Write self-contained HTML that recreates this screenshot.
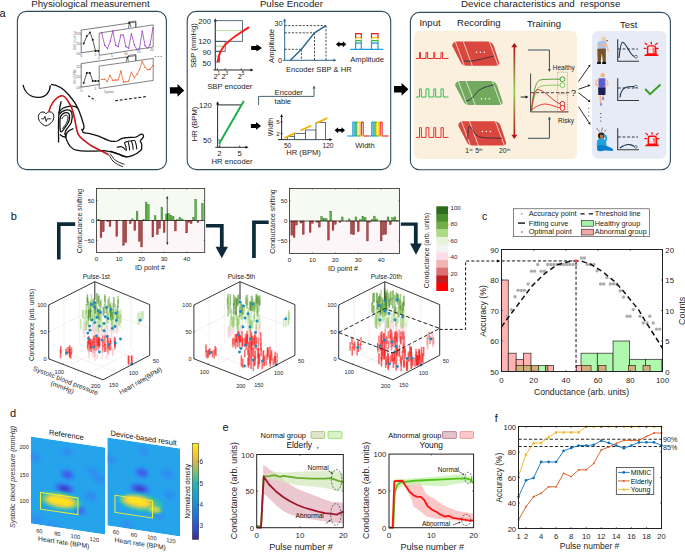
<!DOCTYPE html>
<html><head><meta charset="utf-8"><style>
html,body{margin:0;padding:0;background:#fff;}
body{width:685px;height:556px;overflow:hidden;}
svg{display:block;font-family:"Liberation Sans",sans-serif;}
</style></head><body>
<svg width="685" height="556" viewBox="0 0 685 556">
<defs><linearGradient id="ga" x1="0" y1="0" x2="0" y2="1"><stop offset="0" stop-color="#b0121a"/><stop offset="0.5" stop-color="#8cd04a"/><stop offset="1" stop-color="#c0121a"/></linearGradient>
<filter id="hb" x="-20%" y="-20%" width="140%" height="140%"><feGaussianBlur stdDeviation="2.1"/></filter>
<filter id="hb2" x="-20%" y="-20%" width="140%" height="140%"><feGaussianBlur stdDeviation="1.3"/></filter>
<linearGradient id="parula" x1="0" y1="1" x2="0" y2="0"><stop offset="0" stop-color="#3b2b95"/><stop offset="0.12" stop-color="#2f4fd0"/><stop offset="0.3" stop-color="#1a80e0"/><stop offset="0.45" stop-color="#14a3d8"/><stop offset="0.58" stop-color="#22b7b0"/><stop offset="0.7" stop-color="#7cc07a"/><stop offset="0.82" stop-color="#e0b84a"/><stop offset="0.92" stop-color="#fcd02c"/><stop offset="1" stop-color="#f8f41a"/></linearGradient>
<clipPath id="hc1"><rect x="0" y="0" width="74.3" height="87"/></clipPath>
<clipPath id="hc2"><rect x="0" y="0" width="72.7" height="87.9"/></clipPath></defs>
<rect width="685" height="556" fill="#fff"/>
<text x="-0.5" y="16.8" font-size="11" text-anchor="start" fill="#111">a</text>
<text x="31.2" y="6.8" font-size="9.7" text-anchor="start" fill="#1c1c1c">Physiological measurement</text>
<text x="259.9" y="7.2" font-size="9.7" text-anchor="start" fill="#1c1c1c">Pulse Encoder</text>
<text x="461" y="7" font-size="9.75" fill="#222" xml:space="preserve">Device characteristics and  response</text>
<rect x="17.4" y="11.4" width="149" height="158.2" fill="none" stroke="#2f4b5e" stroke-width="1.1" rx="9"/>
<rect x="187.2" y="11.4" width="203.5" height="158.2" fill="none" stroke="#2f4b5e" stroke-width="1.1" rx="9"/>
<rect x="414" y="30.7" width="163" height="128.3" fill="#fbf0de" stroke="none" stroke-width="1" rx="6"/>
<rect x="592" y="31" width="74.5" height="127.8" fill="#e6ebf6" stroke="none" stroke-width="1" rx="6"/>
<rect x="410.4" y="12.4" width="260" height="157.3" fill="none" stroke="#2f4b5e" stroke-width="1.1" rx="9"/>
<polygon points="169.9,87.2 177.5,87.2 177.5,84 184.2,90.4 177.5,96.8 177.5,93.6 169.9,93.6" stroke="none" stroke-width="1" fill="#000"/>
<polygon points="394,86.1 401.6,86.1 401.6,82.9 408.4,89.3 401.6,95.7 401.6,92.5 394,92.5" stroke="none" stroke-width="1" fill="#000"/>
<polygon points="81.2,30.1 135.8,22.2 135.8,44.9 81.2,52.8" stroke="#222" stroke-width="0.6" fill="#fff"/>
<polyline points="128.5,24 128.5,22 135.8,21 135.8,27.5" stroke="#222" stroke-width="0.6" fill="none"/>
<polyline points="83.68,43.54 86.79,36.09 89.89,32.37 92.74,39.81 95.47,50.98 98.57,50.98" stroke="#111" stroke-width="0.7" fill="none"/>
<circle cx="83.68" cy="43.54" r="0.95" fill="#111" stroke="none" stroke-width="1"/>
<circle cx="86.79" cy="36.09" r="0.95" fill="#111" stroke="none" stroke-width="1"/>
<circle cx="89.89" cy="32.37" r="0.95" fill="#111" stroke="none" stroke-width="1"/>
<circle cx="92.74" cy="39.81" r="0.95" fill="#111" stroke="none" stroke-width="1"/>
<circle cx="95.47" cy="50.98" r="0.95" fill="#111" stroke="none" stroke-width="1"/>
<circle cx="98.57" cy="50.98" r="0.95" fill="#111" stroke="none" stroke-width="1"/>
<polyline points="128.35,28.03 129.59,22.44 131.08,27.41" stroke="#111" stroke-width="0.6" fill="none"/>
<circle cx="129.59" cy="22.44" r="0.8" fill="#111" stroke="none" stroke-width="1"/>
<polygon points="99.2,33 153.2,24.9 153.2,47 99.2,55.3" stroke="#333" stroke-width="0.6" fill="#fff"/>
<polyline points="101.67,32.99 104.78,45.4 107.51,48.5 110.36,41.05 112.84,30.88 115.69,45.4 118.18,46.64 120.91,34.85 123.39,35.1 125.87,46.64 128.6,48.25 131.45,33.61 134.31,44.78 137.03,49.74 139.52,48.25 142.25,31.13 145.1,45.77 147.58,48.25 150.06,44.78 152.92,28.03" stroke="#9b3fc0" stroke-width="0.8" fill="none"/>
<circle cx="101.67" cy="32.99" r="0.7" fill="#9b3fc0" stroke="none" stroke-width="1"/>
<circle cx="104.78" cy="45.4" r="0.7" fill="#9b3fc0" stroke="none" stroke-width="1"/>
<circle cx="107.51" cy="48.5" r="0.7" fill="#9b3fc0" stroke="none" stroke-width="1"/>
<circle cx="110.36" cy="41.05" r="0.7" fill="#9b3fc0" stroke="none" stroke-width="1"/>
<circle cx="112.84" cy="30.88" r="0.7" fill="#9b3fc0" stroke="none" stroke-width="1"/>
<circle cx="115.69" cy="45.4" r="0.7" fill="#9b3fc0" stroke="none" stroke-width="1"/>
<circle cx="118.18" cy="46.64" r="0.7" fill="#9b3fc0" stroke="none" stroke-width="1"/>
<circle cx="120.91" cy="34.85" r="0.7" fill="#9b3fc0" stroke="none" stroke-width="1"/>
<circle cx="123.39" cy="35.1" r="0.7" fill="#9b3fc0" stroke="none" stroke-width="1"/>
<circle cx="125.87" cy="46.64" r="0.7" fill="#9b3fc0" stroke="none" stroke-width="1"/>
<circle cx="128.6" cy="48.25" r="0.7" fill="#9b3fc0" stroke="none" stroke-width="1"/>
<circle cx="131.45" cy="33.61" r="0.7" fill="#9b3fc0" stroke="none" stroke-width="1"/>
<circle cx="134.31" cy="44.78" r="0.7" fill="#9b3fc0" stroke="none" stroke-width="1"/>
<circle cx="137.03" cy="49.74" r="0.7" fill="#9b3fc0" stroke="none" stroke-width="1"/>
<circle cx="139.52" cy="48.25" r="0.7" fill="#9b3fc0" stroke="none" stroke-width="1"/>
<circle cx="142.25" cy="31.13" r="0.7" fill="#9b3fc0" stroke="none" stroke-width="1"/>
<circle cx="145.1" cy="45.77" r="0.7" fill="#9b3fc0" stroke="none" stroke-width="1"/>
<circle cx="147.58" cy="48.25" r="0.7" fill="#9b3fc0" stroke="none" stroke-width="1"/>
<circle cx="150.06" cy="44.78" r="0.7" fill="#9b3fc0" stroke="none" stroke-width="1"/>
<circle cx="152.92" cy="28.03" r="0.7" fill="#9b3fc0" stroke="none" stroke-width="1"/>
<text x="76" y="35" font-size="3.2" text-anchor="start" fill="#666">120</text>
<text x="76" y="44.8" font-size="3.2" text-anchor="start" fill="#666">110</text>
<text x="76" y="55" font-size="3.2" text-anchor="start" fill="#666">100</text>
<text x="80.6" y="57.4" font-size="3.2" text-anchor="start" fill="#555">0</text>
<text x="94.6" y="55.6" font-size="3.2" text-anchor="start" fill="#555">5</text>
<text x="98.3" y="58.8" font-size="3.2" text-anchor="start" fill="#555">0</text>
<text x="111" y="57" font-size="3.2" text-anchor="start" fill="#555">5</text>
<text x="124" y="55" font-size="3.2" text-anchor="start" fill="#555">10</text>
<text x="137" y="53" font-size="3.2" text-anchor="start" fill="#555">15</text>
<text x="150" y="51" font-size="3.2" text-anchor="start" fill="#555">20</text>
<text x="75.5" y="50" font-size="3.2" fill="#777" transform="rotate(-90 75.5 50)">SBP (mmHg)</text>
<polygon points="81.2,63.6 135.8,55.6 135.8,79 81.2,87.2" stroke="#222" stroke-width="0.6" fill="#fff"/>
<polyline points="128.5,57.5 128.5,55.5 135.8,54.5 135.8,61.2" stroke="#222" stroke-width="0.6" fill="none"/>
<polyline points="83.68,82.88 86.79,72.95 89.89,72.95 92.74,81.02 95.47,81.02 98.57,81.02" stroke="#111" stroke-width="0.7" fill="none"/>
<circle cx="83.68" cy="82.88" r="0.95" fill="#111" stroke="none" stroke-width="1"/>
<circle cx="86.79" cy="72.95" r="0.95" fill="#111" stroke="none" stroke-width="1"/>
<circle cx="89.89" cy="72.95" r="0.95" fill="#111" stroke="none" stroke-width="1"/>
<circle cx="92.74" cy="81.02" r="0.95" fill="#111" stroke="none" stroke-width="1"/>
<circle cx="95.47" cy="81.02" r="0.95" fill="#111" stroke="none" stroke-width="1"/>
<circle cx="98.57" cy="81.02" r="0.95" fill="#111" stroke="none" stroke-width="1"/>
<polyline points="126.12,61.79 127.36,57.44 128.6,61.41" stroke="#111" stroke-width="0.6" fill="none"/>
<circle cx="127.36" cy="57.44" r="0.8" fill="#111" stroke="none" stroke-width="1"/>
<polygon points="99.2,66.1 153.2,58.4 153.2,80.4 99.2,88.5" stroke="#333" stroke-width="0.6" fill="#fff"/>
<polyline points="101.67,79.53 104.53,79.16 107.26,81.64 110.11,75.43 112.84,80.4 115.69,80.02 118.18,80.02 120.91,70.84 123.39,82.01 125.87,81.64 128.6,81.27 131.45,72.08 134.31,77.92 137.03,74.19 139.52,69.85 142.25,61.41 145.1,67.37 147.58,69.85 150.06,69.23 152.92,65.51" stroke="#e8622a" stroke-width="0.8" fill="none"/>
<circle cx="101.67" cy="79.53" r="0.7" fill="#e8622a" stroke="none" stroke-width="1"/>
<circle cx="104.53" cy="79.16" r="0.7" fill="#e8622a" stroke="none" stroke-width="1"/>
<circle cx="107.26" cy="81.64" r="0.7" fill="#e8622a" stroke="none" stroke-width="1"/>
<circle cx="110.11" cy="75.43" r="0.7" fill="#e8622a" stroke="none" stroke-width="1"/>
<circle cx="112.84" cy="80.4" r="0.7" fill="#e8622a" stroke="none" stroke-width="1"/>
<circle cx="115.69" cy="80.02" r="0.7" fill="#e8622a" stroke="none" stroke-width="1"/>
<circle cx="118.18" cy="80.02" r="0.7" fill="#e8622a" stroke="none" stroke-width="1"/>
<circle cx="120.91" cy="70.84" r="0.7" fill="#e8622a" stroke="none" stroke-width="1"/>
<circle cx="123.39" cy="82.01" r="0.7" fill="#e8622a" stroke="none" stroke-width="1"/>
<circle cx="125.87" cy="81.64" r="0.7" fill="#e8622a" stroke="none" stroke-width="1"/>
<circle cx="128.6" cy="81.27" r="0.7" fill="#e8622a" stroke="none" stroke-width="1"/>
<circle cx="131.45" cy="72.08" r="0.7" fill="#e8622a" stroke="none" stroke-width="1"/>
<circle cx="134.31" cy="77.92" r="0.7" fill="#e8622a" stroke="none" stroke-width="1"/>
<circle cx="137.03" cy="74.19" r="0.7" fill="#e8622a" stroke="none" stroke-width="1"/>
<circle cx="139.52" cy="69.85" r="0.7" fill="#e8622a" stroke="none" stroke-width="1"/>
<circle cx="142.25" cy="61.41" r="0.7" fill="#e8622a" stroke="none" stroke-width="1"/>
<circle cx="145.1" cy="67.37" r="0.7" fill="#e8622a" stroke="none" stroke-width="1"/>
<circle cx="147.58" cy="69.85" r="0.7" fill="#e8622a" stroke="none" stroke-width="1"/>
<circle cx="150.06" cy="69.23" r="0.7" fill="#e8622a" stroke="none" stroke-width="1"/>
<circle cx="152.92" cy="65.51" r="0.7" fill="#e8622a" stroke="none" stroke-width="1"/>
<text x="76" y="67.5" font-size="3.2" text-anchor="start" fill="#666">112</text>
<text x="76" y="78" font-size="3.2" text-anchor="start" fill="#666">110</text>
<text x="76" y="89" font-size="3.2" text-anchor="start" fill="#666">108</text>
<text x="80.6" y="91.5" font-size="3.2" text-anchor="start" fill="#555">0</text>
<text x="94.6" y="89.5" font-size="3.2" text-anchor="start" fill="#555">5</text>
<text x="104" y="92.5" font-size="3.2" text-anchor="start" fill="#555">Cycles</text>
<text x="75.5" y="84" font-size="3.2" fill="#777" transform="rotate(-90 75.5 84)">HR (BPM)</text>
<circle cx="155.2" cy="56.4" r="0.5" fill="#262626" stroke="none" stroke-width="1"/>
<circle cx="158.2" cy="56.4" r="0.5" fill="#262626" stroke="none" stroke-width="1"/>
<circle cx="161.2" cy="56.4" r="0.5" fill="#262626" stroke="none" stroke-width="1"/>
<line x1="88.1" y1="95.7" x2="95.5" y2="100.4" stroke="#1c1c1c" stroke-width="1.1" stroke-dasharray="2.4,1.8"/>
<line x1="115.1" y1="100.7" x2="146.1" y2="96.6" stroke="#1c1c1c" stroke-width="1.1" stroke-dasharray="2.8,1.9"/>
<path d="M23,84.9 C25,93 31,97.8 39.2,97.4 C46,97 50,92 50.3,85.3" stroke="#111" stroke-width="1.3" fill="none"/>
<path d="M51,84.4 C58,85 64,89 68.9,95 C73,100 76,104 77,106.7 C79.5,111 81.5,117.5 83.7,124.7 C84.3,127.5 83.6,129.5 82.5,130.2" stroke="#111" stroke-width="1.3" fill="none"/>
<path d="M45.8,126.0 C42,124.5 38.6,121.5 38.4,117.5 C38.2,114 40.5,111.8 43,112.0 C44.5,112.1 45.5,113 46.0,114.0 C46.6,112.8 48,111.8 49.8,111.8 C52.5,111.9 54.1,114.2 53.8,117.5 C53.4,121.5 50,124.5 45.8,126.0 Z" stroke="#111" stroke-width="1" fill="#fff"/>
<path d="M41.3,118.8 L43.8,118.8 L44.9,116.3 L46.2,121.4 L47.3,118.8 L50.8,118.8" stroke="#111" stroke-width="0.9" fill="none"/>
<path d="M61.2,101.3 C59.6,107 58.7,114 58.5,122 C58.4,130 58.5,137 58.6,142.6" stroke="#111" stroke-width="1.3" fill="none"/>
<path d="M58.8,113.5 C60,110 62,108.2 65,107.3 C68,106.4 72,106.0 74.3,106.3 C75.8,106.6 76.8,107.3 77.2,108.3" stroke="#111" stroke-width="1.3" fill="none"/>
<path d="M59.2,114.5 C61,111.8 63.5,110.5 66.5,109.9 C69,109.6 71,110.5 71.8,112.5 C72.6,115.5 72.3,119.5 71.3,122.5 C70.3,125.2 68.5,127 66.8,129.0 C65.5,130.5 65.0,132.5 64.8,134.5" stroke="#111" stroke-width="1.3" fill="none"/>
<path d="M60.3,117.5 C61.2,114.5 63.2,113.0 66.0,112.6 C68.0,112.4 69.3,113.5 69.5,115.5 C69.8,118.5 69.0,121.8 67.5,124.0 C66.3,126.0 64.8,127.5 63.4,129.8 C62.6,131.2 61.4,132.2 60.6,131.6 C60.0,130.0 59.9,126.5 59.9,122.5 C59.9,120.5 60.0,119.0 60.3,117.5 Z" stroke="#111" stroke-width="1.3" fill="none"/>
<path d="M61.8,119.0 C62.8,116.5 64.5,115.3 66.2,115.2 C67.5,115.2 68.0,116.3 67.9,118.2 C67.7,120.8 66.6,123.3 65.3,125.0 C64.3,126.3 63.2,127.5 62.4,128.8" stroke="#111" stroke-width="0.9" fill="none"/>
<path d="M59.9,134.6 C61.5,136 63.5,137.2 65.2,137.0 M65.2,133.3 C65.5,137.5 66.8,142 70.3,146.6 C72.5,148.8 74.5,149.8 76.5,150.1 C80,151 83,151.2 85.7,151.2 C90,151.2 95,151 104,150.7 C108,151 112,151.6 118.4,154.2 C121,155.3 124,156.3 127.2,157.1" stroke="#111" stroke-width="1.3" fill="none"/>
<path d="M73.4,128.7 C70.5,129.5 68.3,130.8 67.3,132.3 C66.3,133.8 65.8,135.5 65.7,137.5" stroke="#111" stroke-width="1.3" fill="none"/>
<path d="M81.6,128.7 C82.2,130 82.5,131.5 83.1,132.3 C85,133 86.8,133.2 88.7,133.3 C92,134 95,134.8 97.9,135.8 C101,137 104,138.5 107,139.8 C109,140.7 110.5,141.2 112,141.3 C114.5,141.5 116.3,141.5 117.3,141.0 C119,140.0 120.5,139.0 122.2,138.4 C124.5,137.7 126.5,137.5 128.3,137.5 C131,137.4 133.5,137.3 135.7,137.2 C137.5,136.5 139.2,135.2 140.6,134.4 C141.8,134.0 142.9,134.4 143.4,135.3 C143.8,136.2 143.5,136.9 143.0,137.6 C142.2,138.8 141.0,140.0 140.0,140.8" stroke="#111" stroke-width="1.3" fill="none"/>
<path d="M140.0,140.8 C141.2,142.2 141.9,143.8 141.8,145.1 C141.8,146.8 141.7,148.2 141.5,149.4 C140.8,150.6 139.8,151.4 138.7,151.9 C137.8,152.6 137.0,153.2 136.3,153.7 C135.4,154.2 134.7,154.6 133.9,154.9 C132.8,155.4 131.8,155.8 130.8,156.1 C130.0,156.4 129.2,156.6 128.3,156.7 C127.3,156.8 126.3,156.8 125.3,156.7 C124.2,156.5 123.2,156.2 122.2,155.8 C120.5,155.0 119.0,154.3 117.3,153.7 C115.8,153.1 114.5,152.6 113.1,152.2 C112.0,151.8 111.0,151.5 110.0,151.2" stroke="#111" stroke-width="1.3" fill="none"/>
<path d="M124.4,143.0 C125.8,141.8 126.8,141.3 127.7,141.2 C129.0,140.9 130.0,140.8 131.1,140.8 C132.3,140.5 133.4,140.2 134.5,140.2" stroke="#111" stroke-width="1.1" fill="none"/>
<path d="M124.4,143 C126,145.5 126.3,147.3 126.5,150.3" stroke="#111" stroke-width="1.1" fill="none"/>
<path d="M127.7,141.2 C129.3,143.7 129.4,147.4 129.6,150.4" stroke="#111" stroke-width="1.1" fill="none"/>
<path d="M131.1,140.8 C132.7,143.3 133,146.8 133.2,149.8" stroke="#111" stroke-width="1.1" fill="none"/>
<path d="M134.5,140.2 C136.1,142.7 136.6,146.4 136.8,149.4" stroke="#111" stroke-width="1.1" fill="none"/>
<path d="M116.7,147.6 C118.5,146.7 120.3,146.5 121.6,146.7 C123.2,147.2 124.2,148.0 124.9,149.2 C125.4,150.0 126.0,150.4 126.5,150.3" stroke="#111" stroke-width="1.1" fill="none"/>
<path d="M108.6,154.7 C110.5,157 111.5,159.5 112.8,161.0 C115.5,163.5 119,165.3 123.0,166.8" stroke="#111" stroke-width="0.9" fill="none"/>
<path d="M110.2,153.7 C112,156 113.2,158.5 114.6,159.6 C117.5,161.8 121,163.3 124.5,164.3" stroke="#111" stroke-width="0.9" fill="none"/>
<path d="M48.8,111.6 C50.5,105 55,97.5 60.8,95.9 C64,95.3 66.5,98.5 68.0,101.3 C69.8,104 70.8,105.5 71.6,107.6 C73,111.5 73.8,114.5 74.3,117.5 C75.2,121.5 75.6,124 76.1,126.5 C76.7,129.5 77.2,131.5 77.9,133.7 C79,136 80.5,137.8 82.4,139.1 C86,142 88.5,143.6 90.8,145.5 C94.5,147.6 98,149.2 101.0,150.7 C104,152.2 106.5,153.5 108.6,154.7" stroke="#c8151b" stroke-width="1.6" fill="none"/>
<line x1="215.3" y1="70" x2="215.3" y2="20.5" stroke="#111" stroke-width="0.9"/>
<polygon points="213.8,21.5 215.3,18.2 216.8,21.5" stroke="none" stroke-width="1" fill="#111"/>
<line x1="213.5" y1="70" x2="251" y2="70" stroke="#111" stroke-width="0.9"/>
<polygon points="250.5,68.5 253.5,70 250.5,71.5" stroke="none" stroke-width="1" fill="#111"/>
<line x1="217.4" y1="70" x2="217.4" y2="68.3" stroke="#111" stroke-width="0.7"/>
<line x1="225.2" y1="70" x2="225.2" y2="68.3" stroke="#111" stroke-width="0.7"/>
<line x1="241.3" y1="70" x2="241.3" y2="68.3" stroke="#111" stroke-width="0.7"/>
<rect x="215.3" y="20.7" width="27.1" height="20.6" fill="none" stroke="#34505f" stroke-width="0.8"/>
<rect x="215.3" y="41.3" width="9.9" height="10" fill="none" stroke="#34505f" stroke-width="0.8"/>
<rect x="215.3" y="51.3" width="4.1" height="10.7" fill="none" stroke="#34505f" stroke-width="0.8"/>
<line x1="215.6" y1="30.6" x2="242.2" y2="30.6" stroke="#a9d48e" stroke-width="0.8"/>
<line x1="215.6" y1="46.2" x2="225" y2="46.2" stroke="#7fc060" stroke-width="0.8"/>
<line x1="215.6" y1="56.2" x2="219.2" y2="56.2" stroke="#7fc060" stroke-width="0.8"/>
<path d="M217.6,62.4 C218.5,56 220,51.5 223,47.5 C227,42 233,37.5 240,33 C244,30.5 247,28.5 249,27.1" stroke="#ff1a1a" stroke-width="2" fill="none"/>
<text x="211" y="24.2" font-size="7.7" text-anchor="end" fill="#1c1c1c">200</text>
<text x="211" y="44" font-size="7.7" text-anchor="end" fill="#1c1c1c">120</text>
<text x="211" y="54.8" font-size="7.7" text-anchor="end" fill="#1c1c1c">90</text>
<text x="211" y="66.2" font-size="7.7" text-anchor="end" fill="#1c1c1c">50</text>
<text x="195.8" y="45.5" font-size="7.6" text-anchor="middle" fill="#1c1c1c" transform="rotate(-90 195.8 45.5)">SBP (mmHg)</text>
<text x="213.6" y="78.6" font-size="7.7" text-anchor="start" fill="#1c1c1c">2</text>
<text x="217.6" y="75.4" font-size="4.8" text-anchor="start" fill="#1c1c1c">1</text>
<text x="221.5" y="78.6" font-size="7.7" text-anchor="start" fill="#1c1c1c">2</text>
<text x="225.5" y="75.4" font-size="4.8" text-anchor="start" fill="#1c1c1c">3</text>
<text x="237.7" y="78.6" font-size="7.7" text-anchor="start" fill="#1c1c1c">2</text>
<text x="241.7" y="75.4" font-size="4.8" text-anchor="start" fill="#1c1c1c">5</text>
<text x="229.8" y="89" font-size="7.7" text-anchor="middle" fill="#1c1c1c">SBP encoder</text>
<polygon points="251.2,45.9 256.5,45.9 256.5,44.3 262,47.9 256.5,51.5 256.5,49.9 251.2,49.9" stroke="none" stroke-width="1" fill="#000"/>
<line x1="284.7" y1="60.3" x2="284.7" y2="20.5" stroke="#2b6690" stroke-width="1"/>
<polygon points="283.2,21.5 284.7,18.3 286.2,21.5" stroke="none" stroke-width="1" fill="#2b6690"/>
<line x1="283" y1="60.3" x2="334" y2="60.3" stroke="#2b6690" stroke-width="1"/>
<polygon points="333.5,58.8 336.5,60.3 333.5,61.8" stroke="none" stroke-width="1" fill="#2b6690"/>
<line x1="284.7" y1="49.3" x2="301.4" y2="49.3" stroke="#111" stroke-width="0.75" stroke-dasharray="2.2,1.4"/>
<line x1="301.4" y1="49.3" x2="301.4" y2="60.3" stroke="#111" stroke-width="0.75" stroke-dasharray="2.2,1.4"/>
<line x1="284.7" y1="32.8" x2="314.5" y2="32.8" stroke="#111" stroke-width="0.75" stroke-dasharray="2.2,1.4"/>
<line x1="314.5" y1="32.8" x2="314.5" y2="60.3" stroke="#111" stroke-width="0.75" stroke-dasharray="2.2,1.4"/>
<line x1="284.7" y1="25.6" x2="326" y2="25.6" stroke="#111" stroke-width="0.75" stroke-dasharray="2.2,1.4"/>
<line x1="326" y1="25.6" x2="326" y2="60.3" stroke="#111" stroke-width="0.75" stroke-dasharray="2.2,1.4"/>
<polyline points="290.4,60.3 301.4,49.3 314.5,32.8 326,25.6" stroke="#2b6690" stroke-width="1.4" fill="none"/>
<text x="282.4" y="26.2" font-size="7.2" text-anchor="end" fill="#1c1c1c">30</text>
<text x="282" y="62.8" font-size="7.2" text-anchor="end" fill="#1c1c1c">0</text>
<text x="274" y="46" font-size="7.6" text-anchor="middle" fill="#1c1c1c" transform="rotate(-90 274 46)">Amplitude</text>
<text x="318.8" y="71.6" font-size="7.6" text-anchor="middle" fill="#1c1c1c">Encoder SBP &amp; HR</text>
<polygon points="335.9,44.2 339.4,41.2 339.4,43 342.8,43 342.8,41.2 346.3,44.2 342.8,47.2 342.8,45.4 339.4,45.4 339.4,47.2" stroke="none" stroke-width="1" fill="#000"/>
<line x1="350.3" y1="49.3" x2="383.3" y2="49.3" stroke="#1e9ee0" stroke-width="1.2"/>
<polyline points="355.6,49.3 355.6,43.2 361.3,43.2 361.3,49.3" stroke="#1e9ee0" stroke-width="1.2" fill="none"/>
<polyline points="355.6,43.2 355.6,40.6 361.3,40.6 361.3,43.2" stroke="#2db34a" stroke-width="1.2" fill="none"/>
<polyline points="355.6,40.6 355.6,37.9 361.3,37.9 361.3,40.6" stroke="#f7cc00" stroke-width="1.2" fill="none"/>
<polyline points="355.6,37.9 355.6,33.6 361.3,33.6 361.3,37.9" stroke="#ee1c25" stroke-width="1.2" fill="none"/>
<polyline points="371.5,49.3 371.5,43.2 378,43.2 378,49.3" stroke="#1e9ee0" stroke-width="1.2" fill="none"/>
<polyline points="371.5,43.2 371.5,40.6 378,40.6 378,43.2" stroke="#2db34a" stroke-width="1.2" fill="none"/>
<polyline points="371.5,40.6 371.5,37.9 378,37.9 378,40.6" stroke="#f7cc00" stroke-width="1.2" fill="none"/>
<polyline points="371.5,37.9 371.5,33.6 378,33.6 378,37.9" stroke="#ee1c25" stroke-width="1.2" fill="none"/>
<text x="367.2" y="62" font-size="7.6" text-anchor="middle" fill="#1c1c1c">Amplitude</text>
<line x1="217.6" y1="147.3" x2="217.6" y2="104" stroke="#111" stroke-width="0.9"/>
<polygon points="216.1,104.5 217.6,101.3 219.1,104.5" stroke="none" stroke-width="1" fill="#111"/>
<line x1="215.3" y1="147.3" x2="246" y2="147.3" stroke="#111" stroke-width="0.9"/>
<polygon points="245.5,145.8 248.5,147.3 245.5,148.8" stroke="none" stroke-width="1" fill="#111"/>
<line x1="217.6" y1="104.9" x2="241.2" y2="104.9" stroke="#111" stroke-width="0.9"/>
<rect x="217.6" y="140" width="2.3" height="7.3" fill="none" stroke="#34505f" stroke-width="0.7"/>
<line x1="239.7" y1="147.3" x2="239.7" y2="145.6" stroke="#111" stroke-width="0.7"/>
<line x1="219.4" y1="147.3" x2="219.4" y2="145.6" stroke="#111" stroke-width="0.7"/>
<line x1="219.1" y1="143.8" x2="243.8" y2="101" stroke="#1fb04c" stroke-width="2"/>
<text x="211.8" y="107.6" font-size="7.7" text-anchor="end" fill="#1c1c1c">120</text>
<text x="211.5" y="143.4" font-size="7.7" text-anchor="end" fill="#1c1c1c">50</text>
<text x="196.6" y="124" font-size="7.6" text-anchor="middle" fill="#1c1c1c" transform="rotate(-90 196.6 124)">HR (BPM)</text>
<text x="219.4" y="155.6" font-size="7.7" text-anchor="middle" fill="#1c1c1c">2</text>
<text x="239.7" y="155.6" font-size="7.7" text-anchor="middle" fill="#1c1c1c">5</text>
<text x="232" y="163.8" font-size="7.7" text-anchor="middle" fill="#1c1c1c">HR encoder</text>
<polygon points="250.9,123.9 256,123.9 256,122.1 261.1,125.9 256,129.7 256,127.9 250.9,127.9" stroke="none" stroke-width="1" fill="#000"/>
<polyline points="258.6,105 258.6,96.4 314,96.4 314,88" stroke="#34505f" stroke-width="0.9" fill="none"/>
<polygon points="312.6,88.5 314,85.4 315.4,88.5" stroke="none" stroke-width="1" fill="#34505f"/>
<text x="274.6" y="94.6" font-size="7.6" text-anchor="start" fill="#1c1c1c">Encoder</text>
<text x="274.6" y="104.4" font-size="7.6" text-anchor="start" fill="#1c1c1c">table</text>
<line x1="281.6" y1="139.6" x2="281.6" y2="116.5" stroke="#111" stroke-width="0.9"/>
<polygon points="280.2,117 281.6,114 283,117" stroke="none" stroke-width="1" fill="#111"/>
<line x1="278" y1="139.6" x2="330" y2="139.6" stroke="#111" stroke-width="0.9"/>
<polygon points="329.5,138.2 332.5,139.6 329.5,141" stroke="none" stroke-width="1" fill="#111"/>
<rect x="287.6" y="136.6" width="6.8" height="3" fill="#fff" stroke="#34505f" stroke-width="0.8"/>
<rect x="294.4" y="133.4" width="11.2" height="6.2" fill="#fff" stroke="#34505f" stroke-width="0.8"/>
<rect x="305.6" y="130" width="10.4" height="9.6" fill="#fff" stroke="#34505f" stroke-width="0.8"/>
<rect x="316" y="122.6" width="9.4" height="17" fill="#fff" stroke="#34505f" stroke-width="0.8"/>
<line x1="284.6" y1="138" x2="327.4" y2="118" stroke="#f2b200" stroke-width="1.8" stroke-dasharray="12,5.6"/>
<line x1="280.5" y1="122" x2="282.7" y2="122" stroke="#111" stroke-width="0.6"/>
<line x1="280.5" y1="133.6" x2="282.7" y2="133.6" stroke="#111" stroke-width="0.6"/>
<text x="279.6" y="124.2" font-size="6.2" text-anchor="end" fill="#1c1c1c">5</text>
<text x="279.6" y="135.8" font-size="6.2" text-anchor="end" fill="#1c1c1c">2</text>
<text x="273.4" y="127" font-size="7.2" text-anchor="middle" fill="#1c1c1c" transform="rotate(-90 273.4 127)">Width</text>
<text x="287.6" y="147.8" font-size="6.6" text-anchor="middle" fill="#1c1c1c">50</text>
<text x="328" y="147.8" font-size="6.6" text-anchor="middle" fill="#1c1c1c">120</text>
<text x="303.6" y="155.4" font-size="7.6" text-anchor="middle" fill="#1c1c1c">HR (BPM)</text>
<polygon points="334.6,130.2 338.1,127.2 338.1,129 341.5,129 341.5,127.2 345,130.2 341.5,133.2 341.5,131.4 338.1,131.4 338.1,133.2" stroke="none" stroke-width="1" fill="#000"/>
<line x1="352.8" y1="136" x2="352.8" y2="122.1" stroke="#1e9ee0" stroke-width="1.1"/>
<line x1="354.1" y1="136" x2="354.1" y2="122.1" stroke="#1e9ee0" stroke-width="1.1"/>
<line x1="355.2" y1="136" x2="355.2" y2="122.1" stroke="#2db34a" stroke-width="1.1"/>
<line x1="356.3" y1="136" x2="356.3" y2="122.1" stroke="#2db34a" stroke-width="1.1"/>
<line x1="357.8" y1="136" x2="357.8" y2="122.1" stroke="#f7cc00" stroke-width="1.1"/>
<line x1="359.9" y1="136" x2="359.9" y2="122.1" stroke="#f7cc00" stroke-width="1.1"/>
<line x1="361.3" y1="136" x2="361.3" y2="122.1" stroke="#ee1c25" stroke-width="1.1"/>
<line x1="363.2" y1="136" x2="363.2" y2="122.1" stroke="#ee1c25" stroke-width="1.1"/>
<line x1="352.8" y1="122.1" x2="355.2" y2="122.1" stroke="#1e9ee0" stroke-width="1.1"/>
<line x1="355.2" y1="122.1" x2="357.8" y2="122.1" stroke="#2db34a" stroke-width="1.1"/>
<line x1="357.8" y1="122.1" x2="361.3" y2="122.1" stroke="#f7cc00" stroke-width="1.1"/>
<line x1="361.3" y1="122.1" x2="363.2" y2="122.1" stroke="#ee1c25" stroke-width="1.1"/>
<line x1="371.7" y1="136" x2="371.7" y2="122.1" stroke="#1e9ee0" stroke-width="1.1"/>
<line x1="373" y1="136" x2="373" y2="122.1" stroke="#1e9ee0" stroke-width="1.1"/>
<line x1="374.1" y1="136" x2="374.1" y2="122.1" stroke="#2db34a" stroke-width="1.1"/>
<line x1="375.2" y1="136" x2="375.2" y2="122.1" stroke="#2db34a" stroke-width="1.1"/>
<line x1="376.7" y1="136" x2="376.7" y2="122.1" stroke="#f7cc00" stroke-width="1.1"/>
<line x1="378.8" y1="136" x2="378.8" y2="122.1" stroke="#f7cc00" stroke-width="1.1"/>
<line x1="380.2" y1="136" x2="380.2" y2="122.1" stroke="#ee1c25" stroke-width="1.1"/>
<line x1="382.1" y1="136" x2="382.1" y2="122.1" stroke="#ee1c25" stroke-width="1.1"/>
<line x1="371.7" y1="122.1" x2="374.1" y2="122.1" stroke="#1e9ee0" stroke-width="1.1"/>
<line x1="374.1" y1="122.1" x2="376.7" y2="122.1" stroke="#2db34a" stroke-width="1.1"/>
<line x1="376.7" y1="122.1" x2="380.2" y2="122.1" stroke="#f7cc00" stroke-width="1.1"/>
<line x1="380.2" y1="122.1" x2="382.1" y2="122.1" stroke="#ee1c25" stroke-width="1.1"/>
<line x1="347.2" y1="136" x2="356.7" y2="136" stroke="#1e9ee0" stroke-width="1.1"/>
<line x1="356.7" y1="136" x2="360.1" y2="136" stroke="#2db34a" stroke-width="1.1"/>
<line x1="360.1" y1="136" x2="363.9" y2="136" stroke="#f7cc00" stroke-width="1.1"/>
<line x1="363.9" y1="136" x2="369.2" y2="136" stroke="#ee1c25" stroke-width="1.1"/>
<line x1="369.2" y1="136" x2="375.7" y2="136" stroke="#1e9ee0" stroke-width="1.1"/>
<line x1="375.7" y1="136" x2="378.7" y2="136" stroke="#2db34a" stroke-width="1.1"/>
<line x1="378.7" y1="136" x2="382.5" y2="136" stroke="#f7cc00" stroke-width="1.1"/>
<line x1="382.5" y1="136" x2="388.6" y2="136" stroke="#ee1c25" stroke-width="1.1"/>
<text x="365" y="148.4" font-size="7.6" text-anchor="middle" fill="#1c1c1c">Width</text>
<text x="419.4" y="25.7" font-size="9.55" text-anchor="start" fill="#1c1c1c">Input</text>
<text x="457" y="25.7" font-size="9.55" text-anchor="start" fill="#1c1c1c">Recording</text>
<text x="526.9" y="27.3" font-size="9.55" text-anchor="start" fill="#1c1c1c">Training</text>
<text x="620" y="27.7" font-size="9.55" text-anchor="start" fill="#1c1c1c">Test</text>
<polyline points="416,58.5 419.5,58.5 419.5,52.4 420.4,52.4 420.4,58.5 426,58.5 426,52.4 427.6,52.4 427.6,58.5 433.8,58.5 433.8,52.4 434.7,52.4 434.7,58.5 441,58.5 441,52.4 442.6,52.4 442.6,58.5 448.5,58.5" stroke="#ee2a2a" stroke-width="1" fill="none"/>
<polyline points="416,97 419.5,97 419.5,88.9 421.4,88.9 421.4,97 426,97 426,88.9 428.9,88.9 428.9,97 433.8,97 433.8,88.9 435.7,88.9 435.7,97 441,97 441,88.9 443.3,88.9 443.3,97 448.5,97" stroke="#2fbf55" stroke-width="1" fill="none"/>
<polyline points="416,137.4 419.5,137.4 419.5,127.7 421.4,127.7 421.4,137.4 426,137.4 426,127.7 428.9,127.7 428.9,137.4 433.8,137.4 433.8,127.7 435.7,127.7 435.7,137.4 441,137.4 441,127.7 443.3,127.7 443.3,137.4 448.5,137.4" stroke="#ee2a2a" stroke-width="1" fill="none"/>
<path d="M457.1,41.6 L487.4,41.6 Q491.6,41.6 493.7,45.8 L498.92,61.6 Q500.6,65.8 495.56,65.8 L466.1,65.8 Q461.9,65.8 460.22,61.6 L452.14,45.8 Q452.9,41.6 457.1,41.6 Z" stroke="none" stroke-width="1" fill="#d9473f"/>
<line x1="455.3" y1="41.6" x2="464.3" y2="65.8" stroke="#fff" stroke-width="0.7"/>
<line x1="463.3" y1="41.6" x2="472.3" y2="65.8" stroke="#fff" stroke-width="0.7"/>
<line x1="489.3" y1="41.6" x2="498.3" y2="65.8" stroke="#fff" stroke-width="0.7"/>
<circle cx="476.5" cy="52.3" r="0.75" fill="#fff" stroke="none" stroke-width="1"/>
<circle cx="480.4" cy="52.3" r="0.75" fill="#fff" stroke="none" stroke-width="1"/>
<circle cx="484.3" cy="52.3" r="0.75" fill="#fff" stroke="none" stroke-width="1"/>
<path d="M464,60.8 C468,61.5 471,61.2 475,60.5 C482,59 490,57.2 494,56.0" stroke="#1f2a3a" stroke-width="0.8" fill="none"/>
<path d="M460,81 L490.7,81 Q494.9,81 497,85.2 L502.22,100.8 Q503.9,105 498.86,105 L469,105 Q464.8,105 463.12,100.8 L455.04,85.2 Q455.8,81 460,81 Z" stroke="none" stroke-width="1" fill="#73a95e"/>
<line x1="458.2" y1="81" x2="467.2" y2="105" stroke="#fff" stroke-width="0.7"/>
<line x1="466.2" y1="81" x2="475.2" y2="105" stroke="#fff" stroke-width="0.7"/>
<line x1="492.2" y1="81" x2="501.2" y2="105" stroke="#fff" stroke-width="0.7"/>
<circle cx="481.5" cy="98.8" r="0.75" fill="#fff" stroke="none" stroke-width="1"/>
<circle cx="485.4" cy="98.8" r="0.75" fill="#fff" stroke="none" stroke-width="1"/>
<circle cx="489.3" cy="98.8" r="0.75" fill="#fff" stroke="none" stroke-width="1"/>
<path d="M466,100.8 C469,101 471,99.5 474,96 C477,91.5 480,89 485,87.2 C489,86 491,85.5 494,84.8" stroke="#1f2a3a" stroke-width="0.8" fill="none"/>
<path d="M463.2,121.3 L494.2,121.3 Q498.4,121.3 500.5,125.5 L505.72,141.3 Q507.4,145.5 502.36,145.5 L472.2,145.5 Q468,145.5 466.32,141.3 L458.24,125.5 Q459,121.3 463.2,121.3 Z" stroke="none" stroke-width="1" fill="#d9473f"/>
<line x1="461.4" y1="121.3" x2="470.4" y2="145.5" stroke="#fff" stroke-width="0.7"/>
<line x1="469.4" y1="121.3" x2="478.4" y2="145.5" stroke="#fff" stroke-width="0.7"/>
<line x1="495.4" y1="121.3" x2="504.4" y2="145.5" stroke="#fff" stroke-width="0.7"/>
<circle cx="482.5" cy="131.4" r="0.75" fill="#fff" stroke="none" stroke-width="1"/>
<circle cx="486.4" cy="131.4" r="0.75" fill="#fff" stroke="none" stroke-width="1"/>
<circle cx="490.3" cy="131.4" r="0.75" fill="#fff" stroke="none" stroke-width="1"/>
<path d="M467.8,139.5 C467.8,132 468.5,126.5 469.5,126 C471,126 473,132 476,135 C479,137.5 484,138 490,138 C495,138 499,138.2 502,138.3" stroke="#1f2a3a" stroke-width="0.8" fill="none"/>
<text x="465.3" y="153.4" font-size="6.8" text-anchor="start" fill="#1c1c1c">1</text>
<text x="469.2" y="150.6" font-size="4.3" text-anchor="start" fill="#1c1c1c">st</text>
<text x="475.2" y="153.4" font-size="6.8" text-anchor="start" fill="#1c1c1c">5</text>
<text x="479.1" y="150.6" font-size="4.3" text-anchor="start" fill="#1c1c1c">th</text>
<text x="499" y="153.4" font-size="6.8" text-anchor="start" fill="#1c1c1c">20</text>
<text x="506.7" y="150.6" font-size="4.3" text-anchor="start" fill="#1c1c1c">th</text>
<rect x="513.5" y="45.5" width="1.7" height="90.5" fill="url(#ga)" stroke="none" stroke-width="1"/>
<polygon points="511.3,47.2 514.35,42.9 517.4,47.2" stroke="none" stroke-width="1" fill="#b0121a"/>
<polygon points="511.3,134.8 514.35,139.1 517.4,134.8" stroke="none" stroke-width="1" fill="#c0121a"/>
<polyline points="528,50 549.4,50 549.4,69.5" stroke="#34505f" stroke-width="1" fill="none"/>
<polygon points="547.9,69 549.4,72 550.9,69" stroke="none" stroke-width="1" fill="#34505f"/>
<polyline points="528,138.3 549.4,138.3 549.4,119" stroke="#34505f" stroke-width="1" fill="none"/>
<polygon points="547.9,119.5 549.4,116.5 550.9,119.5" stroke="none" stroke-width="1" fill="#34505f"/>
<text x="552.8" y="70.2" font-size="6.5" text-anchor="start" fill="#1c1c1c">Healthy</text>
<text x="558" y="123.4" font-size="6.5" text-anchor="start" fill="#1c1c1c">Risky</text>
<line x1="520.7" y1="97" x2="526" y2="97" stroke="#111" stroke-width="0.9"/>
<polygon points="525.5,95.5 528.5,97 525.5,98.5" stroke="none" stroke-width="1" fill="#111"/>
<polyline points="530.6,73.5 530.6,111.9 568.6,111.9" stroke="#333" stroke-width="0.9" fill="none"/>
<rect x="557.6" y="72.2" width="9.8" height="20.5" fill="none" stroke="#2f9a2f" stroke-width="0.5" stroke-dasharray="1,0.8"/>
<rect x="557.6" y="93.9" width="9.8" height="18" fill="none" stroke="#e52020" stroke-width="0.5" stroke-dasharray="1,0.8"/>
<path d="M531.5,111 C533,95 535,82 540,80 C545,79 552,79.2 560.5,79.2" stroke="#3f9a2a" stroke-width="0.9" fill="none"/>
<path d="M531.5,111 C533.5,98 536,88 541,86 C546,85 553,85.2 560.5,85.2" stroke="#7ccc50" stroke-width="0.9" fill="none"/>
<path d="M531.5,111 C532.5,100 534,91 537,89.6 C541,89 548,95 553,99.5 C556,102 558,103 560.5,103.8" stroke="#d22020" stroke-width="0.9" fill="none"/>
<path d="M531.5,110 C536,106 541,104 546,104 C551,104.3 555,107 560.5,108" stroke="#ff2020" stroke-width="0.9" fill="none"/>
<line x1="531" y1="92.7" x2="570" y2="92.7" stroke="#666" stroke-width="1.3" stroke-dasharray="3.2,1.8"/>
<circle cx="562.5" cy="79.2" r="2.4" fill="#fff" stroke="#3f9a2a" stroke-width="1"/>
<circle cx="562.5" cy="85.2" r="2.4" fill="#fff" stroke="#7ccc50" stroke-width="1"/>
<circle cx="562.5" cy="103.8" r="2.4" fill="#fff" stroke="#d22020" stroke-width="1"/>
<circle cx="562.5" cy="108" r="2.4" fill="#fff" stroke="#ff2020" stroke-width="1"/>
<text x="570.8" y="96" font-size="9.8" text-anchor="start" fill="#1c1c1c">?</text>
<line x1="578.5" y1="81.6" x2="589.03" y2="66.47" stroke="#111" stroke-width="0.9"/>
<polygon points="590.4,64.5 590.1,67.21 587.96,65.73" stroke="none" stroke-width="1" fill="#111"/>
<line x1="578.5" y1="89.3" x2="588.14" y2="85.82" stroke="#111" stroke-width="0.9"/>
<polygon points="590.4,85 588.58,87.04 587.7,84.59" stroke="none" stroke-width="1" fill="#111"/>
<line x1="578.5" y1="92.7" x2="588.52" y2="100.61" stroke="#111" stroke-width="0.9"/>
<polygon points="590.4,102.1 587.71,101.63 589.32,99.59" stroke="none" stroke-width="1" fill="#111"/>
<line x1="578.5" y1="106.7" x2="589.08" y2="122.7" stroke="#111" stroke-width="0.9"/>
<polygon points="590.4,124.7 587.99,123.41 590.16,121.98" stroke="none" stroke-width="1" fill="#111"/>
<circle cx="588.7" cy="108.3" r="0.5" fill="#1c1c1c" stroke="none" stroke-width="1"/>
<circle cx="588.7" cy="112" r="0.5" fill="#1c1c1c" stroke="none" stroke-width="1"/>
<circle cx="588.7" cy="115.7" r="0.5" fill="#1c1c1c" stroke="none" stroke-width="1"/>
<circle cx="600.8" cy="113.6" r="0.55" fill="#1c1c1c" stroke="none" stroke-width="1"/>
<circle cx="600.8" cy="117.3" r="0.55" fill="#1c1c1c" stroke="none" stroke-width="1"/>
<circle cx="600.8" cy="121" r="0.55" fill="#1c1c1c" stroke="none" stroke-width="1"/>
<path d="M597.5,42.6 C599,41 602,40.2 604.5,40.3 C605.8,40.6 606.2,42 606.0,44 L605.8,48.6 L598.6,49.6 C597.6,47 597.2,44.5 597.5,42.6 Z" stroke="none" stroke-width="1" fill="#a9c5f2"/>
<path d="M605.4,42.6 C606.8,44.5 607.6,47.5 608.2,51.2" stroke="#f0b890" stroke-width="1.3" fill="none" stroke-linecap="round"/>
<path d="M598.0,45.6 C600,45.9 602.5,45.3 604.6,44.5" stroke="#f0b890" stroke-width="1.4" fill="none" stroke-linecap="round"/>
<circle cx="603.8" cy="38.8" r="2.35" fill="#f2caa4" stroke="none" stroke-width="1"/>
<path d="M601.6,37.8 C601.8,36.2 603.2,35.8 604.6,36.2 C605.6,36.6 606.2,37.6 606.1,38.6" stroke="#e8e8e8" stroke-width="1.2" fill="none"/>
<rect x="606.3" y="40.1" width="1.3" height="1.2" fill="#333" stroke="none" stroke-width="1"/>
<path d="M597.3,48.8 L605.9,48.4 L605.7,61.9 L603.0,61.9 L601.8,53.2 L600.6,61.9 L597.7,61.9 Z" stroke="none" stroke-width="1" fill="#7a5226"/>
<path d="M597.4,61.8 L600.9,61.8 L600.9,63.9 L597.0,63.9 Z M602.3,61.8 L605.8,61.8 L606.2,63.9 L602.1,63.9 Z" stroke="none" stroke-width="1" fill="#111"/>
<circle cx="602.7" cy="75.2" r="2.3" fill="#f4b487" stroke="none" stroke-width="1"/>
<path d="M598.6,78.2 L605.2,78.2 L605.6,87.8 L598.3,87.8 Z" stroke="none" stroke-width="1" fill="#5b5bd2"/>
<path d="M598.8,79.2 C596.6,80.5 595.4,82.5 596.2,84.5 C597,85.6 598.3,86.2 599.2,86.0" stroke="#f4b487" stroke-width="1.3" fill="none"/>
<path d="M605.0,79.2 C607.2,80.5 608.4,82.5 607.6,84.5 C606.8,85.6 605.5,86.2 604.6,86.0" stroke="#f4b487" stroke-width="1.3" fill="none"/>
<path d="M598.1,87.5 L605.6,87.5 L605.4,94.9 L598.3,94.9 Z" stroke="none" stroke-width="1" fill="#1c1d58"/>
<path d="M600.3,94.9 L600.7,103.4 M603.0,94.9 L603.1,98.3" stroke="#f4b487" stroke-width="1.6" fill="none"/>
<path d="M600.0,103.2 L602.0,103.2 L602.0,105.6 L600.0,105.6 Z M602.0,97.6 L604.2,97.6 L604.2,99.8 L602.0,99.8 Z" stroke="none" stroke-width="1" fill="#8484d4"/>
<path d="M596.3,127.8 L599.6,131.8 M602.5,127.6 L601.5,131.5 M606.2,129.6 L604.2,132.2" stroke="#444" stroke-width="0.6" fill="none"/>
<circle cx="601.3" cy="135.8" r="3.3" fill="#2a1a10" stroke="none" stroke-width="1"/>
<path d="M600.2,134.6 C601.8,134.2 603.4,135 603.4,136.8 C603.3,138.5 602,139.4 600.8,139.1 C600.1,138 600,136 600.2,134.6 Z" stroke="none" stroke-width="1" fill="#c07a44"/>
<path d="M603.6,134.8 C605.6,135.2 606.6,137 606.2,139.4 L605.2,141.2" stroke="#1aa0e0" stroke-width="1.8" fill="none"/>
<path d="M597.0,141.2 C597.5,139.2 599.5,138.3 602.0,138.6 C604.5,139.0 606.0,140.6 606.4,143.0 L606.6,146.6 L597.2,147.4 C596.8,145.5 596.7,143 597.0,141.2 Z" stroke="none" stroke-width="1" fill="#1ba2e2"/>
<path d="M597.3,146.2 C598.5,144.8 601,144.6 603.5,145.2 C606.5,145.8 610,146.8 612.6,148.8 C613.6,149.8 613.2,150.8 612.0,151.0 C609,150.6 605.8,150.2 603.5,150.8 C601,151.4 598.5,151.3 597.4,150.2 C596.9,149 596.9,147.5 597.3,146.2 Z" stroke="none" stroke-width="1" fill="#0a80d0"/>
<circle cx="605.3" cy="143.9" r="0.9" fill="#c07a44" stroke="none" stroke-width="1"/>
<polyline points="617.7,39.2 617.7,61.2 639,61.2" stroke="#3a3a3a" stroke-width="1.1" fill="none"/>
<line x1="618" y1="49" x2="638" y2="49" stroke="#222" stroke-width="0.9" stroke-dasharray="2.8,1.8"/>
<path d="M619,58 C620,48 621,42.5 622.6,42.3 C625,42.5 628,49.5 631,53.5 C632.5,55.5 634,56.5 634.6,56.7" stroke="#1a3550" stroke-width="1.1" fill="none"/>
<circle cx="635.9" cy="56.7" r="1.4" fill="#fff" stroke="#1f3a50" stroke-width="0.7"/>
<polyline points="617.7,78.3 617.7,100.5 639,100.5" stroke="#3a3a3a" stroke-width="1.1" fill="none"/>
<line x1="618" y1="88" x2="638" y2="88" stroke="#222" stroke-width="0.9" stroke-dasharray="2.8,1.8"/>
<path d="M620,97.5 C620.5,92 622.5,88.5 626,87.2 C629,86.3 632,86.4 634.4,86.5" stroke="#1a3550" stroke-width="1.1" fill="none"/>
<circle cx="635.7" cy="86.5" r="1.3" fill="#fff" stroke="#1f3a50" stroke-width="0.7"/>
<polyline points="617.7,128.2 617.7,149.8 639,149.8" stroke="#3a3a3a" stroke-width="1.1" fill="none"/>
<line x1="618" y1="137" x2="638" y2="137" stroke="#222" stroke-width="0.9" stroke-dasharray="2.8,1.8"/>
<path d="M620,148 C623,145.5 627,144.3 630,144.6 C632,144.9 633.5,145.8 634.5,146.6" stroke="#1a3550" stroke-width="1.1" fill="none"/>
<circle cx="635.8" cy="146.9" r="1.3" fill="#fff" stroke="#1f3a50" stroke-width="0.7"/>
<polygon points="644,56 658.6,56 657,54 645.9,54" stroke="none" stroke-width="1" fill="#ff0a0a"/>
<path d="M647.6,54 L647.6,47.6 Q647.6,45.9 649.3,45.9 L653.7,45.9 Q655.4,45.9 655.5,47.6 L656,54 Z" stroke="#ff0a0a" stroke-width="1.4" fill="#ffe6e6"/>
<line x1="652.9" y1="47.6" x2="653.5" y2="53.2" stroke="#ff0a0a" stroke-width="0.7"/>
<line x1="654" y1="47.8" x2="654.6" y2="53.2" stroke="#ff0a0a" stroke-width="0.6"/>
<line x1="651.3" y1="42.2" x2="651.3" y2="43.9" stroke="#ff0a0a" stroke-width="1.2" stroke-linecap="round"/>
<line x1="645.1" y1="43.1" x2="646.9" y2="44.5" stroke="#ff0a0a" stroke-width="1.2" stroke-linecap="round"/>
<line x1="657.4" y1="43.1" x2="655.6" y2="44.5" stroke="#ff0a0a" stroke-width="1.2" stroke-linecap="round"/>
<line x1="644.2" y1="48.4" x2="645.9" y2="48.4" stroke="#ff0a0a" stroke-width="1.2" stroke-linecap="round"/>
<line x1="656.3" y1="48.4" x2="658.2" y2="48.4" stroke="#ff0a0a" stroke-width="1.2" stroke-linecap="round"/>
<polygon points="644.7,146.3 659.3,146.3 657.7,144.3 646.6,144.3" stroke="none" stroke-width="1" fill="#ff0a0a"/>
<path d="M648.3,144.3 L648.3,137.9 Q648.3,136.2 650,136.2 L654.4,136.2 Q656.1,136.2 656.2,137.9 L656.7,144.3 Z" stroke="#ff0a0a" stroke-width="1.4" fill="#ffe6e6"/>
<line x1="653.6" y1="137.9" x2="654.2" y2="143.5" stroke="#ff0a0a" stroke-width="0.7"/>
<line x1="654.7" y1="138.1" x2="655.3" y2="143.5" stroke="#ff0a0a" stroke-width="0.6"/>
<line x1="652" y1="132.5" x2="652" y2="134.2" stroke="#ff0a0a" stroke-width="1.2" stroke-linecap="round"/>
<line x1="645.8" y1="133.4" x2="647.6" y2="134.8" stroke="#ff0a0a" stroke-width="1.2" stroke-linecap="round"/>
<line x1="658.1" y1="133.4" x2="656.3" y2="134.8" stroke="#ff0a0a" stroke-width="1.2" stroke-linecap="round"/>
<line x1="644.9" y1="138.7" x2="646.6" y2="138.7" stroke="#ff0a0a" stroke-width="1.2" stroke-linecap="round"/>
<line x1="657" y1="138.7" x2="658.9" y2="138.7" stroke="#ff0a0a" stroke-width="1.2" stroke-linecap="round"/>
<polyline points="645.2,89 650,94.2 660.5,84.6" stroke="#3aa12a" stroke-width="2" fill="none"/>
<text x="10.8" y="220.2" font-size="11" text-anchor="start" fill="#111">b</text>
<rect x="96.5" y="188.5" width="108.2" height="32" fill="#f6faf2" stroke="none" stroke-width="1"/>
<rect x="96.5" y="220.5" width="108.2" height="32" fill="#fcf6f8" stroke="none" stroke-width="1"/>
<rect x="97.85" y="219.3" width="1.8" height="1.2" fill="#5db34a" stroke="#2f6e22" stroke-width="0.35"/>
<rect x="100.11" y="220.5" width="1.8" height="17.2" fill="#b94646" stroke="#6d1c1c" stroke-width="0.35"/>
<rect x="102.36" y="220.5" width="1.8" height="11.2" fill="#b94646" stroke="#6d1c1c" stroke-width="0.35"/>
<rect x="106.87" y="220.5" width="1.8" height="1.2" fill="#b94646" stroke="#6d1c1c" stroke-width="0.35"/>
<rect x="109.12" y="220.5" width="1.8" height="6" fill="#b94646" stroke="#6d1c1c" stroke-width="0.35"/>
<rect x="115.89" y="220.5" width="1.8" height="16" fill="#b94646" stroke="#6d1c1c" stroke-width="0.35"/>
<rect x="118.14" y="220.1" width="1.8" height="0.4" fill="#5db34a" stroke="#2f6e22" stroke-width="0.35"/>
<rect x="122.65" y="220.5" width="1.8" height="24.8" fill="#b94646" stroke="#6d1c1c" stroke-width="0.35"/>
<rect x="124.9" y="220.5" width="1.8" height="22" fill="#b94646" stroke="#6d1c1c" stroke-width="0.35"/>
<rect x="129.41" y="220.5" width="1.8" height="3.2" fill="#b94646" stroke="#6d1c1c" stroke-width="0.35"/>
<rect x="131.66" y="218.9" width="1.8" height="1.6" fill="#5db34a" stroke="#2f6e22" stroke-width="0.35"/>
<rect x="133.92" y="220.5" width="1.8" height="10" fill="#b94646" stroke="#6d1c1c" stroke-width="0.35"/>
<rect x="136.17" y="211.3" width="1.8" height="9.2" fill="#5db34a" stroke="#2f6e22" stroke-width="0.35"/>
<rect x="138.43" y="220.5" width="1.8" height="20.8" fill="#b94646" stroke="#6d1c1c" stroke-width="0.35"/>
<rect x="140.68" y="220.5" width="1.8" height="26.4" fill="#b94646" stroke="#6d1c1c" stroke-width="0.35"/>
<rect x="142.94" y="219.7" width="1.8" height="0.8" fill="#5db34a" stroke="#2f6e22" stroke-width="0.35"/>
<rect x="145.19" y="202.1" width="1.8" height="18.4" fill="#5db34a" stroke="#2f6e22" stroke-width="0.35"/>
<rect x="147.44" y="204.5" width="1.8" height="16" fill="#5db34a" stroke="#2f6e22" stroke-width="0.35"/>
<rect x="151.95" y="220.5" width="1.8" height="16.4" fill="#b94646" stroke="#6d1c1c" stroke-width="0.35"/>
<rect x="154.21" y="215.7" width="1.8" height="4.8" fill="#5db34a" stroke="#2f6e22" stroke-width="0.35"/>
<rect x="156.46" y="220.5" width="1.8" height="14" fill="#b94646" stroke="#6d1c1c" stroke-width="0.35"/>
<rect x="158.72" y="220.5" width="1.8" height="8" fill="#b94646" stroke="#6d1c1c" stroke-width="0.35"/>
<rect x="160.97" y="207.7" width="1.8" height="12.8" fill="#5db34a" stroke="#2f6e22" stroke-width="0.35"/>
<rect x="163.22" y="220.5" width="1.8" height="12" fill="#b94646" stroke="#6d1c1c" stroke-width="0.35"/>
<rect x="165.48" y="214.1" width="1.8" height="6.4" fill="#5db34a" stroke="#2f6e22" stroke-width="0.35"/>
<rect x="167.73" y="213.3" width="1.8" height="7.2" fill="#5db34a" stroke="#2f6e22" stroke-width="0.35"/>
<rect x="169.99" y="215.3" width="1.8" height="5.2" fill="#5db34a" stroke="#2f6e22" stroke-width="0.35"/>
<rect x="172.24" y="216.5" width="1.8" height="4" fill="#5db34a" stroke="#2f6e22" stroke-width="0.35"/>
<rect x="174.49" y="220.5" width="1.8" height="10.4" fill="#b94646" stroke="#6d1c1c" stroke-width="0.35"/>
<rect x="176.75" y="219.7" width="1.8" height="0.8" fill="#5db34a" stroke="#2f6e22" stroke-width="0.35"/>
<rect x="179" y="217.7" width="1.8" height="2.8" fill="#5db34a" stroke="#2f6e22" stroke-width="0.35"/>
<rect x="181.26" y="218.9" width="1.8" height="1.6" fill="#5db34a" stroke="#2f6e22" stroke-width="0.35"/>
<rect x="185.76" y="220.5" width="1.8" height="12.4" fill="#b94646" stroke="#6d1c1c" stroke-width="0.35"/>
<rect x="188.02" y="220.5" width="1.8" height="2" fill="#b94646" stroke="#6d1c1c" stroke-width="0.35"/>
<rect x="190.27" y="220.5" width="1.8" height="3.2" fill="#b94646" stroke="#6d1c1c" stroke-width="0.35"/>
<rect x="192.53" y="217.3" width="1.8" height="3.2" fill="#5db34a" stroke="#2f6e22" stroke-width="0.35"/>
<rect x="194.78" y="199.3" width="1.8" height="21.2" fill="#5db34a" stroke="#2f6e22" stroke-width="0.35"/>
<rect x="197.04" y="220.5" width="1.8" height="2" fill="#b94646" stroke="#6d1c1c" stroke-width="0.35"/>
<rect x="201.54" y="203.3" width="1.8" height="17.2" fill="#5db34a" stroke="#2f6e22" stroke-width="0.35"/>
<line x1="96.5" y1="220.5" x2="204.7" y2="220.5" stroke="#111" stroke-width="0.7"/>
<rect x="96.5" y="188.5" width="108.2" height="64" fill="none" stroke="#333" stroke-width="0.85"/>
<line x1="96.5" y1="200.5" x2="97.7" y2="200.5" stroke="#333" stroke-width="0.5"/>
<line x1="204.7" y1="200.5" x2="203.5" y2="200.5" stroke="#333" stroke-width="0.5"/>
<line x1="96.5" y1="240.5" x2="97.7" y2="240.5" stroke="#333" stroke-width="0.5"/>
<line x1="204.7" y1="240.5" x2="203.5" y2="240.5" stroke="#333" stroke-width="0.5"/>
<line x1="119.04" y1="252.5" x2="119.04" y2="251.3" stroke="#333" stroke-width="0.5"/>
<line x1="119.04" y1="188.5" x2="119.04" y2="189.7" stroke="#333" stroke-width="0.5"/>
<line x1="141.58" y1="252.5" x2="141.58" y2="251.3" stroke="#333" stroke-width="0.5"/>
<line x1="141.58" y1="188.5" x2="141.58" y2="189.7" stroke="#333" stroke-width="0.5"/>
<line x1="164.12" y1="252.5" x2="164.12" y2="251.3" stroke="#333" stroke-width="0.5"/>
<line x1="164.12" y1="188.5" x2="164.12" y2="189.7" stroke="#333" stroke-width="0.5"/>
<line x1="186.67" y1="252.5" x2="186.67" y2="251.3" stroke="#333" stroke-width="0.5"/>
<line x1="186.67" y1="188.5" x2="186.67" y2="189.7" stroke="#333" stroke-width="0.5"/>
<text x="94.5" y="202.6" font-size="6.1" text-anchor="end" fill="#262626">50</text>
<text x="94.5" y="222.6" font-size="6.1" text-anchor="end" fill="#262626">0</text>
<text x="94.5" y="242.6" font-size="6.1" text-anchor="end" fill="#262626">−50</text>
<text x="96.5" y="261.1" font-size="6.1" text-anchor="middle" fill="#262626">0</text>
<text x="119.04" y="261.1" font-size="6.1" text-anchor="middle" fill="#262626">10</text>
<text x="141.58" y="261.1" font-size="6.1" text-anchor="middle" fill="#262626">20</text>
<text x="164.12" y="261.1" font-size="6.1" text-anchor="middle" fill="#262626">30</text>
<text x="186.67" y="261.1" font-size="6.1" text-anchor="middle" fill="#262626">40</text>
<text x="81.7" y="221.1" font-size="6.9" text-anchor="middle" fill="#262626" transform="rotate(-90 81.7 221.1)">Conductance shifting</text>
<text x="150" y="270.1" font-size="7" text-anchor="middle" fill="#262626">ID point #</text>
<line x1="167.28" y1="198.1" x2="167.28" y2="242.9" stroke="#111" stroke-width="0.7"/>
<polygon points="166.18,198.5 167.28,196.1 168.38,198.5" stroke="none" stroke-width="1" fill="#111"/>
<polygon points="166.18,242.5 167.28,244.9 168.38,242.5" stroke="none" stroke-width="1" fill="#111"/>
<rect x="289.5" y="188.5" width="110" height="32.5" fill="#f6faf2" stroke="none" stroke-width="1"/>
<rect x="289.5" y="221" width="110" height="32.5" fill="#fcf6f8" stroke="none" stroke-width="1"/>
<rect x="290.88" y="221" width="1.83" height="14.22" fill="#b94646" stroke="#6d1c1c" stroke-width="0.35"/>
<rect x="293.17" y="221" width="1.83" height="16.25" fill="#b94646" stroke="#6d1c1c" stroke-width="0.35"/>
<rect x="295.46" y="221" width="1.83" height="4.06" fill="#b94646" stroke="#6d1c1c" stroke-width="0.35"/>
<rect x="300.04" y="221" width="1.83" height="2.03" fill="#b94646" stroke="#6d1c1c" stroke-width="0.35"/>
<rect x="302.33" y="221" width="1.83" height="13.41" fill="#b94646" stroke="#6d1c1c" stroke-width="0.35"/>
<rect x="309.21" y="221" width="1.83" height="11.38" fill="#b94646" stroke="#6d1c1c" stroke-width="0.35"/>
<rect x="311.5" y="221" width="1.83" height="2.44" fill="#b94646" stroke="#6d1c1c" stroke-width="0.35"/>
<rect x="316.08" y="221" width="1.83" height="1.22" fill="#b94646" stroke="#6d1c1c" stroke-width="0.35"/>
<rect x="318.38" y="221" width="1.83" height="6.09" fill="#b94646" stroke="#6d1c1c" stroke-width="0.35"/>
<rect x="320.67" y="216.53" width="1.83" height="4.47" fill="#5db34a" stroke="#2f6e22" stroke-width="0.35"/>
<rect x="322.96" y="218.56" width="1.83" height="2.44" fill="#5db34a" stroke="#2f6e22" stroke-width="0.35"/>
<rect x="325.25" y="218.56" width="1.83" height="2.44" fill="#5db34a" stroke="#2f6e22" stroke-width="0.35"/>
<rect x="327.54" y="221" width="1.83" height="19.09" fill="#b94646" stroke="#6d1c1c" stroke-width="0.35"/>
<rect x="329.83" y="211.25" width="1.83" height="9.75" fill="#5db34a" stroke="#2f6e22" stroke-width="0.35"/>
<rect x="332.12" y="221" width="1.83" height="9.34" fill="#b94646" stroke="#6d1c1c" stroke-width="0.35"/>
<rect x="334.42" y="221" width="1.83" height="3.25" fill="#b94646" stroke="#6d1c1c" stroke-width="0.35"/>
<rect x="339" y="221" width="1.83" height="1.22" fill="#b94646" stroke="#6d1c1c" stroke-width="0.35"/>
<rect x="341.29" y="216.94" width="1.83" height="4.06" fill="#5db34a" stroke="#2f6e22" stroke-width="0.35"/>
<rect x="345.88" y="221" width="1.83" height="0.41" fill="#b94646" stroke="#6d1c1c" stroke-width="0.35"/>
<rect x="348.17" y="218.97" width="1.83" height="2.03" fill="#5db34a" stroke="#2f6e22" stroke-width="0.35"/>
<rect x="350.46" y="221" width="1.83" height="13" fill="#b94646" stroke="#6d1c1c" stroke-width="0.35"/>
<rect x="352.75" y="221" width="1.83" height="13.81" fill="#b94646" stroke="#6d1c1c" stroke-width="0.35"/>
<rect x="355.04" y="216.94" width="1.83" height="4.06" fill="#5db34a" stroke="#2f6e22" stroke-width="0.35"/>
<rect x="357.33" y="221" width="1.83" height="10.56" fill="#b94646" stroke="#6d1c1c" stroke-width="0.35"/>
<rect x="359.62" y="219.78" width="1.83" height="1.22" fill="#5db34a" stroke="#2f6e22" stroke-width="0.35"/>
<rect x="361.92" y="216.53" width="1.83" height="4.47" fill="#5db34a" stroke="#2f6e22" stroke-width="0.35"/>
<rect x="364.21" y="217.34" width="1.83" height="3.66" fill="#5db34a" stroke="#2f6e22" stroke-width="0.35"/>
<rect x="366.5" y="221" width="1.83" height="19.91" fill="#b94646" stroke="#6d1c1c" stroke-width="0.35"/>
<rect x="368.79" y="221" width="1.83" height="1.22" fill="#b94646" stroke="#6d1c1c" stroke-width="0.35"/>
<rect x="371.08" y="219.78" width="1.83" height="1.22" fill="#5db34a" stroke="#2f6e22" stroke-width="0.35"/>
<rect x="373.37" y="216.12" width="1.83" height="4.88" fill="#5db34a" stroke="#2f6e22" stroke-width="0.35"/>
<rect x="375.67" y="218.97" width="1.83" height="2.03" fill="#5db34a" stroke="#2f6e22" stroke-width="0.35"/>
<rect x="380.25" y="221" width="1.83" height="19.91" fill="#b94646" stroke="#6d1c1c" stroke-width="0.35"/>
<rect x="382.54" y="221" width="1.83" height="13.81" fill="#b94646" stroke="#6d1c1c" stroke-width="0.35"/>
<rect x="384.83" y="221" width="1.83" height="13.41" fill="#b94646" stroke="#6d1c1c" stroke-width="0.35"/>
<rect x="387.12" y="216.94" width="1.83" height="4.06" fill="#5db34a" stroke="#2f6e22" stroke-width="0.35"/>
<rect x="389.42" y="221" width="1.83" height="3.66" fill="#b94646" stroke="#6d1c1c" stroke-width="0.35"/>
<rect x="391.71" y="217.75" width="1.83" height="3.25" fill="#5db34a" stroke="#2f6e22" stroke-width="0.35"/>
<rect x="394" y="216.94" width="1.83" height="4.06" fill="#5db34a" stroke="#2f6e22" stroke-width="0.35"/>
<rect x="396.29" y="220.19" width="1.83" height="0.81" fill="#5db34a" stroke="#2f6e22" stroke-width="0.35"/>
<line x1="289.5" y1="221" x2="399.5" y2="221" stroke="#111" stroke-width="0.7"/>
<rect x="289.5" y="188.5" width="110" height="65" fill="none" stroke="#333" stroke-width="0.85"/>
<line x1="289.5" y1="200.69" x2="290.7" y2="200.69" stroke="#333" stroke-width="0.5"/>
<line x1="399.5" y1="200.69" x2="398.3" y2="200.69" stroke="#333" stroke-width="0.5"/>
<line x1="289.5" y1="241.31" x2="290.7" y2="241.31" stroke="#333" stroke-width="0.5"/>
<line x1="399.5" y1="241.31" x2="398.3" y2="241.31" stroke="#333" stroke-width="0.5"/>
<line x1="312.42" y1="253.5" x2="312.42" y2="252.3" stroke="#333" stroke-width="0.5"/>
<line x1="312.42" y1="188.5" x2="312.42" y2="189.7" stroke="#333" stroke-width="0.5"/>
<line x1="335.33" y1="253.5" x2="335.33" y2="252.3" stroke="#333" stroke-width="0.5"/>
<line x1="335.33" y1="188.5" x2="335.33" y2="189.7" stroke="#333" stroke-width="0.5"/>
<line x1="358.25" y1="253.5" x2="358.25" y2="252.3" stroke="#333" stroke-width="0.5"/>
<line x1="358.25" y1="188.5" x2="358.25" y2="189.7" stroke="#333" stroke-width="0.5"/>
<line x1="381.17" y1="253.5" x2="381.17" y2="252.3" stroke="#333" stroke-width="0.5"/>
<line x1="381.17" y1="188.5" x2="381.17" y2="189.7" stroke="#333" stroke-width="0.5"/>
<text x="287.5" y="202.79" font-size="6.1" text-anchor="end" fill="#262626">50</text>
<text x="287.5" y="223.1" font-size="6.1" text-anchor="end" fill="#262626">0</text>
<text x="287.5" y="243.41" font-size="6.1" text-anchor="end" fill="#262626">−50</text>
<text x="289.5" y="262.1" font-size="6.1" text-anchor="middle" fill="#262626">0</text>
<text x="312.42" y="262.1" font-size="6.1" text-anchor="middle" fill="#262626">10</text>
<text x="335.33" y="262.1" font-size="6.1" text-anchor="middle" fill="#262626">20</text>
<text x="358.25" y="262.1" font-size="6.1" text-anchor="middle" fill="#262626">30</text>
<text x="381.17" y="262.1" font-size="6.1" text-anchor="middle" fill="#262626">40</text>
<text x="274.7" y="221.6" font-size="6.9" text-anchor="middle" fill="#262626" transform="rotate(-90 274.7 221.6)">Conductance shifting</text>
<text x="343" y="271.1" font-size="7" text-anchor="middle" fill="#262626">ID point #</text>
<polygon points="57,259.4 57,222.3 75.2,222.3 75.2,226.1 60.6,226.1 60.6,259.4" stroke="none" stroke-width="1" fill="#0d2a3a"/>
<polygon points="206,224.1 223.7,224.1 223.7,246.8 228,246.8 221.8,258.2 215.6,246.8 219.9,246.8 219.9,227.5 206,227.5" stroke="none" stroke-width="1" fill="#0d2a3a"/>
<polygon points="252.1,257.9 252.1,220.4 268.7,220.4 268.7,224.1 255.8,224.1 255.8,257.9" stroke="none" stroke-width="1" fill="#0d2a3a"/>
<polygon points="400.8,222.4 417.7,222.4 417.7,243.4 421.9,243.4 416,254.7 410,243.4 413.9,243.4 413.9,225.8 400.8,225.8" stroke="none" stroke-width="1" fill="#0d2a3a"/>
<rect x="436.3" y="206.3" width="11.7" height="7.97" fill="#2c6a1f" stroke="none" stroke-width="1"/>
<rect x="436.3" y="213.97" width="11.7" height="7.97" fill="#4b8e2c" stroke="none" stroke-width="1"/>
<rect x="436.3" y="221.65" width="11.7" height="7.97" fill="#75ae46" stroke="none" stroke-width="1"/>
<rect x="436.3" y="229.32" width="11.7" height="7.97" fill="#afdb88" stroke="none" stroke-width="1"/>
<rect x="436.3" y="236.99" width="11.7" height="7.97" fill="#e5f3d6" stroke="none" stroke-width="1"/>
<rect x="436.3" y="244.66" width="11.7" height="7.97" fill="#f3f3f3" stroke="none" stroke-width="1"/>
<rect x="436.3" y="252.34" width="11.7" height="7.97" fill="#fbdcea" stroke="none" stroke-width="1"/>
<rect x="436.3" y="260.01" width="11.7" height="7.97" fill="#f2b3b3" stroke="none" stroke-width="1"/>
<rect x="436.3" y="267.68" width="11.7" height="7.97" fill="#db7272" stroke="none" stroke-width="1"/>
<rect x="436.3" y="275.35" width="11.7" height="7.97" fill="#c21d1d" stroke="none" stroke-width="1"/>
<rect x="436.3" y="283.03" width="11.7" height="7.97" fill="#ff0000" stroke="none" stroke-width="1"/>
<line x1="448" y1="207.8" x2="449.2" y2="207.8" stroke="#555" stroke-width="0.4"/>
<text x="450.5" y="210" font-size="6.1" text-anchor="start" fill="#262626">100</text>
<line x1="448" y1="224.28" x2="449.2" y2="224.28" stroke="#555" stroke-width="0.4"/>
<text x="450.5" y="226.48" font-size="6.1" text-anchor="start" fill="#262626">80</text>
<line x1="448" y1="240.76" x2="449.2" y2="240.76" stroke="#555" stroke-width="0.4"/>
<text x="450.5" y="242.96" font-size="6.1" text-anchor="start" fill="#262626">60</text>
<line x1="448" y1="257.24" x2="449.2" y2="257.24" stroke="#555" stroke-width="0.4"/>
<text x="450.5" y="259.44" font-size="6.1" text-anchor="start" fill="#262626">40</text>
<line x1="448" y1="273.72" x2="449.2" y2="273.72" stroke="#555" stroke-width="0.4"/>
<text x="450.5" y="275.92" font-size="6.1" text-anchor="start" fill="#262626">20</text>
<line x1="448" y1="290.2" x2="449.2" y2="290.2" stroke="#555" stroke-width="0.4"/>
<text x="450.5" y="292.4" font-size="6.1" text-anchor="start" fill="#262626">0</text>
<text x="429.4" y="250.5" font-size="6.9" text-anchor="middle" fill="#262626" transform="rotate(-90 429.4 250.5)">Conductance (arb. units)</text>
<polyline points="48.7,331.9 94.8,308.6 149.7,328.4" stroke="#e2e2e2" stroke-width="0.5" fill="none"/>
<line x1="63.91" y1="351.11" x2="63.91" y2="297.31" stroke="#e2e2e2" stroke-width="0.5"/>
<line x1="112.92" y1="342.03" x2="112.92" y2="288.23" stroke="#e2e2e2" stroke-width="0.5"/>
<line x1="79.13" y1="343.42" x2="79.13" y2="289.62" stroke="#e2e2e2" stroke-width="0.5"/>
<line x1="131.03" y1="348.57" x2="131.03" y2="294.77" stroke="#e2e2e2" stroke-width="0.5"/>
<line x1="94.8" y1="335.5" x2="94.8" y2="281.7" stroke="#cfcfcf" stroke-width="0.5"/>
<line x1="67.7" y1="366.15" x2="113.8" y2="342.85" stroke="#e2e2e2" stroke-width="0.5"/>
<line x1="87.8" y1="373.92" x2="133.9" y2="350.62" stroke="#e2e2e2" stroke-width="0.5"/>
<line x1="117.01" y1="372.45" x2="62.71" y2="351.45" stroke="#e2e2e2" stroke-width="0.5"/>
<line x1="140.36" y1="360.2" x2="86.06" y2="339.2" stroke="#e2e2e2" stroke-width="0.5"/>
<line x1="93.98" y1="323.21" x2="93.98" y2="331.81" stroke="#f8d0e0" stroke-width="1.6" stroke-opacity="0.63" stroke-linecap="round"/>
<line x1="112.39" y1="322.78" x2="112.39" y2="331.11" stroke="#fbdcea" stroke-width="1.6" stroke-opacity="0.63" stroke-linecap="round"/>
<line x1="83.39" y1="327.2" x2="83.39" y2="333.48" stroke="#f8d0e0" stroke-width="1.6" stroke-opacity="0.63" stroke-linecap="round"/>
<line x1="102.39" y1="322.46" x2="102.39" y2="330.72" stroke="#fbdcea" stroke-width="1.6" stroke-opacity="0.63" stroke-linecap="round"/>
<line x1="105.33" y1="328.71" x2="105.33" y2="334.95" stroke="#f8c8d0" stroke-width="1.6" stroke-opacity="0.63" stroke-linecap="round"/>
<line x1="83.83" y1="324.1" x2="83.83" y2="332.32" stroke="#fbdcea" stroke-width="1.6" stroke-opacity="0.63" stroke-linecap="round"/>
<line x1="92.72" y1="324.21" x2="92.72" y2="330.68" stroke="#f2c0c8" stroke-width="1.6" stroke-opacity="0.63" stroke-linecap="round"/>
<line x1="102.73" y1="329.61" x2="102.73" y2="336.03" stroke="#fbdcea" stroke-width="1.6" stroke-opacity="0.63" stroke-linecap="round"/>
<line x1="95.78" y1="328.35" x2="95.78" y2="334.6" stroke="#f8d0e0" stroke-width="1.6" stroke-opacity="0.63" stroke-linecap="round"/>
<line x1="104.9" y1="326.9" x2="104.9" y2="335.03" stroke="#f2c0c8" stroke-width="1.6" stroke-opacity="0.63" stroke-linecap="round"/>
<line x1="99.23" y1="331.51" x2="99.23" y2="338.96" stroke="#fbdcea" stroke-width="1.6" stroke-opacity="0.63" stroke-linecap="round"/>
<line x1="111.39" y1="329.5" x2="111.39" y2="336.48" stroke="#f2c0c8" stroke-width="1.6" stroke-opacity="0.63" stroke-linecap="round"/>
<line x1="101.43" y1="330.29" x2="101.43" y2="339.21" stroke="#f2c0c8" stroke-width="1.6" stroke-opacity="0.63" stroke-linecap="round"/>
<line x1="104.53" y1="322.71" x2="104.53" y2="330.76" stroke="#fbdcea" stroke-width="1.6" stroke-opacity="0.63" stroke-linecap="round"/>
<line x1="110.01" y1="323.54" x2="110.01" y2="331.5" stroke="#f8d0e0" stroke-width="1.6" stroke-opacity="0.63" stroke-linecap="round"/>
<line x1="117.59" y1="322.66" x2="117.59" y2="330.89" stroke="#f2c0c8" stroke-width="1.6" stroke-opacity="0.63" stroke-linecap="round"/>
<line x1="94.58" y1="325.51" x2="94.58" y2="333.5" stroke="#f8c8d0" stroke-width="1.6" stroke-opacity="0.63" stroke-linecap="round"/>
<line x1="84.54" y1="323.4" x2="84.54" y2="330.48" stroke="#f8d0e0" stroke-width="1.6" stroke-opacity="0.63" stroke-linecap="round"/>
<line x1="84.24" y1="328.72" x2="84.24" y2="337.31" stroke="#f8c8d0" stroke-width="1.6" stroke-opacity="0.63" stroke-linecap="round"/>
<line x1="92.53" y1="325.52" x2="92.53" y2="334.2" stroke="#f8d0e0" stroke-width="1.6" stroke-opacity="0.63" stroke-linecap="round"/>
<line x1="116.8" y1="325.33" x2="116.8" y2="333.78" stroke="#f8c8d0" stroke-width="1.6" stroke-opacity="0.63" stroke-linecap="round"/>
<line x1="84.18" y1="330.42" x2="84.18" y2="336.94" stroke="#fbdcea" stroke-width="1.6" stroke-opacity="0.63" stroke-linecap="round"/>
<line x1="96.72" y1="331.18" x2="96.72" y2="339.16" stroke="#fbdcea" stroke-width="1.6" stroke-opacity="0.63" stroke-linecap="round"/>
<line x1="98.62" y1="326.73" x2="98.62" y2="336.26" stroke="#f8c8d0" stroke-width="1.6" stroke-opacity="0.63" stroke-linecap="round"/>
<line x1="113.97" y1="324.95" x2="113.97" y2="332.61" stroke="#f2c0c8" stroke-width="1.6" stroke-opacity="0.63" stroke-linecap="round"/>
<line x1="107.26" y1="326.34" x2="107.26" y2="333.27" stroke="#f8d0e0" stroke-width="1.6" stroke-opacity="0.63" stroke-linecap="round"/>
<line x1="88.52" y1="324.85" x2="88.52" y2="331.79" stroke="#f8c8d0" stroke-width="1.6" stroke-opacity="0.63" stroke-linecap="round"/>
<line x1="112.75" y1="324.26" x2="112.75" y2="331.39" stroke="#fbdcea" stroke-width="1.6" stroke-opacity="0.63" stroke-linecap="round"/>
<line x1="97.5" y1="325.56" x2="97.5" y2="333.83" stroke="#fbdcea" stroke-width="1.6" stroke-opacity="0.63" stroke-linecap="round"/>
<line x1="107.55" y1="326.92" x2="107.55" y2="335.39" stroke="#f8d0e0" stroke-width="1.6" stroke-opacity="0.63" stroke-linecap="round"/>
<line x1="98.9" y1="329.81" x2="98.9" y2="339.61" stroke="#f8c8d0" stroke-width="1.6" stroke-opacity="0.63" stroke-linecap="round"/>
<line x1="96.32" y1="314.55" x2="96.32" y2="322.48" stroke="#cfe9b8" stroke-width="1.6" stroke-opacity="0.595" stroke-linecap="round"/>
<line x1="82.55" y1="310.53" x2="82.55" y2="317.36" stroke="#bfe3a0" stroke-width="1.6" stroke-opacity="0.595" stroke-linecap="round"/>
<line x1="84.51" y1="318.21" x2="84.51" y2="324.61" stroke="#bfe3a0" stroke-width="1.6" stroke-opacity="0.595" stroke-linecap="round"/>
<line x1="102" y1="322.06" x2="102" y2="330.51" stroke="#a5d47f" stroke-width="1.6" stroke-opacity="0.595" stroke-linecap="round"/>
<line x1="115.85" y1="318.3" x2="115.85" y2="324.89" stroke="#8cc665" stroke-width="1.6" stroke-opacity="0.595" stroke-linecap="round"/>
<line x1="119.17" y1="317.48" x2="119.17" y2="325.38" stroke="#a5d47f" stroke-width="1.6" stroke-opacity="0.595" stroke-linecap="round"/>
<line x1="114.81" y1="322.97" x2="114.81" y2="330.84" stroke="#cfe9b8" stroke-width="1.6" stroke-opacity="0.595" stroke-linecap="round"/>
<line x1="92.79" y1="310.52" x2="92.79" y2="319.52" stroke="#8cc665" stroke-width="1.6" stroke-opacity="0.595" stroke-linecap="round"/>
<line x1="99.62" y1="318.66" x2="99.62" y2="326.72" stroke="#bfe3a0" stroke-width="1.6" stroke-opacity="0.595" stroke-linecap="round"/>
<line x1="118.99" y1="317.1" x2="118.99" y2="323.69" stroke="#a5d47f" stroke-width="1.6" stroke-opacity="0.595" stroke-linecap="round"/>
<line x1="111.08" y1="312.89" x2="111.08" y2="321.46" stroke="#a5d47f" stroke-width="1.6" stroke-opacity="0.595" stroke-linecap="round"/>
<line x1="108.54" y1="312.92" x2="108.54" y2="320.39" stroke="#bfe3a0" stroke-width="1.6" stroke-opacity="0.595" stroke-linecap="round"/>
<line x1="94.58" y1="312.04" x2="94.58" y2="320.2" stroke="#8cc665" stroke-width="1.6" stroke-opacity="0.595" stroke-linecap="round"/>
<line x1="106.09" y1="317.01" x2="106.09" y2="326.16" stroke="#bfe3a0" stroke-width="1.6" stroke-opacity="0.595" stroke-linecap="round"/>
<line x1="113.05" y1="319.98" x2="113.05" y2="328.94" stroke="#bfe3a0" stroke-width="1.6" stroke-opacity="0.595" stroke-linecap="round"/>
<line x1="88.2" y1="315.44" x2="88.2" y2="324.36" stroke="#a5d47f" stroke-width="1.6" stroke-opacity="0.595" stroke-linecap="round"/>
<line x1="112.39" y1="316.22" x2="112.39" y2="323" stroke="#8cc665" stroke-width="1.6" stroke-opacity="0.595" stroke-linecap="round"/>
<line x1="98.34" y1="321.14" x2="98.34" y2="331.09" stroke="#8cc665" stroke-width="1.6" stroke-opacity="0.595" stroke-linecap="round"/>
<line x1="83.3" y1="310.49" x2="83.3" y2="318.37" stroke="#8cc665" stroke-width="1.6" stroke-opacity="0.595" stroke-linecap="round"/>
<line x1="88.38" y1="316.94" x2="88.38" y2="326.54" stroke="#a5d47f" stroke-width="1.6" stroke-opacity="0.595" stroke-linecap="round"/>
<line x1="99.66" y1="317.54" x2="99.66" y2="326.74" stroke="#a5d47f" stroke-width="1.6" stroke-opacity="0.595" stroke-linecap="round"/>
<line x1="114.22" y1="310.9" x2="114.22" y2="318.46" stroke="#bfe3a0" stroke-width="1.6" stroke-opacity="0.595" stroke-linecap="round"/>
<line x1="99.6" y1="310.92" x2="99.6" y2="320.08" stroke="#8cc665" stroke-width="1.6" stroke-opacity="0.595" stroke-linecap="round"/>
<line x1="83.56" y1="321.8" x2="83.56" y2="330.69" stroke="#cfe9b8" stroke-width="1.6" stroke-opacity="0.595" stroke-linecap="round"/>
<line x1="96.46" y1="321.81" x2="96.46" y2="330.7" stroke="#bfe3a0" stroke-width="1.6" stroke-opacity="0.595" stroke-linecap="round"/>
<line x1="120.72" y1="309.2" x2="120.72" y2="317.57" stroke="#cfe9b8" stroke-width="1.6" stroke-opacity="0.595" stroke-linecap="round"/>
<line x1="113.07" y1="310.39" x2="113.07" y2="319.7" stroke="#cfe9b8" stroke-width="1.6" stroke-opacity="0.595" stroke-linecap="round"/>
<line x1="106.95" y1="313.81" x2="106.95" y2="322" stroke="#bfe3a0" stroke-width="1.6" stroke-opacity="0.595" stroke-linecap="round"/>
<line x1="80.88" y1="319.74" x2="80.88" y2="328.64" stroke="#a5d47f" stroke-width="1.6" stroke-opacity="0.595" stroke-linecap="round"/>
<line x1="101.59" y1="322.2" x2="101.59" y2="329.94" stroke="#bfe3a0" stroke-width="1.6" stroke-opacity="0.595" stroke-linecap="round"/>
<line x1="113.87" y1="312.45" x2="113.87" y2="319.46" stroke="#8cc665" stroke-width="1.6" stroke-opacity="0.595" stroke-linecap="round"/>
<line x1="100.55" y1="320.04" x2="100.55" y2="327.34" stroke="#cfe9b8" stroke-width="1.6" stroke-opacity="0.595" stroke-linecap="round"/>
<line x1="114.2" y1="309.37" x2="114.2" y2="318.33" stroke="#cfe9b8" stroke-width="1.6" stroke-opacity="0.595" stroke-linecap="round"/>
<line x1="107.16" y1="320.38" x2="107.16" y2="328.44" stroke="#bfe3a0" stroke-width="1.6" stroke-opacity="0.595" stroke-linecap="round"/>
<line x1="101.8" y1="317.29" x2="101.8" y2="323.37" stroke="#cfe9b8" stroke-width="1.6" stroke-opacity="0.595" stroke-linecap="round"/>
<line x1="111.84" y1="316.97" x2="111.84" y2="326.07" stroke="#bfe3a0" stroke-width="1.6" stroke-opacity="0.595" stroke-linecap="round"/>
<line x1="87.07" y1="315.18" x2="87.07" y2="324.08" stroke="#a5d47f" stroke-width="1.6" stroke-opacity="0.595" stroke-linecap="round"/>
<line x1="93.37" y1="316.15" x2="93.37" y2="324.37" stroke="#a5d47f" stroke-width="1.6" stroke-opacity="0.595" stroke-linecap="round"/>
<line x1="116.21" y1="310.41" x2="116.21" y2="317.18" stroke="#a5d47f" stroke-width="1.6" stroke-opacity="0.595" stroke-linecap="round"/>
<line x1="111.66" y1="315.98" x2="111.66" y2="324.23" stroke="#a5d47f" stroke-width="1.6" stroke-opacity="0.595" stroke-linecap="round"/>
<line x1="98.17" y1="317.56" x2="98.17" y2="325.59" stroke="#bfe3a0" stroke-width="1.6" stroke-opacity="0.595" stroke-linecap="round"/>
<line x1="108.4" y1="315.27" x2="108.4" y2="323.4" stroke="#cfe9b8" stroke-width="1.6" stroke-opacity="0.595" stroke-linecap="round"/>
<line x1="100.82" y1="312.42" x2="100.82" y2="320.51" stroke="#8cc665" stroke-width="1.6" stroke-opacity="0.595" stroke-linecap="round"/>
<line x1="117.83" y1="322.09" x2="117.83" y2="328.9" stroke="#cfe9b8" stroke-width="1.6" stroke-opacity="0.595" stroke-linecap="round"/>
<line x1="85.62" y1="310.82" x2="85.62" y2="318.59" stroke="#a5d47f" stroke-width="1.6" stroke-opacity="0.595" stroke-linecap="round"/>
<line x1="107.52" y1="315.57" x2="107.52" y2="322.42" stroke="#8cc665" stroke-width="1.6" stroke-opacity="0.595" stroke-linecap="round"/>
<line x1="112.14" y1="322.25" x2="112.14" y2="328.87" stroke="#8cc665" stroke-width="1.6" stroke-opacity="0.595" stroke-linecap="round"/>
<line x1="85.86" y1="320.42" x2="85.86" y2="330.29" stroke="#bfe3a0" stroke-width="1.6" stroke-opacity="0.595" stroke-linecap="round"/>
<line x1="110.61" y1="309.55" x2="110.61" y2="319.09" stroke="#bfe3a0" stroke-width="1.6" stroke-opacity="0.595" stroke-linecap="round"/>
<line x1="120.58" y1="321.33" x2="120.58" y2="327.98" stroke="#cfe9b8" stroke-width="1.6" stroke-opacity="0.595" stroke-linecap="round"/>
<line x1="120.76" y1="314.81" x2="120.76" y2="322.5" stroke="#8cc665" stroke-width="1.6" stroke-opacity="0.595" stroke-linecap="round"/>
<line x1="93.06" y1="320.07" x2="93.06" y2="326.15" stroke="#cfe9b8" stroke-width="1.6" stroke-opacity="0.595" stroke-linecap="round"/>
<line x1="98.06" y1="309.59" x2="98.06" y2="316.92" stroke="#8cc665" stroke-width="1.6" stroke-opacity="0.595" stroke-linecap="round"/>
<line x1="101" y1="308.93" x2="101" y2="318.87" stroke="#bfe3a0" stroke-width="1.6" stroke-opacity="0.595" stroke-linecap="round"/>
<line x1="119.84" y1="310.94" x2="119.84" y2="318" stroke="#a5d47f" stroke-width="1.6" stroke-opacity="0.595" stroke-linecap="round"/>
<line x1="117.14" y1="311.03" x2="117.14" y2="320.05" stroke="#cfe9b8" stroke-width="1.6" stroke-opacity="0.595" stroke-linecap="round"/>
<line x1="114.83" y1="317.57" x2="114.83" y2="327.36" stroke="#cfe9b8" stroke-width="1.6" stroke-opacity="0.595" stroke-linecap="round"/>
<line x1="86.12" y1="321.73" x2="86.12" y2="330.01" stroke="#8cc665" stroke-width="1.6" stroke-opacity="0.595" stroke-linecap="round"/>
<line x1="83.67" y1="309.43" x2="83.67" y2="318.18" stroke="#cfe9b8" stroke-width="1.6" stroke-opacity="0.595" stroke-linecap="round"/>
<line x1="116.71" y1="313.73" x2="116.71" y2="319.8" stroke="#a5d47f" stroke-width="1.6" stroke-opacity="0.595" stroke-linecap="round"/>
<line x1="112.87" y1="309.46" x2="112.87" y2="318.88" stroke="#a5d47f" stroke-width="1.6" stroke-opacity="0.595" stroke-linecap="round"/>
<line x1="90.84" y1="311.68" x2="90.84" y2="317.73" stroke="#cfe9b8" stroke-width="1.6" stroke-opacity="0.595" stroke-linecap="round"/>
<line x1="117.99" y1="313.49" x2="117.99" y2="320.01" stroke="#bfe3a0" stroke-width="1.6" stroke-opacity="0.595" stroke-linecap="round"/>
<line x1="116.96" y1="311.92" x2="116.96" y2="318.97" stroke="#4b8e2c" stroke-width="1.6" stroke-opacity="0.5599999999999999" stroke-linecap="round"/>
<line x1="92.66" y1="300.01" x2="92.66" y2="307.23" stroke="#4b8e2c" stroke-width="1.6" stroke-opacity="0.5599999999999999" stroke-linecap="round"/>
<line x1="95.57" y1="303.65" x2="95.57" y2="310.36" stroke="#5d9e3a" stroke-width="1.6" stroke-opacity="0.5599999999999999" stroke-linecap="round"/>
<line x1="112.52" y1="312.83" x2="112.52" y2="318.97" stroke="#3d7d25" stroke-width="1.6" stroke-opacity="0.5599999999999999" stroke-linecap="round"/>
<line x1="110.19" y1="304.54" x2="110.19" y2="311.3" stroke="#75ae46" stroke-width="1.6" stroke-opacity="0.5599999999999999" stroke-linecap="round"/>
<line x1="94.11" y1="301.73" x2="94.11" y2="310.36" stroke="#6aa840" stroke-width="1.6" stroke-opacity="0.5599999999999999" stroke-linecap="round"/>
<line x1="100.26" y1="302.24" x2="100.26" y2="311.58" stroke="#75ae46" stroke-width="1.6" stroke-opacity="0.5599999999999999" stroke-linecap="round"/>
<line x1="118.02" y1="300.11" x2="118.02" y2="306.97" stroke="#4b8e2c" stroke-width="1.6" stroke-opacity="0.5599999999999999" stroke-linecap="round"/>
<line x1="97.31" y1="308.57" x2="97.31" y2="317.39" stroke="#6aa840" stroke-width="1.6" stroke-opacity="0.5599999999999999" stroke-linecap="round"/>
<line x1="90.61" y1="310.85" x2="90.61" y2="320.77" stroke="#4b8e2c" stroke-width="1.6" stroke-opacity="0.5599999999999999" stroke-linecap="round"/>
<line x1="86.47" y1="304.5" x2="86.47" y2="314.02" stroke="#75ae46" stroke-width="1.6" stroke-opacity="0.5599999999999999" stroke-linecap="round"/>
<line x1="91.39" y1="294.84" x2="91.39" y2="304.2" stroke="#8cc665" stroke-width="1.6" stroke-opacity="0.5599999999999999" stroke-linecap="round"/>
<line x1="108.13" y1="299.59" x2="108.13" y2="306.56" stroke="#5d9e3a" stroke-width="1.6" stroke-opacity="0.5599999999999999" stroke-linecap="round"/>
<line x1="87.49" y1="297.8" x2="87.49" y2="304.87" stroke="#3d7d25" stroke-width="1.6" stroke-opacity="0.5599999999999999" stroke-linecap="round"/>
<line x1="94.69" y1="310.37" x2="94.69" y2="320.26" stroke="#8cc665" stroke-width="1.6" stroke-opacity="0.5599999999999999" stroke-linecap="round"/>
<line x1="96.68" y1="293.86" x2="96.68" y2="303.38" stroke="#4b8e2c" stroke-width="1.6" stroke-opacity="0.5599999999999999" stroke-linecap="round"/>
<line x1="97.77" y1="294.26" x2="97.77" y2="301.78" stroke="#75ae46" stroke-width="1.6" stroke-opacity="0.5599999999999999" stroke-linecap="round"/>
<line x1="95.2" y1="306.31" x2="95.2" y2="313.3" stroke="#3d7d25" stroke-width="1.6" stroke-opacity="0.5599999999999999" stroke-linecap="round"/>
<line x1="89" y1="309.42" x2="89" y2="315.99" stroke="#8cc665" stroke-width="1.6" stroke-opacity="0.5599999999999999" stroke-linecap="round"/>
<line x1="87.38" y1="294.8" x2="87.38" y2="302.01" stroke="#4b8e2c" stroke-width="1.6" stroke-opacity="0.5599999999999999" stroke-linecap="round"/>
<line x1="88.79" y1="310.53" x2="88.79" y2="319.94" stroke="#4b8e2c" stroke-width="1.6" stroke-opacity="0.5599999999999999" stroke-linecap="round"/>
<line x1="107.7" y1="306.13" x2="107.7" y2="315.65" stroke="#75ae46" stroke-width="1.6" stroke-opacity="0.5599999999999999" stroke-linecap="round"/>
<line x1="111.22" y1="306.98" x2="111.22" y2="314.96" stroke="#5d9e3a" stroke-width="1.6" stroke-opacity="0.5599999999999999" stroke-linecap="round"/>
<line x1="109.9" y1="306.49" x2="109.9" y2="312.67" stroke="#6aa840" stroke-width="1.6" stroke-opacity="0.5599999999999999" stroke-linecap="round"/>
<line x1="115.43" y1="304.82" x2="115.43" y2="313.76" stroke="#8cc665" stroke-width="1.6" stroke-opacity="0.5599999999999999" stroke-linecap="round"/>
<line x1="90.6" y1="303.42" x2="90.6" y2="311.44" stroke="#3d7d25" stroke-width="1.6" stroke-opacity="0.5599999999999999" stroke-linecap="round"/>
<line x1="113.27" y1="303.73" x2="113.27" y2="313.3" stroke="#6aa840" stroke-width="1.6" stroke-opacity="0.5599999999999999" stroke-linecap="round"/>
<line x1="117.55" y1="306.4" x2="117.55" y2="312.74" stroke="#3d7d25" stroke-width="1.6" stroke-opacity="0.5599999999999999" stroke-linecap="round"/>
<line x1="90.39" y1="301.28" x2="90.39" y2="307.7" stroke="#75ae46" stroke-width="1.6" stroke-opacity="0.5599999999999999" stroke-linecap="round"/>
<line x1="104.43" y1="305.05" x2="104.43" y2="313.55" stroke="#6aa840" stroke-width="1.6" stroke-opacity="0.5599999999999999" stroke-linecap="round"/>
<line x1="94.07" y1="298.83" x2="94.07" y2="306.66" stroke="#3d7d25" stroke-width="1.6" stroke-opacity="0.5599999999999999" stroke-linecap="round"/>
<line x1="110.69" y1="302.98" x2="110.69" y2="311.12" stroke="#6aa840" stroke-width="1.6" stroke-opacity="0.5599999999999999" stroke-linecap="round"/>
<line x1="103.36" y1="307.48" x2="103.36" y2="315.37" stroke="#3d7d25" stroke-width="1.6" stroke-opacity="0.5599999999999999" stroke-linecap="round"/>
<line x1="113.92" y1="297.71" x2="113.92" y2="306.74" stroke="#4b8e2c" stroke-width="1.6" stroke-opacity="0.5599999999999999" stroke-linecap="round"/>
<line x1="110.41" y1="311.58" x2="110.41" y2="319.55" stroke="#75ae46" stroke-width="1.6" stroke-opacity="0.5599999999999999" stroke-linecap="round"/>
<line x1="88.53" y1="310.81" x2="88.53" y2="317.96" stroke="#3d7d25" stroke-width="1.6" stroke-opacity="0.5599999999999999" stroke-linecap="round"/>
<line x1="106.36" y1="306.41" x2="106.36" y2="312.72" stroke="#4b8e2c" stroke-width="1.6" stroke-opacity="0.5599999999999999" stroke-linecap="round"/>
<line x1="96.95" y1="305.34" x2="96.95" y2="314.11" stroke="#8cc665" stroke-width="1.6" stroke-opacity="0.5599999999999999" stroke-linecap="round"/>
<line x1="104.74" y1="295.1" x2="104.74" y2="301.35" stroke="#5d9e3a" stroke-width="1.6" stroke-opacity="0.5599999999999999" stroke-linecap="round"/>
<line x1="118.09" y1="296.36" x2="118.09" y2="303.23" stroke="#75ae46" stroke-width="1.6" stroke-opacity="0.5599999999999999" stroke-linecap="round"/>
<line x1="95.6" y1="303.37" x2="95.6" y2="311.23" stroke="#75ae46" stroke-width="1.6" stroke-opacity="0.5599999999999999" stroke-linecap="round"/>
<line x1="111.32" y1="311.78" x2="111.32" y2="319.98" stroke="#5d9e3a" stroke-width="1.6" stroke-opacity="0.5599999999999999" stroke-linecap="round"/>
<line x1="118.28" y1="311.82" x2="118.28" y2="317.89" stroke="#75ae46" stroke-width="1.6" stroke-opacity="0.5599999999999999" stroke-linecap="round"/>
<line x1="88.52" y1="302.13" x2="88.52" y2="312.11" stroke="#5d9e3a" stroke-width="1.6" stroke-opacity="0.5599999999999999" stroke-linecap="round"/>
<line x1="98.77" y1="309.64" x2="98.77" y2="319.36" stroke="#3d7d25" stroke-width="1.6" stroke-opacity="0.5599999999999999" stroke-linecap="round"/>
<line x1="105.19" y1="296.5" x2="105.19" y2="304.6" stroke="#5d9e3a" stroke-width="1.6" stroke-opacity="0.5599999999999999" stroke-linecap="round"/>
<line x1="90.38" y1="308.75" x2="90.38" y2="316.78" stroke="#3d7d25" stroke-width="1.6" stroke-opacity="0.5599999999999999" stroke-linecap="round"/>
<line x1="109.21" y1="297.37" x2="109.21" y2="306.96" stroke="#75ae46" stroke-width="1.6" stroke-opacity="0.5599999999999999" stroke-linecap="round"/>
<line x1="99" y1="295.96" x2="99" y2="305.76" stroke="#6aa840" stroke-width="1.6" stroke-opacity="0.5599999999999999" stroke-linecap="round"/>
<line x1="100.88" y1="300.15" x2="100.88" y2="306.72" stroke="#5d9e3a" stroke-width="1.6" stroke-opacity="0.5599999999999999" stroke-linecap="round"/>
<line x1="98.41" y1="296.51" x2="98.41" y2="303.84" stroke="#5d9e3a" stroke-width="1.6" stroke-opacity="0.5599999999999999" stroke-linecap="round"/>
<line x1="110.77" y1="309.86" x2="110.77" y2="316.34" stroke="#4b8e2c" stroke-width="1.6" stroke-opacity="0.5599999999999999" stroke-linecap="round"/>
<line x1="107.68" y1="344.94" x2="107.68" y2="351.1" stroke="#f04040" stroke-width="1.6" stroke-opacity="0.63" stroke-linecap="round"/>
<line x1="88.88" y1="338.66" x2="88.88" y2="347.14" stroke="#ff1a1a" stroke-width="1.6" stroke-opacity="0.63" stroke-linecap="round"/>
<line x1="97.46" y1="340.23" x2="97.46" y2="346.33" stroke="#ff1a1a" stroke-width="1.6" stroke-opacity="0.63" stroke-linecap="round"/>
<line x1="95.14" y1="335.69" x2="95.14" y2="343.34" stroke="#ff3030" stroke-width="1.6" stroke-opacity="0.63" stroke-linecap="round"/>
<line x1="94.23" y1="338.14" x2="94.23" y2="345.18" stroke="#ff3030" stroke-width="1.6" stroke-opacity="0.63" stroke-linecap="round"/>
<line x1="109.42" y1="343.5" x2="109.42" y2="350.21" stroke="#ff1a1a" stroke-width="1.6" stroke-opacity="0.63" stroke-linecap="round"/>
<line x1="110.55" y1="340.98" x2="110.55" y2="349.64" stroke="#ff3030" stroke-width="1.6" stroke-opacity="0.63" stroke-linecap="round"/>
<line x1="107.87" y1="335.53" x2="107.87" y2="343.46" stroke="#e82020" stroke-width="1.6" stroke-opacity="0.63" stroke-linecap="round"/>
<line x1="104.83" y1="336.15" x2="104.83" y2="344.62" stroke="#e82020" stroke-width="1.6" stroke-opacity="0.63" stroke-linecap="round"/>
<line x1="88.42" y1="345.51" x2="88.42" y2="351.02" stroke="#e82020" stroke-width="1.6" stroke-opacity="0.63" stroke-linecap="round"/>
<line x1="99.03" y1="338.81" x2="99.03" y2="344.83" stroke="#f04040" stroke-width="1.6" stroke-opacity="0.63" stroke-linecap="round"/>
<line x1="98.78" y1="337.92" x2="98.78" y2="344.85" stroke="#e82020" stroke-width="1.6" stroke-opacity="0.63" stroke-linecap="round"/>
<line x1="90.47" y1="342.78" x2="90.47" y2="348.08" stroke="#e82020" stroke-width="1.6" stroke-opacity="0.63" stroke-linecap="round"/>
<line x1="102.96" y1="340.36" x2="102.96" y2="346.7" stroke="#e82020" stroke-width="1.6" stroke-opacity="0.63" stroke-linecap="round"/>
<line x1="99.4" y1="341.49" x2="99.4" y2="347.47" stroke="#ff3030" stroke-width="1.6" stroke-opacity="0.63" stroke-linecap="round"/>
<line x1="96.92" y1="336.93" x2="96.92" y2="342.89" stroke="#f04040" stroke-width="1.6" stroke-opacity="0.63" stroke-linecap="round"/>
<line x1="110.47" y1="338.48" x2="110.47" y2="343.56" stroke="#e82020" stroke-width="1.6" stroke-opacity="0.63" stroke-linecap="round"/>
<line x1="98.1" y1="343.54" x2="98.1" y2="349.38" stroke="#f04040" stroke-width="1.6" stroke-opacity="0.63" stroke-linecap="round"/>
<line x1="96.81" y1="336.57" x2="96.81" y2="342.68" stroke="#f04040" stroke-width="1.6" stroke-opacity="0.63" stroke-linecap="round"/>
<line x1="90.65" y1="340.27" x2="90.65" y2="347.79" stroke="#ff3030" stroke-width="1.6" stroke-opacity="0.63" stroke-linecap="round"/>
<line x1="89.69" y1="344.7" x2="89.69" y2="351.24" stroke="#e82020" stroke-width="1.6" stroke-opacity="0.63" stroke-linecap="round"/>
<line x1="99.52" y1="337.99" x2="99.52" y2="346.25" stroke="#ff1a1a" stroke-width="1.6" stroke-opacity="0.63" stroke-linecap="round"/>
<line x1="90.69" y1="339.22" x2="90.69" y2="347.28" stroke="#e82020" stroke-width="1.6" stroke-opacity="0.63" stroke-linecap="round"/>
<line x1="115.08" y1="341.25" x2="115.08" y2="346.54" stroke="#e82020" stroke-width="1.6" stroke-opacity="0.63" stroke-linecap="round"/>
<line x1="115.19" y1="338.77" x2="115.19" y2="344.2" stroke="#ff3030" stroke-width="1.6" stroke-opacity="0.63" stroke-linecap="round"/>
<line x1="91.41" y1="346" x2="91.41" y2="351.44" stroke="#e82020" stroke-width="1.6" stroke-opacity="0.63" stroke-linecap="round"/>
<line x1="89.47" y1="344.27" x2="89.47" y2="349.27" stroke="#ff3030" stroke-width="1.6" stroke-opacity="0.63" stroke-linecap="round"/>
<line x1="93.74" y1="344.41" x2="93.74" y2="351.99" stroke="#f04040" stroke-width="1.6" stroke-opacity="0.63" stroke-linecap="round"/>
<line x1="114.91" y1="341.71" x2="114.91" y2="348.82" stroke="#e82020" stroke-width="1.6" stroke-opacity="0.63" stroke-linecap="round"/>
<line x1="107.26" y1="337.48" x2="107.26" y2="342.76" stroke="#ff3030" stroke-width="1.6" stroke-opacity="0.63" stroke-linecap="round"/>
<line x1="98.25" y1="337.53" x2="98.25" y2="344.94" stroke="#ff1a1a" stroke-width="1.6" stroke-opacity="0.63" stroke-linecap="round"/>
<line x1="102.59" y1="345.91" x2="102.59" y2="352.02" stroke="#f04040" stroke-width="1.6" stroke-opacity="0.63" stroke-linecap="round"/>
<line x1="105.69" y1="344.39" x2="105.69" y2="351.29" stroke="#ff3030" stroke-width="1.6" stroke-opacity="0.63" stroke-linecap="round"/>
<line x1="102.86" y1="335.97" x2="102.86" y2="342.62" stroke="#f04040" stroke-width="1.6" stroke-opacity="0.63" stroke-linecap="round"/>
<line x1="88.6" y1="336.67" x2="88.6" y2="345.21" stroke="#e82020" stroke-width="1.6" stroke-opacity="0.63" stroke-linecap="round"/>
<line x1="89.35" y1="337.93" x2="89.35" y2="344.63" stroke="#f04040" stroke-width="1.6" stroke-opacity="0.63" stroke-linecap="round"/>
<line x1="93.58" y1="336.16" x2="93.58" y2="342.52" stroke="#e82020" stroke-width="1.6" stroke-opacity="0.63" stroke-linecap="round"/>
<line x1="97.51" y1="340.45" x2="97.51" y2="345.48" stroke="#f04040" stroke-width="1.6" stroke-opacity="0.63" stroke-linecap="round"/>
<line x1="108.43" y1="341.14" x2="108.43" y2="346.96" stroke="#ff3030" stroke-width="1.6" stroke-opacity="0.63" stroke-linecap="round"/>
<line x1="96.04" y1="344.24" x2="96.04" y2="350.16" stroke="#ff3030" stroke-width="1.6" stroke-opacity="0.63" stroke-linecap="round"/>
<line x1="94.69" y1="345.18" x2="94.69" y2="350.61" stroke="#e82020" stroke-width="1.6" stroke-opacity="0.63" stroke-linecap="round"/>
<line x1="104.69" y1="344.49" x2="104.69" y2="351.43" stroke="#ff1a1a" stroke-width="1.6" stroke-opacity="0.63" stroke-linecap="round"/>
<line x1="114.51" y1="337.18" x2="114.51" y2="343.75" stroke="#ff3030" stroke-width="1.6" stroke-opacity="0.63" stroke-linecap="round"/>
<line x1="87.69" y1="341.63" x2="87.69" y2="348.29" stroke="#ff1a1a" stroke-width="1.6" stroke-opacity="0.63" stroke-linecap="round"/>
<line x1="92.34" y1="339.57" x2="92.34" y2="347.42" stroke="#f04040" stroke-width="1.6" stroke-opacity="0.63" stroke-linecap="round"/>
<line x1="108.25" y1="344.61" x2="108.25" y2="353.34" stroke="#f04040" stroke-width="1.6" stroke-opacity="0.63" stroke-linecap="round"/>
<line x1="92.53" y1="341.98" x2="92.53" y2="349.07" stroke="#e82020" stroke-width="1.6" stroke-opacity="0.63" stroke-linecap="round"/>
<line x1="88.8" y1="351.06" x2="88.8" y2="357.57" stroke="#f8c0c8" stroke-width="1.6" stroke-opacity="0.5599999999999999" stroke-linecap="round"/>
<line x1="112.62" y1="349.82" x2="112.62" y2="355.26" stroke="#f5a0a0" stroke-width="1.6" stroke-opacity="0.5599999999999999" stroke-linecap="round"/>
<line x1="95" y1="347.4" x2="95" y2="356.22" stroke="#f5a0a0" stroke-width="1.6" stroke-opacity="0.5599999999999999" stroke-linecap="round"/>
<line x1="102.03" y1="351.81" x2="102.03" y2="358.33" stroke="#f8c0c8" stroke-width="1.6" stroke-opacity="0.5599999999999999" stroke-linecap="round"/>
<line x1="108.55" y1="349.86" x2="108.55" y2="355.06" stroke="#f8c0c8" stroke-width="1.6" stroke-opacity="0.5599999999999999" stroke-linecap="round"/>
<line x1="92.89" y1="349.94" x2="92.89" y2="356.72" stroke="#f8c0c8" stroke-width="1.6" stroke-opacity="0.5599999999999999" stroke-linecap="round"/>
<line x1="97.11" y1="353.62" x2="97.11" y2="358.74" stroke="#f8c0c8" stroke-width="1.6" stroke-opacity="0.5599999999999999" stroke-linecap="round"/>
<line x1="94.2" y1="350.69" x2="94.2" y2="357.31" stroke="#f8c0c8" stroke-width="1.6" stroke-opacity="0.5599999999999999" stroke-linecap="round"/>
<line x1="88.87" y1="345.16" x2="88.87" y2="353.84" stroke="#f8c0c8" stroke-width="1.6" stroke-opacity="0.5599999999999999" stroke-linecap="round"/>
<line x1="92.87" y1="345.79" x2="92.87" y2="353.21" stroke="#f8c0c8" stroke-width="1.6" stroke-opacity="0.5599999999999999" stroke-linecap="round"/>
<line x1="94.81" y1="352.93" x2="94.81" y2="360.4" stroke="#f8c0c8" stroke-width="1.6" stroke-opacity="0.5599999999999999" stroke-linecap="round"/>
<line x1="106.66" y1="350.17" x2="106.66" y2="358.87" stroke="#f8c0c8" stroke-width="1.6" stroke-opacity="0.5599999999999999" stroke-linecap="round"/>
<line x1="60.54" y1="349.79" x2="60.54" y2="357.54" stroke="#ff1a1a" stroke-width="1.6" stroke-opacity="0.63" stroke-linecap="round"/>
<line x1="60.78" y1="346.54" x2="60.78" y2="352.97" stroke="#e82020" stroke-width="1.6" stroke-opacity="0.63" stroke-linecap="round"/>
<line x1="71.47" y1="348.02" x2="71.47" y2="353.78" stroke="#e82020" stroke-width="1.6" stroke-opacity="0.63" stroke-linecap="round"/>
<line x1="69.87" y1="345.75" x2="69.87" y2="352.24" stroke="#ff1a1a" stroke-width="1.6" stroke-opacity="0.63" stroke-linecap="round"/>
<line x1="69.73" y1="349.8" x2="69.73" y2="357.27" stroke="#ff3030" stroke-width="1.6" stroke-opacity="0.63" stroke-linecap="round"/>
<line x1="67.48" y1="347.48" x2="67.48" y2="353.44" stroke="#f04040" stroke-width="1.6" stroke-opacity="0.63" stroke-linecap="round"/>
<line x1="69.51" y1="349.2" x2="69.51" y2="355.74" stroke="#e82020" stroke-width="1.6" stroke-opacity="0.63" stroke-linecap="round"/>
<line x1="69.16" y1="347.26" x2="69.16" y2="352.45" stroke="#ff1a1a" stroke-width="1.6" stroke-opacity="0.63" stroke-linecap="round"/>
<line x1="66.04" y1="349.34" x2="66.04" y2="354.83" stroke="#e82020" stroke-width="1.6" stroke-opacity="0.63" stroke-linecap="round"/>
<line x1="70.66" y1="352.51" x2="70.66" y2="358.31" stroke="#ff1a1a" stroke-width="1.6" stroke-opacity="0.63" stroke-linecap="round"/>
<line x1="128.65" y1="356.38" x2="128.65" y2="364.35" stroke="#e82020" stroke-width="1.6" stroke-opacity="0.7" stroke-linecap="round"/>
<line x1="128.45" y1="356.54" x2="128.45" y2="362.92" stroke="#ff3030" stroke-width="1.6" stroke-opacity="0.7" stroke-linecap="round"/>
<line x1="131.61" y1="355.8" x2="131.61" y2="362.79" stroke="#ff1a1a" stroke-width="1.6" stroke-opacity="0.7" stroke-linecap="round"/>
<line x1="131.79" y1="356.86" x2="131.79" y2="362.7" stroke="#f04040" stroke-width="1.6" stroke-opacity="0.7" stroke-linecap="round"/>
<line x1="139.42" y1="317.51" x2="139.42" y2="324.3" stroke="#bfe3a0" stroke-width="1.6" stroke-opacity="0.63" stroke-linecap="round"/>
<line x1="138.21" y1="313.32" x2="138.21" y2="320.45" stroke="#bfe3a0" stroke-width="1.6" stroke-opacity="0.63" stroke-linecap="round"/>
<line x1="139.12" y1="313.18" x2="139.12" y2="323.15" stroke="#bfe3a0" stroke-width="1.6" stroke-opacity="0.63" stroke-linecap="round"/>
<line x1="141.22" y1="311.88" x2="141.22" y2="319.73" stroke="#a5d47f" stroke-width="1.6" stroke-opacity="0.63" stroke-linecap="round"/>
<line x1="137.67" y1="314.16" x2="137.67" y2="323.44" stroke="#cfe9b8" stroke-width="1.6" stroke-opacity="0.63" stroke-linecap="round"/>
<line x1="142.94" y1="311.74" x2="142.94" y2="318.91" stroke="#a5d47f" stroke-width="1.6" stroke-opacity="0.63" stroke-linecap="round"/>
<circle cx="94.8" cy="302.7" r="1.45" fill="#1a8cc4" stroke="none" stroke-width="1"/>
<circle cx="94.8" cy="307.4" r="1.45" fill="#1a8cc4" stroke="none" stroke-width="1"/>
<circle cx="98.3" cy="310.9" r="1.45" fill="#1a8cc4" stroke="none" stroke-width="1"/>
<circle cx="106.4" cy="307.4" r="1.45" fill="#1a8cc4" stroke="none" stroke-width="1"/>
<circle cx="115.8" cy="313.2" r="1.45" fill="#1a8cc4" stroke="none" stroke-width="1"/>
<circle cx="105.3" cy="316.7" r="1.45" fill="#1a8cc4" stroke="none" stroke-width="1"/>
<circle cx="94.8" cy="322.6" r="1.45" fill="#1a8cc4" stroke="none" stroke-width="1"/>
<circle cx="89.6" cy="326.1" r="1.45" fill="#1a8cc4" stroke="none" stroke-width="1"/>
<circle cx="87.8" cy="333.1" r="1.45" fill="#1a8cc4" stroke="none" stroke-width="1"/>
<circle cx="90.1" cy="330.3" r="1.45" fill="#1a8cc4" stroke="none" stroke-width="1"/>
<circle cx="99.4" cy="326.1" r="1.45" fill="#1a8cc4" stroke="none" stroke-width="1"/>
<circle cx="104.1" cy="330.8" r="1.45" fill="#1a8cc4" stroke="none" stroke-width="1"/>
<circle cx="112.3" cy="328.4" r="1.45" fill="#1a8cc4" stroke="none" stroke-width="1"/>
<circle cx="120.5" cy="339" r="1.45" fill="#1a8cc4" stroke="none" stroke-width="1"/>
<circle cx="101.8" cy="340.1" r="1.45" fill="#1a8cc4" stroke="none" stroke-width="1"/>
<circle cx="108.8" cy="344.8" r="1.45" fill="#1a8cc4" stroke="none" stroke-width="1"/>
<circle cx="93.6" cy="347.1" r="1.45" fill="#1a8cc4" stroke="none" stroke-width="1"/>
<circle cx="99.4" cy="352" r="1.45" fill="#1a8cc4" stroke="none" stroke-width="1"/>
<circle cx="66.7" cy="352.9" r="1.45" fill="#1a8cc4" stroke="none" stroke-width="1"/>
<circle cx="115.3" cy="342.9" r="1.45" fill="#1a8cc4" stroke="none" stroke-width="1"/>
<circle cx="131.7" cy="364" r="1.45" fill="#1a8cc4" stroke="none" stroke-width="1"/>
<circle cx="140.3" cy="320.2" r="1.45" fill="#1a8cc4" stroke="none" stroke-width="1"/>
<circle cx="91.5" cy="304.5" r="1.45" fill="#1a8cc4" stroke="none" stroke-width="1"/>
<circle cx="100.5" cy="312.5" r="1.45" fill="#1a8cc4" stroke="none" stroke-width="1"/>
<circle cx="108" cy="318.5" r="1.45" fill="#1a8cc4" stroke="none" stroke-width="1"/>
<circle cx="116.5" cy="320.5" r="1.45" fill="#1a8cc4" stroke="none" stroke-width="1"/>
<circle cx="111" cy="309.5" r="1.45" fill="#1a8cc4" stroke="none" stroke-width="1"/>
<circle cx="97" cy="317.5" r="1.45" fill="#1a8cc4" stroke="none" stroke-width="1"/>
<circle cx="92" cy="320" r="1.45" fill="#1a8cc4" stroke="none" stroke-width="1"/>
<circle cx="104" cy="323.5" r="1.45" fill="#1a8cc4" stroke="none" stroke-width="1"/>
<circle cx="115" cy="326.5" r="1.45" fill="#1a8cc4" stroke="none" stroke-width="1"/>
<circle cx="88.5" cy="338.5" r="1.45" fill="#1a8cc4" stroke="none" stroke-width="1"/>
<circle cx="96.5" cy="336" r="1.45" fill="#1a8cc4" stroke="none" stroke-width="1"/>
<circle cx="107" cy="336.5" r="1.45" fill="#1a8cc4" stroke="none" stroke-width="1"/>
<polyline points="48.7,305 94.8,281.7 149.7,304.6" stroke="#222" stroke-width="0.9" fill="none"/>
<line x1="48.7" y1="305" x2="48.7" y2="358.8" stroke="#222" stroke-width="0.9"/>
<line x1="149.7" y1="304.6" x2="149.7" y2="355.3" stroke="#222" stroke-width="0.9"/>
<polyline points="48.7,358.8 103,379.8 149.7,355.3" stroke="#222" stroke-width="0.9" fill="none"/>
<line x1="94.8" y1="281.7" x2="94.8" y2="299.7" stroke="#222" stroke-width="0.9"/>
<line x1="48.7" y1="358.8" x2="50" y2="358.2" stroke="#222" stroke-width="0.5"/>
<text x="46.5" y="360.8" font-size="5.6" text-anchor="end" fill="#262626">0</text>
<line x1="48.7" y1="331.9" x2="50" y2="331.3" stroke="#222" stroke-width="0.5"/>
<text x="46.5" y="333.9" font-size="5.6" text-anchor="end" fill="#262626">50</text>
<line x1="48.7" y1="305" x2="50" y2="304.4" stroke="#222" stroke-width="0.5"/>
<text x="46.5" y="307" font-size="5.6" text-anchor="end" fill="#262626">100</text>
<line x1="62.28" y1="364.05" x2="63.48" y2="363.45" stroke="#222" stroke-width="0.5"/>
<line x1="94.85" y1="376.65" x2="96.05" y2="376.05" stroke="#222" stroke-width="0.5"/>
<text x="59.2" y="374" font-size="5.6" text-anchor="middle" fill="#262626">100</text>
<text x="95.6" y="388.2" font-size="5.6" text-anchor="middle" fill="#262626">200</text>
<text x="113.6" y="387.2" font-size="5.6" text-anchor="middle" fill="#262626">150</text>
<text x="133.4" y="375" font-size="5.6" text-anchor="middle" fill="#262626">100</text>
<text x="155.8" y="363.4" font-size="5.6" text-anchor="middle" fill="#262626">50</text>
<text x="96.3" y="279.2" font-size="6.5" text-anchor="middle" fill="#1c1c1c">Pulse-1st</text>
<text x="33.5" y="325" font-size="6.6" text-anchor="middle" fill="#262626" transform="rotate(-90 33.5 325)">Conductance (arb. units)</text>
<text x="32.6" y="370.2" font-size="6.7" text-anchor="start" fill="#262626" transform="rotate(21.3 32.6 370.2)">Systolic blood pressure</text>
<text x="50.3" y="385" font-size="6.7" text-anchor="start" fill="#262626" transform="rotate(21.3 50.3 385)">(mmHg)</text>
<text x="120.8" y="394.8" font-size="6.6" text-anchor="start" fill="#262626" transform="rotate(-30 120.8 394.8)">Heart rate(BPM)</text>
<polyline points="193.9,331.9 240,308.6 294.9,328.4" stroke="#e2e2e2" stroke-width="0.5" fill="none"/>
<line x1="209.11" y1="351.11" x2="209.11" y2="297.31" stroke="#e2e2e2" stroke-width="0.5"/>
<line x1="258.12" y1="342.03" x2="258.12" y2="288.23" stroke="#e2e2e2" stroke-width="0.5"/>
<line x1="224.33" y1="343.42" x2="224.33" y2="289.62" stroke="#e2e2e2" stroke-width="0.5"/>
<line x1="276.23" y1="348.57" x2="276.23" y2="294.77" stroke="#e2e2e2" stroke-width="0.5"/>
<line x1="240" y1="335.5" x2="240" y2="281.7" stroke="#cfcfcf" stroke-width="0.5"/>
<line x1="212.9" y1="366.15" x2="259" y2="342.85" stroke="#e2e2e2" stroke-width="0.5"/>
<line x1="233" y1="373.92" x2="279.1" y2="350.62" stroke="#e2e2e2" stroke-width="0.5"/>
<line x1="262.21" y1="372.45" x2="207.91" y2="351.45" stroke="#e2e2e2" stroke-width="0.5"/>
<line x1="285.56" y1="360.2" x2="231.26" y2="339.2" stroke="#e2e2e2" stroke-width="0.5"/>
<line x1="229.71" y1="327.15" x2="229.71" y2="336.46" stroke="#fbdcea" stroke-width="1.6" stroke-opacity="0.63" stroke-linecap="round"/>
<line x1="259.63" y1="325.25" x2="259.63" y2="334.71" stroke="#f8c8d0" stroke-width="1.6" stroke-opacity="0.63" stroke-linecap="round"/>
<line x1="248.5" y1="328.87" x2="248.5" y2="337.53" stroke="#f8d0e0" stroke-width="1.6" stroke-opacity="0.63" stroke-linecap="round"/>
<line x1="231.6" y1="327.53" x2="231.6" y2="336.01" stroke="#fbdcea" stroke-width="1.6" stroke-opacity="0.63" stroke-linecap="round"/>
<line x1="229.27" y1="326.63" x2="229.27" y2="332.81" stroke="#f2c0c8" stroke-width="1.6" stroke-opacity="0.63" stroke-linecap="round"/>
<line x1="229.3" y1="328.03" x2="229.3" y2="337.69" stroke="#f8d0e0" stroke-width="1.6" stroke-opacity="0.63" stroke-linecap="round"/>
<line x1="255.84" y1="326.53" x2="255.84" y2="334.02" stroke="#f2c0c8" stroke-width="1.6" stroke-opacity="0.63" stroke-linecap="round"/>
<line x1="230.65" y1="323.26" x2="230.65" y2="331.24" stroke="#f8c8d0" stroke-width="1.6" stroke-opacity="0.63" stroke-linecap="round"/>
<line x1="230.15" y1="324.02" x2="230.15" y2="331.6" stroke="#fbdcea" stroke-width="1.6" stroke-opacity="0.63" stroke-linecap="round"/>
<line x1="249.73" y1="324.4" x2="249.73" y2="331.06" stroke="#f2c0c8" stroke-width="1.6" stroke-opacity="0.63" stroke-linecap="round"/>
<line x1="241.93" y1="325.65" x2="241.93" y2="332.88" stroke="#f8d0e0" stroke-width="1.6" stroke-opacity="0.63" stroke-linecap="round"/>
<line x1="238.62" y1="327.82" x2="238.62" y2="335.25" stroke="#f8c8d0" stroke-width="1.6" stroke-opacity="0.63" stroke-linecap="round"/>
<line x1="228.62" y1="328.53" x2="228.62" y2="337.74" stroke="#fbdcea" stroke-width="1.6" stroke-opacity="0.63" stroke-linecap="round"/>
<line x1="241.28" y1="325.36" x2="241.28" y2="335.12" stroke="#f8c8d0" stroke-width="1.6" stroke-opacity="0.63" stroke-linecap="round"/>
<line x1="258.66" y1="325.75" x2="258.66" y2="335.03" stroke="#f8c8d0" stroke-width="1.6" stroke-opacity="0.63" stroke-linecap="round"/>
<line x1="247.65" y1="325.37" x2="247.65" y2="334.46" stroke="#fbdcea" stroke-width="1.6" stroke-opacity="0.63" stroke-linecap="round"/>
<line x1="228.5" y1="327.13" x2="228.5" y2="335.69" stroke="#f8c8d0" stroke-width="1.6" stroke-opacity="0.63" stroke-linecap="round"/>
<line x1="231.03" y1="328.24" x2="231.03" y2="335.72" stroke="#fbdcea" stroke-width="1.6" stroke-opacity="0.63" stroke-linecap="round"/>
<line x1="232.96" y1="325.22" x2="232.96" y2="333.31" stroke="#f8d0e0" stroke-width="1.6" stroke-opacity="0.63" stroke-linecap="round"/>
<line x1="231.7" y1="326.31" x2="231.7" y2="335.53" stroke="#fbdcea" stroke-width="1.6" stroke-opacity="0.63" stroke-linecap="round"/>
<line x1="238.25" y1="330.61" x2="238.25" y2="336.79" stroke="#f8c8d0" stroke-width="1.6" stroke-opacity="0.63" stroke-linecap="round"/>
<line x1="238.69" y1="327.59" x2="238.69" y2="336.13" stroke="#f8d0e0" stroke-width="1.6" stroke-opacity="0.63" stroke-linecap="round"/>
<line x1="258.74" y1="327.31" x2="258.74" y2="336.61" stroke="#fbdcea" stroke-width="1.6" stroke-opacity="0.63" stroke-linecap="round"/>
<line x1="249.77" y1="329.61" x2="249.77" y2="338.09" stroke="#fbdcea" stroke-width="1.6" stroke-opacity="0.63" stroke-linecap="round"/>
<line x1="256.19" y1="325.03" x2="256.19" y2="331.9" stroke="#f8c8d0" stroke-width="1.6" stroke-opacity="0.63" stroke-linecap="round"/>
<line x1="259.91" y1="324.53" x2="259.91" y2="331.97" stroke="#fbdcea" stroke-width="1.6" stroke-opacity="0.63" stroke-linecap="round"/>
<line x1="237.41" y1="318.8" x2="237.41" y2="328.39" stroke="#a5d47f" stroke-width="1.6" stroke-opacity="0.595" stroke-linecap="round"/>
<line x1="256.52" y1="321.14" x2="256.52" y2="329.82" stroke="#8cc665" stroke-width="1.6" stroke-opacity="0.595" stroke-linecap="round"/>
<line x1="233.53" y1="317.49" x2="233.53" y2="325.69" stroke="#8cc665" stroke-width="1.6" stroke-opacity="0.595" stroke-linecap="round"/>
<line x1="249.47" y1="313.43" x2="249.47" y2="320.43" stroke="#cfe9b8" stroke-width="1.6" stroke-opacity="0.595" stroke-linecap="round"/>
<line x1="249.77" y1="315.27" x2="249.77" y2="323.03" stroke="#a5d47f" stroke-width="1.6" stroke-opacity="0.595" stroke-linecap="round"/>
<line x1="230.11" y1="323.85" x2="230.11" y2="331.71" stroke="#cfe9b8" stroke-width="1.6" stroke-opacity="0.595" stroke-linecap="round"/>
<line x1="252.91" y1="320.56" x2="252.91" y2="328.4" stroke="#bfe3a0" stroke-width="1.6" stroke-opacity="0.595" stroke-linecap="round"/>
<line x1="254.32" y1="315.27" x2="254.32" y2="321.54" stroke="#8cc665" stroke-width="1.6" stroke-opacity="0.595" stroke-linecap="round"/>
<line x1="242.92" y1="309.58" x2="242.92" y2="317.35" stroke="#a5d47f" stroke-width="1.6" stroke-opacity="0.595" stroke-linecap="round"/>
<line x1="231.22" y1="309.24" x2="231.22" y2="318.93" stroke="#8cc665" stroke-width="1.6" stroke-opacity="0.595" stroke-linecap="round"/>
<line x1="253.33" y1="317.08" x2="253.33" y2="323.29" stroke="#cfe9b8" stroke-width="1.6" stroke-opacity="0.595" stroke-linecap="round"/>
<line x1="249.58" y1="321.5" x2="249.58" y2="327.6" stroke="#a5d47f" stroke-width="1.6" stroke-opacity="0.595" stroke-linecap="round"/>
<line x1="259.88" y1="319.08" x2="259.88" y2="328.34" stroke="#bfe3a0" stroke-width="1.6" stroke-opacity="0.595" stroke-linecap="round"/>
<line x1="233.95" y1="322.6" x2="233.95" y2="329.75" stroke="#bfe3a0" stroke-width="1.6" stroke-opacity="0.595" stroke-linecap="round"/>
<line x1="250.58" y1="320.1" x2="250.58" y2="326.98" stroke="#8cc665" stroke-width="1.6" stroke-opacity="0.595" stroke-linecap="round"/>
<line x1="248.31" y1="312.39" x2="248.31" y2="319.68" stroke="#8cc665" stroke-width="1.6" stroke-opacity="0.595" stroke-linecap="round"/>
<line x1="257.15" y1="315.79" x2="257.15" y2="322.81" stroke="#cfe9b8" stroke-width="1.6" stroke-opacity="0.595" stroke-linecap="round"/>
<line x1="236.25" y1="312.19" x2="236.25" y2="320.22" stroke="#8cc665" stroke-width="1.6" stroke-opacity="0.595" stroke-linecap="round"/>
<line x1="241.17" y1="311.38" x2="241.17" y2="318.99" stroke="#8cc665" stroke-width="1.6" stroke-opacity="0.595" stroke-linecap="round"/>
<line x1="250.39" y1="322.99" x2="250.39" y2="329.66" stroke="#8cc665" stroke-width="1.6" stroke-opacity="0.595" stroke-linecap="round"/>
<line x1="233.45" y1="316.22" x2="233.45" y2="324.76" stroke="#8cc665" stroke-width="1.6" stroke-opacity="0.595" stroke-linecap="round"/>
<line x1="258.98" y1="315.21" x2="258.98" y2="323.29" stroke="#a5d47f" stroke-width="1.6" stroke-opacity="0.595" stroke-linecap="round"/>
<line x1="237.56" y1="315.86" x2="237.56" y2="325.28" stroke="#8cc665" stroke-width="1.6" stroke-opacity="0.595" stroke-linecap="round"/>
<line x1="237.94" y1="323.69" x2="237.94" y2="332" stroke="#8cc665" stroke-width="1.6" stroke-opacity="0.595" stroke-linecap="round"/>
<line x1="239.92" y1="309.84" x2="239.92" y2="316.76" stroke="#a5d47f" stroke-width="1.6" stroke-opacity="0.595" stroke-linecap="round"/>
<line x1="238.89" y1="316.64" x2="238.89" y2="323.88" stroke="#8cc665" stroke-width="1.6" stroke-opacity="0.595" stroke-linecap="round"/>
<line x1="251.99" y1="320.51" x2="251.99" y2="327.4" stroke="#8cc665" stroke-width="1.6" stroke-opacity="0.595" stroke-linecap="round"/>
<line x1="248.48" y1="314.89" x2="248.48" y2="322.94" stroke="#a5d47f" stroke-width="1.6" stroke-opacity="0.595" stroke-linecap="round"/>
<line x1="233.96" y1="311.33" x2="233.96" y2="319.94" stroke="#a5d47f" stroke-width="1.6" stroke-opacity="0.595" stroke-linecap="round"/>
<line x1="231.63" y1="317.47" x2="231.63" y2="324.68" stroke="#8cc665" stroke-width="1.6" stroke-opacity="0.595" stroke-linecap="round"/>
<line x1="246.02" y1="315.01" x2="246.02" y2="322.21" stroke="#bfe3a0" stroke-width="1.6" stroke-opacity="0.595" stroke-linecap="round"/>
<line x1="236.13" y1="318.03" x2="236.13" y2="325.93" stroke="#bfe3a0" stroke-width="1.6" stroke-opacity="0.595" stroke-linecap="round"/>
<line x1="230.42" y1="320.41" x2="230.42" y2="329.24" stroke="#cfe9b8" stroke-width="1.6" stroke-opacity="0.595" stroke-linecap="round"/>
<line x1="232.87" y1="317.47" x2="232.87" y2="326.95" stroke="#8cc665" stroke-width="1.6" stroke-opacity="0.595" stroke-linecap="round"/>
<line x1="242.06" y1="313.2" x2="242.06" y2="319.25" stroke="#8cc665" stroke-width="1.6" stroke-opacity="0.595" stroke-linecap="round"/>
<line x1="247.84" y1="317.05" x2="247.84" y2="325.46" stroke="#cfe9b8" stroke-width="1.6" stroke-opacity="0.595" stroke-linecap="round"/>
<line x1="237.45" y1="323.37" x2="237.45" y2="329.54" stroke="#a5d47f" stroke-width="1.6" stroke-opacity="0.595" stroke-linecap="round"/>
<line x1="242.18" y1="312.69" x2="242.18" y2="318.92" stroke="#a5d47f" stroke-width="1.6" stroke-opacity="0.595" stroke-linecap="round"/>
<line x1="230.37" y1="315.93" x2="230.37" y2="325.7" stroke="#bfe3a0" stroke-width="1.6" stroke-opacity="0.595" stroke-linecap="round"/>
<line x1="242.4" y1="316.01" x2="242.4" y2="324.58" stroke="#cfe9b8" stroke-width="1.6" stroke-opacity="0.595" stroke-linecap="round"/>
<line x1="254.4" y1="311.18" x2="254.4" y2="318.41" stroke="#8cc665" stroke-width="1.6" stroke-opacity="0.595" stroke-linecap="round"/>
<line x1="248.78" y1="323.46" x2="248.78" y2="332.35" stroke="#cfe9b8" stroke-width="1.6" stroke-opacity="0.595" stroke-linecap="round"/>
<line x1="251.46" y1="307.41" x2="251.46" y2="316.79" stroke="#cfe9b8" stroke-width="1.6" stroke-opacity="0.595" stroke-linecap="round"/>
<line x1="232.41" y1="319.14" x2="232.41" y2="325.84" stroke="#a5d47f" stroke-width="1.6" stroke-opacity="0.595" stroke-linecap="round"/>
<line x1="237.84" y1="319.06" x2="237.84" y2="325.55" stroke="#8cc665" stroke-width="1.6" stroke-opacity="0.595" stroke-linecap="round"/>
<line x1="251.35" y1="312.15" x2="251.35" y2="320.36" stroke="#cfe9b8" stroke-width="1.6" stroke-opacity="0.595" stroke-linecap="round"/>
<line x1="250.57" y1="321.73" x2="250.57" y2="331.62" stroke="#8cc665" stroke-width="1.6" stroke-opacity="0.595" stroke-linecap="round"/>
<line x1="248.19" y1="308.08" x2="248.19" y2="314.95" stroke="#8cc665" stroke-width="1.6" stroke-opacity="0.5599999999999999" stroke-linecap="round"/>
<line x1="227.5" y1="298.17" x2="227.5" y2="305.12" stroke="#6aa840" stroke-width="1.6" stroke-opacity="0.5599999999999999" stroke-linecap="round"/>
<line x1="233.69" y1="295.4" x2="233.69" y2="305.06" stroke="#4b8e2c" stroke-width="1.6" stroke-opacity="0.5599999999999999" stroke-linecap="round"/>
<line x1="256.05" y1="299.12" x2="256.05" y2="306.08" stroke="#6aa840" stroke-width="1.6" stroke-opacity="0.5599999999999999" stroke-linecap="round"/>
<line x1="257.42" y1="307.06" x2="257.42" y2="316.43" stroke="#8cc665" stroke-width="1.6" stroke-opacity="0.5599999999999999" stroke-linecap="round"/>
<line x1="242.49" y1="305.36" x2="242.49" y2="314.15" stroke="#3d7d25" stroke-width="1.6" stroke-opacity="0.5599999999999999" stroke-linecap="round"/>
<line x1="241.43" y1="304" x2="241.43" y2="312.29" stroke="#5d9e3a" stroke-width="1.6" stroke-opacity="0.5599999999999999" stroke-linecap="round"/>
<line x1="253.04" y1="299.31" x2="253.04" y2="307.65" stroke="#8cc665" stroke-width="1.6" stroke-opacity="0.5599999999999999" stroke-linecap="round"/>
<line x1="257.06" y1="296.97" x2="257.06" y2="303.08" stroke="#3d7d25" stroke-width="1.6" stroke-opacity="0.5599999999999999" stroke-linecap="round"/>
<line x1="247.52" y1="295.31" x2="247.52" y2="305.22" stroke="#6aa840" stroke-width="1.6" stroke-opacity="0.5599999999999999" stroke-linecap="round"/>
<line x1="227.95" y1="294.2" x2="227.95" y2="302.97" stroke="#6aa840" stroke-width="1.6" stroke-opacity="0.5599999999999999" stroke-linecap="round"/>
<line x1="228.41" y1="295.86" x2="228.41" y2="302.04" stroke="#8cc665" stroke-width="1.6" stroke-opacity="0.5599999999999999" stroke-linecap="round"/>
<line x1="252.14" y1="295.88" x2="252.14" y2="305.7" stroke="#8cc665" stroke-width="1.6" stroke-opacity="0.5599999999999999" stroke-linecap="round"/>
<line x1="256.41" y1="294.19" x2="256.41" y2="303.66" stroke="#6aa840" stroke-width="1.6" stroke-opacity="0.5599999999999999" stroke-linecap="round"/>
<line x1="258.16" y1="296.09" x2="258.16" y2="302.91" stroke="#3d7d25" stroke-width="1.6" stroke-opacity="0.5599999999999999" stroke-linecap="round"/>
<line x1="228.12" y1="306.47" x2="228.12" y2="316.11" stroke="#6aa840" stroke-width="1.6" stroke-opacity="0.5599999999999999" stroke-linecap="round"/>
<line x1="229.89" y1="304.26" x2="229.89" y2="312.78" stroke="#75ae46" stroke-width="1.6" stroke-opacity="0.5599999999999999" stroke-linecap="round"/>
<line x1="230.3" y1="294.86" x2="230.3" y2="303.88" stroke="#4b8e2c" stroke-width="1.6" stroke-opacity="0.5599999999999999" stroke-linecap="round"/>
<line x1="236.72" y1="299.19" x2="236.72" y2="306.23" stroke="#5d9e3a" stroke-width="1.6" stroke-opacity="0.5599999999999999" stroke-linecap="round"/>
<line x1="235.47" y1="297.52" x2="235.47" y2="306.39" stroke="#5d9e3a" stroke-width="1.6" stroke-opacity="0.5599999999999999" stroke-linecap="round"/>
<line x1="257.04" y1="304.57" x2="257.04" y2="312.97" stroke="#75ae46" stroke-width="1.6" stroke-opacity="0.5599999999999999" stroke-linecap="round"/>
<line x1="255.1" y1="303.59" x2="255.1" y2="309.72" stroke="#75ae46" stroke-width="1.6" stroke-opacity="0.5599999999999999" stroke-linecap="round"/>
<line x1="228.03" y1="302.06" x2="228.03" y2="308.46" stroke="#75ae46" stroke-width="1.6" stroke-opacity="0.5599999999999999" stroke-linecap="round"/>
<line x1="250.25" y1="302.1" x2="250.25" y2="308.96" stroke="#3d7d25" stroke-width="1.6" stroke-opacity="0.5599999999999999" stroke-linecap="round"/>
<line x1="245.96" y1="298.15" x2="245.96" y2="305.89" stroke="#8cc665" stroke-width="1.6" stroke-opacity="0.5599999999999999" stroke-linecap="round"/>
<line x1="233.67" y1="303.71" x2="233.67" y2="313.63" stroke="#3d7d25" stroke-width="1.6" stroke-opacity="0.5599999999999999" stroke-linecap="round"/>
<line x1="238.48" y1="294.95" x2="238.48" y2="303.73" stroke="#4b8e2c" stroke-width="1.6" stroke-opacity="0.5599999999999999" stroke-linecap="round"/>
<line x1="258.92" y1="301.38" x2="258.92" y2="311.21" stroke="#8cc665" stroke-width="1.6" stroke-opacity="0.5599999999999999" stroke-linecap="round"/>
<line x1="235.6" y1="307.65" x2="235.6" y2="314.78" stroke="#4b8e2c" stroke-width="1.6" stroke-opacity="0.5599999999999999" stroke-linecap="round"/>
<line x1="257.96" y1="297.91" x2="257.96" y2="304.57" stroke="#6aa840" stroke-width="1.6" stroke-opacity="0.5599999999999999" stroke-linecap="round"/>
<line x1="252.3" y1="299.88" x2="252.3" y2="309.85" stroke="#8cc665" stroke-width="1.6" stroke-opacity="0.5599999999999999" stroke-linecap="round"/>
<line x1="252.97" y1="303.08" x2="252.97" y2="310.5" stroke="#75ae46" stroke-width="1.6" stroke-opacity="0.5599999999999999" stroke-linecap="round"/>
<line x1="257.64" y1="306" x2="257.64" y2="314.98" stroke="#75ae46" stroke-width="1.6" stroke-opacity="0.5599999999999999" stroke-linecap="round"/>
<line x1="256.32" y1="294.94" x2="256.32" y2="301.76" stroke="#5d9e3a" stroke-width="1.6" stroke-opacity="0.5599999999999999" stroke-linecap="round"/>
<line x1="241.13" y1="302.29" x2="241.13" y2="308.97" stroke="#6aa840" stroke-width="1.6" stroke-opacity="0.5599999999999999" stroke-linecap="round"/>
<line x1="234.71" y1="300.39" x2="234.71" y2="308.52" stroke="#6aa840" stroke-width="1.6" stroke-opacity="0.5599999999999999" stroke-linecap="round"/>
<line x1="251.85" y1="303.35" x2="251.85" y2="310.75" stroke="#5d9e3a" stroke-width="1.6" stroke-opacity="0.5599999999999999" stroke-linecap="round"/>
<line x1="244.22" y1="306.25" x2="244.22" y2="314.05" stroke="#8cc665" stroke-width="1.6" stroke-opacity="0.5599999999999999" stroke-linecap="round"/>
<line x1="251.49" y1="296.5" x2="251.49" y2="304.25" stroke="#5d9e3a" stroke-width="1.6" stroke-opacity="0.5599999999999999" stroke-linecap="round"/>
<line x1="246.11" y1="295.84" x2="246.11" y2="303.69" stroke="#6aa840" stroke-width="1.6" stroke-opacity="0.5599999999999999" stroke-linecap="round"/>
<line x1="234.85" y1="297.08" x2="234.85" y2="304.29" stroke="#6aa840" stroke-width="1.6" stroke-opacity="0.5599999999999999" stroke-linecap="round"/>
<line x1="254.28" y1="302.2" x2="254.28" y2="311.09" stroke="#4b8e2c" stroke-width="1.6" stroke-opacity="0.5599999999999999" stroke-linecap="round"/>
<line x1="250.86" y1="302.74" x2="250.86" y2="310.14" stroke="#4b8e2c" stroke-width="1.6" stroke-opacity="0.5599999999999999" stroke-linecap="round"/>
<line x1="237.83" y1="295.7" x2="237.83" y2="305.6" stroke="#6aa840" stroke-width="1.6" stroke-opacity="0.5599999999999999" stroke-linecap="round"/>
<line x1="259.83" y1="295.99" x2="259.83" y2="304.62" stroke="#4b8e2c" stroke-width="1.6" stroke-opacity="0.5599999999999999" stroke-linecap="round"/>
<line x1="239.68" y1="307.18" x2="239.68" y2="316.36" stroke="#6aa840" stroke-width="1.6" stroke-opacity="0.5599999999999999" stroke-linecap="round"/>
<line x1="236.81" y1="298.61" x2="236.81" y2="305.05" stroke="#3d7d25" stroke-width="1.6" stroke-opacity="0.5599999999999999" stroke-linecap="round"/>
<line x1="236.27" y1="306.47" x2="236.27" y2="314.32" stroke="#3d7d25" stroke-width="1.6" stroke-opacity="0.5599999999999999" stroke-linecap="round"/>
<line x1="240.17" y1="304.69" x2="240.17" y2="313.46" stroke="#8cc665" stroke-width="1.6" stroke-opacity="0.5599999999999999" stroke-linecap="round"/>
<line x1="259.37" y1="299.1" x2="259.37" y2="305.19" stroke="#5d9e3a" stroke-width="1.6" stroke-opacity="0.5599999999999999" stroke-linecap="round"/>
<line x1="246.92" y1="299.18" x2="246.92" y2="308.15" stroke="#75ae46" stroke-width="1.6" stroke-opacity="0.5599999999999999" stroke-linecap="round"/>
<line x1="250.14" y1="301.93" x2="250.14" y2="310.52" stroke="#4b8e2c" stroke-width="1.6" stroke-opacity="0.5599999999999999" stroke-linecap="round"/>
<line x1="251.37" y1="338.23" x2="251.37" y2="346.74" stroke="#ff3030" stroke-width="1.6" stroke-opacity="0.63" stroke-linecap="round"/>
<line x1="251.71" y1="338.93" x2="251.71" y2="345.75" stroke="#f04040" stroke-width="1.6" stroke-opacity="0.63" stroke-linecap="round"/>
<line x1="239.53" y1="338.82" x2="239.53" y2="347.4" stroke="#ff3030" stroke-width="1.6" stroke-opacity="0.63" stroke-linecap="round"/>
<line x1="254.69" y1="339.51" x2="254.69" y2="347.03" stroke="#f04040" stroke-width="1.6" stroke-opacity="0.63" stroke-linecap="round"/>
<line x1="256.63" y1="337.74" x2="256.63" y2="342.81" stroke="#e82020" stroke-width="1.6" stroke-opacity="0.63" stroke-linecap="round"/>
<line x1="247.03" y1="338.35" x2="247.03" y2="346.84" stroke="#f04040" stroke-width="1.6" stroke-opacity="0.63" stroke-linecap="round"/>
<line x1="254.57" y1="335.57" x2="254.57" y2="342.53" stroke="#ff1a1a" stroke-width="1.6" stroke-opacity="0.63" stroke-linecap="round"/>
<line x1="233.11" y1="338.24" x2="233.11" y2="343.89" stroke="#ff3030" stroke-width="1.6" stroke-opacity="0.63" stroke-linecap="round"/>
<line x1="247.06" y1="331.67" x2="247.06" y2="338.96" stroke="#ff3030" stroke-width="1.6" stroke-opacity="0.63" stroke-linecap="round"/>
<line x1="252.8" y1="336.88" x2="252.8" y2="344.44" stroke="#f04040" stroke-width="1.6" stroke-opacity="0.63" stroke-linecap="round"/>
<line x1="247.13" y1="334.94" x2="247.13" y2="343.73" stroke="#ff3030" stroke-width="1.6" stroke-opacity="0.63" stroke-linecap="round"/>
<line x1="260.72" y1="332.86" x2="260.72" y2="339.92" stroke="#ff1a1a" stroke-width="1.6" stroke-opacity="0.63" stroke-linecap="round"/>
<line x1="253.14" y1="338.21" x2="253.14" y2="345.76" stroke="#f04040" stroke-width="1.6" stroke-opacity="0.63" stroke-linecap="round"/>
<line x1="239.96" y1="336.67" x2="239.96" y2="341.72" stroke="#e82020" stroke-width="1.6" stroke-opacity="0.63" stroke-linecap="round"/>
<line x1="258.55" y1="338.32" x2="258.55" y2="346.02" stroke="#f04040" stroke-width="1.6" stroke-opacity="0.63" stroke-linecap="round"/>
<line x1="235.17" y1="334.64" x2="235.17" y2="341.25" stroke="#ff3030" stroke-width="1.6" stroke-opacity="0.63" stroke-linecap="round"/>
<line x1="260.83" y1="343.07" x2="260.83" y2="349.92" stroke="#ff3030" stroke-width="1.6" stroke-opacity="0.63" stroke-linecap="round"/>
<line x1="235.75" y1="339.98" x2="235.75" y2="348.22" stroke="#ff3030" stroke-width="1.6" stroke-opacity="0.63" stroke-linecap="round"/>
<line x1="245.61" y1="338.35" x2="245.61" y2="344.26" stroke="#ff3030" stroke-width="1.6" stroke-opacity="0.63" stroke-linecap="round"/>
<line x1="242.24" y1="338.17" x2="242.24" y2="346.44" stroke="#e82020" stroke-width="1.6" stroke-opacity="0.63" stroke-linecap="round"/>
<line x1="245.57" y1="334.23" x2="245.57" y2="341.42" stroke="#ff3030" stroke-width="1.6" stroke-opacity="0.63" stroke-linecap="round"/>
<line x1="254.62" y1="336.04" x2="254.62" y2="344.17" stroke="#ff3030" stroke-width="1.6" stroke-opacity="0.63" stroke-linecap="round"/>
<line x1="239.76" y1="335.88" x2="239.76" y2="341.9" stroke="#e82020" stroke-width="1.6" stroke-opacity="0.63" stroke-linecap="round"/>
<line x1="251.69" y1="336.15" x2="251.69" y2="344.37" stroke="#f04040" stroke-width="1.6" stroke-opacity="0.63" stroke-linecap="round"/>
<line x1="242.38" y1="339.37" x2="242.38" y2="345.65" stroke="#e82020" stroke-width="1.6" stroke-opacity="0.63" stroke-linecap="round"/>
<line x1="244.43" y1="338.47" x2="244.43" y2="346.1" stroke="#f04040" stroke-width="1.6" stroke-opacity="0.63" stroke-linecap="round"/>
<line x1="236.43" y1="334.67" x2="236.43" y2="341.21" stroke="#ff1a1a" stroke-width="1.6" stroke-opacity="0.63" stroke-linecap="round"/>
<line x1="256.01" y1="341.71" x2="256.01" y2="349.84" stroke="#ff3030" stroke-width="1.6" stroke-opacity="0.63" stroke-linecap="round"/>
<line x1="247.39" y1="334.82" x2="247.39" y2="342.15" stroke="#ff1a1a" stroke-width="1.6" stroke-opacity="0.63" stroke-linecap="round"/>
<line x1="238.08" y1="331.85" x2="238.08" y2="338.02" stroke="#ff1a1a" stroke-width="1.6" stroke-opacity="0.63" stroke-linecap="round"/>
<line x1="248.78" y1="342.23" x2="248.78" y2="347.98" stroke="#e82020" stroke-width="1.6" stroke-opacity="0.63" stroke-linecap="round"/>
<line x1="242.05" y1="331.68" x2="242.05" y2="340.29" stroke="#ff3030" stroke-width="1.6" stroke-opacity="0.63" stroke-linecap="round"/>
<line x1="249.68" y1="338.49" x2="249.68" y2="347.4" stroke="#ff1a1a" stroke-width="1.6" stroke-opacity="0.63" stroke-linecap="round"/>
<line x1="251.39" y1="341.54" x2="251.39" y2="349.7" stroke="#f04040" stroke-width="1.6" stroke-opacity="0.63" stroke-linecap="round"/>
<line x1="237.72" y1="339.44" x2="237.72" y2="346.57" stroke="#e82020" stroke-width="1.6" stroke-opacity="0.63" stroke-linecap="round"/>
<line x1="251.47" y1="332.78" x2="251.47" y2="338.26" stroke="#e82020" stroke-width="1.6" stroke-opacity="0.63" stroke-linecap="round"/>
<line x1="238.79" y1="332.33" x2="238.79" y2="339.3" stroke="#ff1a1a" stroke-width="1.6" stroke-opacity="0.63" stroke-linecap="round"/>
<line x1="246.05" y1="341.87" x2="246.05" y2="349.67" stroke="#ff3030" stroke-width="1.6" stroke-opacity="0.63" stroke-linecap="round"/>
<line x1="246.45" y1="336.79" x2="246.45" y2="345.24" stroke="#ff1a1a" stroke-width="1.6" stroke-opacity="0.63" stroke-linecap="round"/>
<line x1="236.65" y1="334.28" x2="236.65" y2="342.06" stroke="#e82020" stroke-width="1.6" stroke-opacity="0.63" stroke-linecap="round"/>
<line x1="251.29" y1="341.68" x2="251.29" y2="348.18" stroke="#e82020" stroke-width="1.6" stroke-opacity="0.63" stroke-linecap="round"/>
<line x1="261" y1="339.93" x2="261" y2="345.65" stroke="#f04040" stroke-width="1.6" stroke-opacity="0.63" stroke-linecap="round"/>
<line x1="250.45" y1="330.65" x2="250.45" y2="338.09" stroke="#f04040" stroke-width="1.6" stroke-opacity="0.63" stroke-linecap="round"/>
<line x1="255.45" y1="331.75" x2="255.45" y2="338.69" stroke="#ff3030" stroke-width="1.6" stroke-opacity="0.63" stroke-linecap="round"/>
<line x1="232.98" y1="339.59" x2="232.98" y2="347.09" stroke="#f04040" stroke-width="1.6" stroke-opacity="0.63" stroke-linecap="round"/>
<line x1="234.74" y1="339.38" x2="234.74" y2="345.75" stroke="#ff3030" stroke-width="1.6" stroke-opacity="0.63" stroke-linecap="round"/>
<line x1="240.24" y1="335.44" x2="240.24" y2="341.45" stroke="#ff1a1a" stroke-width="1.6" stroke-opacity="0.63" stroke-linecap="round"/>
<line x1="271.59" y1="350.74" x2="271.59" y2="360.05" stroke="#e82020" stroke-width="1.6" stroke-opacity="0.63" stroke-linecap="round"/>
<line x1="253.35" y1="361.02" x2="253.35" y2="370.51" stroke="#f04040" stroke-width="1.6" stroke-opacity="0.63" stroke-linecap="round"/>
<line x1="277.07" y1="353.48" x2="277.07" y2="362.65" stroke="#f04040" stroke-width="1.6" stroke-opacity="0.63" stroke-linecap="round"/>
<line x1="248.12" y1="358.44" x2="248.12" y2="364.95" stroke="#ff1a1a" stroke-width="1.6" stroke-opacity="0.63" stroke-linecap="round"/>
<line x1="270.02" y1="347.16" x2="270.02" y2="356.05" stroke="#e82020" stroke-width="1.6" stroke-opacity="0.63" stroke-linecap="round"/>
<line x1="261.18" y1="348.14" x2="261.18" y2="355.35" stroke="#ff1a1a" stroke-width="1.6" stroke-opacity="0.63" stroke-linecap="round"/>
<line x1="242.72" y1="359.38" x2="242.72" y2="367.28" stroke="#ff1a1a" stroke-width="1.6" stroke-opacity="0.63" stroke-linecap="round"/>
<line x1="270.19" y1="357.81" x2="270.19" y2="366.26" stroke="#ff3030" stroke-width="1.6" stroke-opacity="0.63" stroke-linecap="round"/>
<line x1="264.19" y1="357.25" x2="264.19" y2="365.64" stroke="#ff1a1a" stroke-width="1.6" stroke-opacity="0.63" stroke-linecap="round"/>
<line x1="248.86" y1="357.09" x2="248.86" y2="364.92" stroke="#ff3030" stroke-width="1.6" stroke-opacity="0.63" stroke-linecap="round"/>
<line x1="244.75" y1="350.65" x2="244.75" y2="356.79" stroke="#ff1a1a" stroke-width="1.6" stroke-opacity="0.63" stroke-linecap="round"/>
<line x1="274.82" y1="356.36" x2="274.82" y2="363.83" stroke="#ff3030" stroke-width="1.6" stroke-opacity="0.63" stroke-linecap="round"/>
<line x1="270.1" y1="355.92" x2="270.1" y2="362.95" stroke="#f04040" stroke-width="1.6" stroke-opacity="0.63" stroke-linecap="round"/>
<line x1="247.84" y1="348.47" x2="247.84" y2="354.55" stroke="#ff1a1a" stroke-width="1.6" stroke-opacity="0.63" stroke-linecap="round"/>
<line x1="259.42" y1="354.18" x2="259.42" y2="363.48" stroke="#e82020" stroke-width="1.6" stroke-opacity="0.63" stroke-linecap="round"/>
<line x1="262.29" y1="360.89" x2="262.29" y2="368.67" stroke="#ff1a1a" stroke-width="1.6" stroke-opacity="0.63" stroke-linecap="round"/>
<line x1="266.16" y1="354.92" x2="266.16" y2="364.89" stroke="#ff3030" stroke-width="1.6" stroke-opacity="0.63" stroke-linecap="round"/>
<line x1="258.59" y1="353.98" x2="258.59" y2="360.39" stroke="#e82020" stroke-width="1.6" stroke-opacity="0.63" stroke-linecap="round"/>
<line x1="248.85" y1="350.25" x2="248.85" y2="356.31" stroke="#ff1a1a" stroke-width="1.6" stroke-opacity="0.63" stroke-linecap="round"/>
<line x1="241.35" y1="356.07" x2="241.35" y2="366.01" stroke="#ff1a1a" stroke-width="1.6" stroke-opacity="0.63" stroke-linecap="round"/>
<line x1="249.08" y1="348.88" x2="249.08" y2="356.76" stroke="#f04040" stroke-width="1.6" stroke-opacity="0.63" stroke-linecap="round"/>
<line x1="267.62" y1="350.17" x2="267.62" y2="359.1" stroke="#ff3030" stroke-width="1.6" stroke-opacity="0.63" stroke-linecap="round"/>
<line x1="275.14" y1="351.99" x2="275.14" y2="360.98" stroke="#ff3030" stroke-width="1.6" stroke-opacity="0.63" stroke-linecap="round"/>
<line x1="268" y1="348.01" x2="268" y2="356.52" stroke="#e82020" stroke-width="1.6" stroke-opacity="0.63" stroke-linecap="round"/>
<line x1="258.04" y1="361.48" x2="258.04" y2="368.49" stroke="#ff1a1a" stroke-width="1.6" stroke-opacity="0.63" stroke-linecap="round"/>
<line x1="267.54" y1="348.14" x2="267.54" y2="354.2" stroke="#ff1a1a" stroke-width="1.6" stroke-opacity="0.63" stroke-linecap="round"/>
<line x1="255.39" y1="351.49" x2="255.39" y2="359.89" stroke="#e82020" stroke-width="1.6" stroke-opacity="0.63" stroke-linecap="round"/>
<line x1="263.53" y1="350.85" x2="263.53" y2="360.64" stroke="#e82020" stroke-width="1.6" stroke-opacity="0.63" stroke-linecap="round"/>
<line x1="258.38" y1="348.56" x2="258.38" y2="358.43" stroke="#ff1a1a" stroke-width="1.6" stroke-opacity="0.63" stroke-linecap="round"/>
<line x1="254.44" y1="356.41" x2="254.44" y2="364.93" stroke="#e82020" stroke-width="1.6" stroke-opacity="0.63" stroke-linecap="round"/>
<line x1="258.65" y1="358.77" x2="258.65" y2="366.58" stroke="#f04040" stroke-width="1.6" stroke-opacity="0.63" stroke-linecap="round"/>
<line x1="270.03" y1="355.92" x2="270.03" y2="363.09" stroke="#ff1a1a" stroke-width="1.6" stroke-opacity="0.63" stroke-linecap="round"/>
<line x1="264.01" y1="356.16" x2="264.01" y2="365.37" stroke="#f04040" stroke-width="1.6" stroke-opacity="0.63" stroke-linecap="round"/>
<line x1="273.17" y1="358.64" x2="273.17" y2="364.7" stroke="#ff3030" stroke-width="1.6" stroke-opacity="0.63" stroke-linecap="round"/>
<line x1="263.24" y1="351.77" x2="263.24" y2="359.49" stroke="#ff3030" stroke-width="1.6" stroke-opacity="0.63" stroke-linecap="round"/>
<line x1="254.94" y1="357.07" x2="254.94" y2="365.48" stroke="#ff3030" stroke-width="1.6" stroke-opacity="0.63" stroke-linecap="round"/>
<line x1="270.88" y1="352.25" x2="270.88" y2="358.25" stroke="#f04040" stroke-width="1.6" stroke-opacity="0.63" stroke-linecap="round"/>
<line x1="250.92" y1="348.52" x2="250.92" y2="358.2" stroke="#ff1a1a" stroke-width="1.6" stroke-opacity="0.63" stroke-linecap="round"/>
<line x1="251.68" y1="348.33" x2="251.68" y2="357.89" stroke="#ff3030" stroke-width="1.6" stroke-opacity="0.63" stroke-linecap="round"/>
<line x1="251.13" y1="359.15" x2="251.13" y2="368.38" stroke="#e82020" stroke-width="1.6" stroke-opacity="0.63" stroke-linecap="round"/>
<line x1="253.83" y1="348.17" x2="253.83" y2="356.38" stroke="#e82020" stroke-width="1.6" stroke-opacity="0.63" stroke-linecap="round"/>
<line x1="248.42" y1="357.39" x2="248.42" y2="367.12" stroke="#ff3030" stroke-width="1.6" stroke-opacity="0.63" stroke-linecap="round"/>
<line x1="252.45" y1="348.07" x2="252.45" y2="355.65" stroke="#ff3030" stroke-width="1.6" stroke-opacity="0.63" stroke-linecap="round"/>
<line x1="275.26" y1="356.78" x2="275.26" y2="362.81" stroke="#e82020" stroke-width="1.6" stroke-opacity="0.63" stroke-linecap="round"/>
<line x1="258.01" y1="347.7" x2="258.01" y2="356.93" stroke="#ff1a1a" stroke-width="1.6" stroke-opacity="0.63" stroke-linecap="round"/>
<line x1="249.62" y1="354.9" x2="249.62" y2="364.49" stroke="#f04040" stroke-width="1.6" stroke-opacity="0.63" stroke-linecap="round"/>
<line x1="258.63" y1="356.46" x2="258.63" y2="363.22" stroke="#ff3030" stroke-width="1.6" stroke-opacity="0.63" stroke-linecap="round"/>
<line x1="206.11" y1="351.11" x2="206.11" y2="356.98" stroke="#f04040" stroke-width="1.6" stroke-opacity="0.63" stroke-linecap="round"/>
<line x1="209.83" y1="349.16" x2="209.83" y2="354.6" stroke="#ff1a1a" stroke-width="1.6" stroke-opacity="0.63" stroke-linecap="round"/>
<line x1="216.07" y1="347.9" x2="216.07" y2="355.5" stroke="#f04040" stroke-width="1.6" stroke-opacity="0.63" stroke-linecap="round"/>
<line x1="212.59" y1="351.17" x2="212.59" y2="356.64" stroke="#ff1a1a" stroke-width="1.6" stroke-opacity="0.63" stroke-linecap="round"/>
<line x1="209.14" y1="349.37" x2="209.14" y2="354.43" stroke="#ff1a1a" stroke-width="1.6" stroke-opacity="0.63" stroke-linecap="round"/>
<line x1="207.46" y1="351.18" x2="207.46" y2="357.88" stroke="#ff3030" stroke-width="1.6" stroke-opacity="0.63" stroke-linecap="round"/>
<line x1="208.14" y1="350.71" x2="208.14" y2="356.98" stroke="#e82020" stroke-width="1.6" stroke-opacity="0.63" stroke-linecap="round"/>
<line x1="214.21" y1="350.2" x2="214.21" y2="358.09" stroke="#f04040" stroke-width="1.6" stroke-opacity="0.63" stroke-linecap="round"/>
<line x1="215.12" y1="346.55" x2="215.12" y2="354.53" stroke="#e82020" stroke-width="1.6" stroke-opacity="0.63" stroke-linecap="round"/>
<line x1="206" y1="345.05" x2="206" y2="351.72" stroke="#e82020" stroke-width="1.6" stroke-opacity="0.63" stroke-linecap="round"/>
<line x1="285.61" y1="317.67" x2="285.61" y2="327.25" stroke="#cfe9b8" stroke-width="1.6" stroke-opacity="0.63" stroke-linecap="round"/>
<line x1="288.49" y1="317.88" x2="288.49" y2="324.24" stroke="#8cc665" stroke-width="1.6" stroke-opacity="0.63" stroke-linecap="round"/>
<line x1="286.13" y1="315.49" x2="286.13" y2="325.32" stroke="#cfe9b8" stroke-width="1.6" stroke-opacity="0.63" stroke-linecap="round"/>
<line x1="283.61" y1="318.76" x2="283.61" y2="326.24" stroke="#bfe3a0" stroke-width="1.6" stroke-opacity="0.63" stroke-linecap="round"/>
<line x1="288.95" y1="313.14" x2="288.95" y2="319.29" stroke="#8cc665" stroke-width="1.6" stroke-opacity="0.63" stroke-linecap="round"/>
<line x1="288.61" y1="310.49" x2="288.61" y2="318.7" stroke="#a5d47f" stroke-width="1.6" stroke-opacity="0.63" stroke-linecap="round"/>
<circle cx="240" cy="302" r="1.45" fill="#1a8cc4" stroke="none" stroke-width="1"/>
<circle cx="243.4" cy="306" r="1.45" fill="#1a8cc4" stroke="none" stroke-width="1"/>
<circle cx="252.4" cy="304" r="1.45" fill="#1a8cc4" stroke="none" stroke-width="1"/>
<circle cx="240.5" cy="311.5" r="1.45" fill="#1a8cc4" stroke="none" stroke-width="1"/>
<circle cx="248" cy="313.8" r="1.45" fill="#1a8cc4" stroke="none" stroke-width="1"/>
<circle cx="245" cy="318" r="1.45" fill="#1a8cc4" stroke="none" stroke-width="1"/>
<circle cx="257" cy="321" r="1.45" fill="#1a8cc4" stroke="none" stroke-width="1"/>
<circle cx="243" cy="327" r="1.45" fill="#1a8cc4" stroke="none" stroke-width="1"/>
<circle cx="250" cy="327" r="1.45" fill="#1a8cc4" stroke="none" stroke-width="1"/>
<circle cx="255.5" cy="332.5" r="1.45" fill="#1a8cc4" stroke="none" stroke-width="1"/>
<circle cx="238.5" cy="335" r="1.45" fill="#1a8cc4" stroke="none" stroke-width="1"/>
<circle cx="250.5" cy="339" r="1.45" fill="#1a8cc4" stroke="none" stroke-width="1"/>
<circle cx="245.5" cy="345" r="1.45" fill="#1a8cc4" stroke="none" stroke-width="1"/>
<circle cx="256" cy="346" r="1.45" fill="#1a8cc4" stroke="none" stroke-width="1"/>
<circle cx="241" cy="348.5" r="1.45" fill="#1a8cc4" stroke="none" stroke-width="1"/>
<circle cx="239.5" cy="352" r="1.45" fill="#1a8cc4" stroke="none" stroke-width="1"/>
<circle cx="253" cy="360" r="1.45" fill="#1a8cc4" stroke="none" stroke-width="1"/>
<circle cx="262.5" cy="361" r="1.45" fill="#1a8cc4" stroke="none" stroke-width="1"/>
<circle cx="244.5" cy="366" r="1.45" fill="#1a8cc4" stroke="none" stroke-width="1"/>
<circle cx="276.4" cy="364.6" r="1.45" fill="#1a8cc4" stroke="none" stroke-width="1"/>
<circle cx="285.7" cy="318.9" r="1.45" fill="#1a8cc4" stroke="none" stroke-width="1"/>
<circle cx="211" cy="352.5" r="1.45" fill="#1a8cc4" stroke="none" stroke-width="1"/>
<polyline points="193.9,305 240,281.7 294.9,304.6" stroke="#222" stroke-width="0.9" fill="none"/>
<line x1="193.9" y1="305" x2="193.9" y2="358.8" stroke="#222" stroke-width="0.9"/>
<line x1="294.9" y1="304.6" x2="294.9" y2="355.3" stroke="#222" stroke-width="0.9"/>
<polyline points="193.9,358.8 248.2,379.8 294.9,355.3" stroke="#222" stroke-width="0.9" fill="none"/>
<line x1="240" y1="281.7" x2="240" y2="299.7" stroke="#222" stroke-width="0.9"/>
<line x1="193.9" y1="358.8" x2="195.2" y2="358.2" stroke="#222" stroke-width="0.5"/>
<text x="191.7" y="360.8" font-size="5.6" text-anchor="end" fill="#262626">0</text>
<line x1="193.9" y1="331.9" x2="195.2" y2="331.3" stroke="#222" stroke-width="0.5"/>
<text x="191.7" y="333.9" font-size="5.6" text-anchor="end" fill="#262626">50</text>
<line x1="193.9" y1="305" x2="195.2" y2="304.4" stroke="#222" stroke-width="0.5"/>
<text x="191.7" y="307" font-size="5.6" text-anchor="end" fill="#262626">100</text>
<line x1="207.47" y1="364.05" x2="208.67" y2="363.45" stroke="#222" stroke-width="0.5"/>
<line x1="240.05" y1="376.65" x2="241.25" y2="376.05" stroke="#222" stroke-width="0.5"/>
<text x="204.4" y="374" font-size="5.6" text-anchor="middle" fill="#262626">100</text>
<text x="240.8" y="388.2" font-size="5.6" text-anchor="middle" fill="#262626">200</text>
<text x="258.8" y="387.2" font-size="5.6" text-anchor="middle" fill="#262626">150</text>
<text x="278.6" y="375" font-size="5.6" text-anchor="middle" fill="#262626">100</text>
<text x="301" y="363.4" font-size="5.6" text-anchor="middle" fill="#262626">50</text>
<text x="241.5" y="279.2" font-size="6.5" text-anchor="middle" fill="#1c1c1c">Pulse-5th</text>
<polyline points="338.7,331.9 384.8,308.6 439.7,328.4" stroke="#e2e2e2" stroke-width="0.5" fill="none"/>
<line x1="353.91" y1="351.11" x2="353.91" y2="297.31" stroke="#e2e2e2" stroke-width="0.5"/>
<line x1="402.92" y1="342.03" x2="402.92" y2="288.23" stroke="#e2e2e2" stroke-width="0.5"/>
<line x1="369.13" y1="343.42" x2="369.13" y2="289.62" stroke="#e2e2e2" stroke-width="0.5"/>
<line x1="421.03" y1="348.57" x2="421.03" y2="294.77" stroke="#e2e2e2" stroke-width="0.5"/>
<line x1="384.8" y1="335.5" x2="384.8" y2="281.7" stroke="#cfcfcf" stroke-width="0.5"/>
<line x1="357.7" y1="366.15" x2="403.81" y2="342.85" stroke="#e2e2e2" stroke-width="0.5"/>
<line x1="377.8" y1="373.92" x2="423.9" y2="350.62" stroke="#e2e2e2" stroke-width="0.5"/>
<line x1="407.01" y1="372.45" x2="352.71" y2="351.45" stroke="#e2e2e2" stroke-width="0.5"/>
<line x1="430.36" y1="360.2" x2="376.06" y2="339.2" stroke="#e2e2e2" stroke-width="0.5"/>
<line x1="402.63" y1="318.71" x2="402.63" y2="327.86" stroke="#f8c8d0" stroke-width="1.6" stroke-opacity="0.63" stroke-linecap="round"/>
<line x1="376.84" y1="319.36" x2="376.84" y2="328.38" stroke="#fbdcea" stroke-width="1.6" stroke-opacity="0.63" stroke-linecap="round"/>
<line x1="397.34" y1="320.61" x2="397.34" y2="328.98" stroke="#f8d0e0" stroke-width="1.6" stroke-opacity="0.63" stroke-linecap="round"/>
<line x1="390.53" y1="321.45" x2="390.53" y2="329.01" stroke="#f2c0c8" stroke-width="1.6" stroke-opacity="0.63" stroke-linecap="round"/>
<line x1="390.88" y1="320.53" x2="390.88" y2="327.49" stroke="#fbdcea" stroke-width="1.6" stroke-opacity="0.63" stroke-linecap="round"/>
<line x1="405.17" y1="324.42" x2="405.17" y2="332.29" stroke="#fbdcea" stroke-width="1.6" stroke-opacity="0.63" stroke-linecap="round"/>
<line x1="401.36" y1="319.28" x2="401.36" y2="328.61" stroke="#f8d0e0" stroke-width="1.6" stroke-opacity="0.63" stroke-linecap="round"/>
<line x1="405.82" y1="323.42" x2="405.82" y2="332.98" stroke="#fbdcea" stroke-width="1.6" stroke-opacity="0.63" stroke-linecap="round"/>
<line x1="400.68" y1="323.9" x2="400.68" y2="333.6" stroke="#f8c8d0" stroke-width="1.6" stroke-opacity="0.63" stroke-linecap="round"/>
<line x1="402.79" y1="322.87" x2="402.79" y2="330.67" stroke="#f2c0c8" stroke-width="1.6" stroke-opacity="0.63" stroke-linecap="round"/>
<line x1="385.64" y1="321.17" x2="385.64" y2="327.63" stroke="#f2c0c8" stroke-width="1.6" stroke-opacity="0.63" stroke-linecap="round"/>
<line x1="379.71" y1="321.22" x2="379.71" y2="327.44" stroke="#f8c8d0" stroke-width="1.6" stroke-opacity="0.63" stroke-linecap="round"/>
<line x1="393.26" y1="319.13" x2="393.26" y2="328.61" stroke="#f2c0c8" stroke-width="1.6" stroke-opacity="0.63" stroke-linecap="round"/>
<line x1="388.8" y1="321.43" x2="388.8" y2="327.53" stroke="#f2c0c8" stroke-width="1.6" stroke-opacity="0.63" stroke-linecap="round"/>
<line x1="386.04" y1="320.02" x2="386.04" y2="327.99" stroke="#f2c0c8" stroke-width="1.6" stroke-opacity="0.63" stroke-linecap="round"/>
<line x1="390.05" y1="322.59" x2="390.05" y2="329.2" stroke="#f8d0e0" stroke-width="1.6" stroke-opacity="0.63" stroke-linecap="round"/>
<line x1="395.82" y1="322.88" x2="395.82" y2="332.58" stroke="#f8c8d0" stroke-width="1.6" stroke-opacity="0.63" stroke-linecap="round"/>
<line x1="402.56" y1="319.21" x2="402.56" y2="328.22" stroke="#f2c0c8" stroke-width="1.6" stroke-opacity="0.63" stroke-linecap="round"/>
<line x1="389.26" y1="310.92" x2="389.26" y2="317.88" stroke="#bfe3a0" stroke-width="1.6" stroke-opacity="0.595" stroke-linecap="round"/>
<line x1="378.22" y1="309.97" x2="378.22" y2="319.55" stroke="#a5d47f" stroke-width="1.6" stroke-opacity="0.595" stroke-linecap="round"/>
<line x1="402.47" y1="320.43" x2="402.47" y2="327.01" stroke="#a5d47f" stroke-width="1.6" stroke-opacity="0.595" stroke-linecap="round"/>
<line x1="389.59" y1="313.58" x2="389.59" y2="321.62" stroke="#cfe9b8" stroke-width="1.6" stroke-opacity="0.595" stroke-linecap="round"/>
<line x1="375.06" y1="317.77" x2="375.06" y2="325.87" stroke="#bfe3a0" stroke-width="1.6" stroke-opacity="0.595" stroke-linecap="round"/>
<line x1="386.88" y1="307.71" x2="386.88" y2="315.35" stroke="#8cc665" stroke-width="1.6" stroke-opacity="0.595" stroke-linecap="round"/>
<line x1="393.85" y1="309.43" x2="393.85" y2="316.16" stroke="#bfe3a0" stroke-width="1.6" stroke-opacity="0.595" stroke-linecap="round"/>
<line x1="398.48" y1="310.4" x2="398.48" y2="316.72" stroke="#a5d47f" stroke-width="1.6" stroke-opacity="0.595" stroke-linecap="round"/>
<line x1="404.35" y1="315.98" x2="404.35" y2="325.02" stroke="#bfe3a0" stroke-width="1.6" stroke-opacity="0.595" stroke-linecap="round"/>
<line x1="381.8" y1="314.55" x2="381.8" y2="323.38" stroke="#bfe3a0" stroke-width="1.6" stroke-opacity="0.595" stroke-linecap="round"/>
<line x1="394.24" y1="310.5" x2="394.24" y2="316.76" stroke="#cfe9b8" stroke-width="1.6" stroke-opacity="0.595" stroke-linecap="round"/>
<line x1="402.76" y1="318.87" x2="402.76" y2="326.95" stroke="#8cc665" stroke-width="1.6" stroke-opacity="0.595" stroke-linecap="round"/>
<line x1="386.06" y1="317.22" x2="386.06" y2="326.67" stroke="#cfe9b8" stroke-width="1.6" stroke-opacity="0.595" stroke-linecap="round"/>
<line x1="377.98" y1="311.8" x2="377.98" y2="320.85" stroke="#bfe3a0" stroke-width="1.6" stroke-opacity="0.595" stroke-linecap="round"/>
<line x1="403.78" y1="311.09" x2="403.78" y2="317.83" stroke="#8cc665" stroke-width="1.6" stroke-opacity="0.595" stroke-linecap="round"/>
<line x1="376.21" y1="315.98" x2="376.21" y2="324.28" stroke="#a5d47f" stroke-width="1.6" stroke-opacity="0.595" stroke-linecap="round"/>
<line x1="386.75" y1="318.18" x2="386.75" y2="328.06" stroke="#a5d47f" stroke-width="1.6" stroke-opacity="0.595" stroke-linecap="round"/>
<line x1="378.99" y1="315.66" x2="378.99" y2="324.92" stroke="#8cc665" stroke-width="1.6" stroke-opacity="0.595" stroke-linecap="round"/>
<line x1="400.71" y1="318.13" x2="400.71" y2="326.44" stroke="#a5d47f" stroke-width="1.6" stroke-opacity="0.595" stroke-linecap="round"/>
<line x1="384.62" y1="307.94" x2="384.62" y2="316.86" stroke="#cfe9b8" stroke-width="1.6" stroke-opacity="0.595" stroke-linecap="round"/>
<line x1="391.94" y1="313.82" x2="391.94" y2="321.97" stroke="#a5d47f" stroke-width="1.6" stroke-opacity="0.595" stroke-linecap="round"/>
<line x1="383.04" y1="307.91" x2="383.04" y2="316.39" stroke="#bfe3a0" stroke-width="1.6" stroke-opacity="0.595" stroke-linecap="round"/>
<line x1="378.39" y1="309.62" x2="378.39" y2="318.89" stroke="#a5d47f" stroke-width="1.6" stroke-opacity="0.595" stroke-linecap="round"/>
<line x1="375.64" y1="318.56" x2="375.64" y2="327.52" stroke="#8cc665" stroke-width="1.6" stroke-opacity="0.595" stroke-linecap="round"/>
<line x1="375.58" y1="314.64" x2="375.58" y2="322.95" stroke="#bfe3a0" stroke-width="1.6" stroke-opacity="0.595" stroke-linecap="round"/>
<line x1="398.19" y1="307.6" x2="398.19" y2="317.08" stroke="#bfe3a0" stroke-width="1.6" stroke-opacity="0.595" stroke-linecap="round"/>
<line x1="376.49" y1="308.61" x2="376.49" y2="316.59" stroke="#8cc665" stroke-width="1.6" stroke-opacity="0.595" stroke-linecap="round"/>
<line x1="378.63" y1="307.81" x2="378.63" y2="317.35" stroke="#bfe3a0" stroke-width="1.6" stroke-opacity="0.595" stroke-linecap="round"/>
<line x1="403.42" y1="308.77" x2="403.42" y2="317.06" stroke="#cfe9b8" stroke-width="1.6" stroke-opacity="0.595" stroke-linecap="round"/>
<line x1="380.42" y1="316.86" x2="380.42" y2="326.61" stroke="#cfe9b8" stroke-width="1.6" stroke-opacity="0.595" stroke-linecap="round"/>
<line x1="397.9" y1="314.56" x2="397.9" y2="322.97" stroke="#a5d47f" stroke-width="1.6" stroke-opacity="0.595" stroke-linecap="round"/>
<line x1="388.06" y1="318.68" x2="388.06" y2="327.79" stroke="#8cc665" stroke-width="1.6" stroke-opacity="0.595" stroke-linecap="round"/>
<line x1="388.22" y1="317.47" x2="388.22" y2="326.33" stroke="#8cc665" stroke-width="1.6" stroke-opacity="0.595" stroke-linecap="round"/>
<line x1="401.9" y1="318.91" x2="401.9" y2="325.13" stroke="#bfe3a0" stroke-width="1.6" stroke-opacity="0.595" stroke-linecap="round"/>
<line x1="406.61" y1="319.65" x2="406.61" y2="326.64" stroke="#cfe9b8" stroke-width="1.6" stroke-opacity="0.595" stroke-linecap="round"/>
<line x1="396.88" y1="307.93" x2="396.88" y2="314.37" stroke="#bfe3a0" stroke-width="1.6" stroke-opacity="0.595" stroke-linecap="round"/>
<line x1="377.29" y1="312.62" x2="377.29" y2="320.64" stroke="#a5d47f" stroke-width="1.6" stroke-opacity="0.595" stroke-linecap="round"/>
<line x1="382.44" y1="312.68" x2="382.44" y2="320.26" stroke="#cfe9b8" stroke-width="1.6" stroke-opacity="0.595" stroke-linecap="round"/>
<line x1="395.9" y1="316.75" x2="395.9" y2="326.29" stroke="#a5d47f" stroke-width="1.6" stroke-opacity="0.595" stroke-linecap="round"/>
<line x1="376.13" y1="315.81" x2="376.13" y2="322.87" stroke="#8cc665" stroke-width="1.6" stroke-opacity="0.595" stroke-linecap="round"/>
<line x1="395.73" y1="318.41" x2="395.73" y2="324.55" stroke="#a5d47f" stroke-width="1.6" stroke-opacity="0.595" stroke-linecap="round"/>
<line x1="383.27" y1="313.9" x2="383.27" y2="321.63" stroke="#a5d47f" stroke-width="1.6" stroke-opacity="0.595" stroke-linecap="round"/>
<line x1="384.49" y1="310.68" x2="384.49" y2="319.27" stroke="#a5d47f" stroke-width="1.6" stroke-opacity="0.595" stroke-linecap="round"/>
<line x1="376.99" y1="318.63" x2="376.99" y2="328.31" stroke="#8cc665" stroke-width="1.6" stroke-opacity="0.595" stroke-linecap="round"/>
<line x1="377.79" y1="313.81" x2="377.79" y2="323.54" stroke="#cfe9b8" stroke-width="1.6" stroke-opacity="0.595" stroke-linecap="round"/>
<line x1="379.09" y1="309.12" x2="379.09" y2="316.29" stroke="#cfe9b8" stroke-width="1.6" stroke-opacity="0.595" stroke-linecap="round"/>
<line x1="394.05" y1="310.09" x2="394.05" y2="319.04" stroke="#8cc665" stroke-width="1.6" stroke-opacity="0.595" stroke-linecap="round"/>
<line x1="399.71" y1="300.84" x2="399.71" y2="309.12" stroke="#6aa840" stroke-width="1.6" stroke-opacity="0.63" stroke-linecap="round"/>
<line x1="384.76" y1="300.14" x2="384.76" y2="307.61" stroke="#8cc665" stroke-width="1.6" stroke-opacity="0.63" stroke-linecap="round"/>
<line x1="382.02" y1="297.96" x2="382.02" y2="307.24" stroke="#3d7d25" stroke-width="1.6" stroke-opacity="0.63" stroke-linecap="round"/>
<line x1="379.99" y1="293.96" x2="379.99" y2="302.01" stroke="#75ae46" stroke-width="1.6" stroke-opacity="0.63" stroke-linecap="round"/>
<line x1="404" y1="296.29" x2="404" y2="305.98" stroke="#4b8e2c" stroke-width="1.6" stroke-opacity="0.63" stroke-linecap="round"/>
<line x1="400.44" y1="294.18" x2="400.44" y2="302.41" stroke="#75ae46" stroke-width="1.6" stroke-opacity="0.63" stroke-linecap="round"/>
<line x1="380.91" y1="306.38" x2="380.91" y2="313.24" stroke="#3d7d25" stroke-width="1.6" stroke-opacity="0.63" stroke-linecap="round"/>
<line x1="397.48" y1="293.72" x2="397.48" y2="299.99" stroke="#5d9e3a" stroke-width="1.6" stroke-opacity="0.63" stroke-linecap="round"/>
<line x1="386.52" y1="291.34" x2="386.52" y2="298.89" stroke="#75ae46" stroke-width="1.6" stroke-opacity="0.63" stroke-linecap="round"/>
<line x1="383.69" y1="303.69" x2="383.69" y2="311.77" stroke="#6aa840" stroke-width="1.6" stroke-opacity="0.63" stroke-linecap="round"/>
<line x1="396.38" y1="293.11" x2="396.38" y2="300.46" stroke="#5d9e3a" stroke-width="1.6" stroke-opacity="0.63" stroke-linecap="round"/>
<line x1="376.63" y1="293.42" x2="376.63" y2="301.87" stroke="#5d9e3a" stroke-width="1.6" stroke-opacity="0.63" stroke-linecap="round"/>
<line x1="399.1" y1="298.84" x2="399.1" y2="307.8" stroke="#6aa840" stroke-width="1.6" stroke-opacity="0.63" stroke-linecap="round"/>
<line x1="402.43" y1="308.38" x2="402.43" y2="315.46" stroke="#6aa840" stroke-width="1.6" stroke-opacity="0.63" stroke-linecap="round"/>
<line x1="395.38" y1="307.21" x2="395.38" y2="313.72" stroke="#3d7d25" stroke-width="1.6" stroke-opacity="0.63" stroke-linecap="round"/>
<line x1="372.14" y1="303.61" x2="372.14" y2="311.95" stroke="#75ae46" stroke-width="1.6" stroke-opacity="0.63" stroke-linecap="round"/>
<line x1="385.12" y1="308.57" x2="385.12" y2="315.17" stroke="#5d9e3a" stroke-width="1.6" stroke-opacity="0.63" stroke-linecap="round"/>
<line x1="400.8" y1="301.17" x2="400.8" y2="308.69" stroke="#75ae46" stroke-width="1.6" stroke-opacity="0.63" stroke-linecap="round"/>
<line x1="394.86" y1="295.48" x2="394.86" y2="302.89" stroke="#5d9e3a" stroke-width="1.6" stroke-opacity="0.63" stroke-linecap="round"/>
<line x1="384.89" y1="300.23" x2="384.89" y2="307.77" stroke="#5d9e3a" stroke-width="1.6" stroke-opacity="0.63" stroke-linecap="round"/>
<line x1="372.22" y1="302.44" x2="372.22" y2="312.4" stroke="#75ae46" stroke-width="1.6" stroke-opacity="0.63" stroke-linecap="round"/>
<line x1="386.65" y1="293.71" x2="386.65" y2="300.92" stroke="#4b8e2c" stroke-width="1.6" stroke-opacity="0.63" stroke-linecap="round"/>
<line x1="386.38" y1="297.32" x2="386.38" y2="304.25" stroke="#5d9e3a" stroke-width="1.6" stroke-opacity="0.63" stroke-linecap="round"/>
<line x1="382.69" y1="304.5" x2="382.69" y2="313.86" stroke="#5d9e3a" stroke-width="1.6" stroke-opacity="0.63" stroke-linecap="round"/>
<line x1="378.74" y1="296.85" x2="378.74" y2="306.5" stroke="#3d7d25" stroke-width="1.6" stroke-opacity="0.63" stroke-linecap="round"/>
<line x1="372.84" y1="293.83" x2="372.84" y2="303.41" stroke="#5d9e3a" stroke-width="1.6" stroke-opacity="0.63" stroke-linecap="round"/>
<line x1="402.37" y1="303.85" x2="402.37" y2="312" stroke="#75ae46" stroke-width="1.6" stroke-opacity="0.63" stroke-linecap="round"/>
<line x1="389.08" y1="298.94" x2="389.08" y2="307.68" stroke="#75ae46" stroke-width="1.6" stroke-opacity="0.63" stroke-linecap="round"/>
<line x1="387.32" y1="290.38" x2="387.32" y2="299.09" stroke="#75ae46" stroke-width="1.6" stroke-opacity="0.63" stroke-linecap="round"/>
<line x1="403.28" y1="302.13" x2="403.28" y2="310.23" stroke="#3d7d25" stroke-width="1.6" stroke-opacity="0.63" stroke-linecap="round"/>
<line x1="385.51" y1="298.72" x2="385.51" y2="307.31" stroke="#8cc665" stroke-width="1.6" stroke-opacity="0.63" stroke-linecap="round"/>
<line x1="377.09" y1="293.55" x2="377.09" y2="301.23" stroke="#75ae46" stroke-width="1.6" stroke-opacity="0.63" stroke-linecap="round"/>
<line x1="386.53" y1="300.25" x2="386.53" y2="310.24" stroke="#5d9e3a" stroke-width="1.6" stroke-opacity="0.63" stroke-linecap="round"/>
<line x1="394.82" y1="304.25" x2="394.82" y2="310.62" stroke="#5d9e3a" stroke-width="1.6" stroke-opacity="0.63" stroke-linecap="round"/>
<line x1="382.5" y1="306.96" x2="382.5" y2="316.26" stroke="#8cc665" stroke-width="1.6" stroke-opacity="0.63" stroke-linecap="round"/>
<line x1="377.79" y1="302.22" x2="377.79" y2="309.4" stroke="#5d9e3a" stroke-width="1.6" stroke-opacity="0.63" stroke-linecap="round"/>
<line x1="399.08" y1="307.05" x2="399.08" y2="316.6" stroke="#75ae46" stroke-width="1.6" stroke-opacity="0.63" stroke-linecap="round"/>
<line x1="392.83" y1="298.8" x2="392.83" y2="308.07" stroke="#4b8e2c" stroke-width="1.6" stroke-opacity="0.63" stroke-linecap="round"/>
<line x1="388.66" y1="294.02" x2="388.66" y2="300.75" stroke="#6aa840" stroke-width="1.6" stroke-opacity="0.63" stroke-linecap="round"/>
<line x1="390.64" y1="291.78" x2="390.64" y2="300.06" stroke="#6aa840" stroke-width="1.6" stroke-opacity="0.63" stroke-linecap="round"/>
<line x1="393" y1="290.94" x2="393" y2="298.58" stroke="#3d7d25" stroke-width="1.6" stroke-opacity="0.63" stroke-linecap="round"/>
<line x1="382.12" y1="303.42" x2="382.12" y2="309.44" stroke="#5d9e3a" stroke-width="1.6" stroke-opacity="0.63" stroke-linecap="round"/>
<line x1="385.12" y1="292.74" x2="385.12" y2="298.8" stroke="#3d7d25" stroke-width="1.6" stroke-opacity="0.63" stroke-linecap="round"/>
<line x1="378.49" y1="298.86" x2="378.49" y2="307.07" stroke="#5d9e3a" stroke-width="1.6" stroke-opacity="0.63" stroke-linecap="round"/>
<line x1="400.75" y1="306.09" x2="400.75" y2="314.15" stroke="#4b8e2c" stroke-width="1.6" stroke-opacity="0.63" stroke-linecap="round"/>
<line x1="390.96" y1="298.16" x2="390.96" y2="304.64" stroke="#4b8e2c" stroke-width="1.6" stroke-opacity="0.63" stroke-linecap="round"/>
<line x1="389.11" y1="300.11" x2="389.11" y2="306.23" stroke="#3d7d25" stroke-width="1.6" stroke-opacity="0.63" stroke-linecap="round"/>
<line x1="377.63" y1="298.76" x2="377.63" y2="308.05" stroke="#8cc665" stroke-width="1.6" stroke-opacity="0.63" stroke-linecap="round"/>
<line x1="386.21" y1="304.11" x2="386.21" y2="312.71" stroke="#6aa840" stroke-width="1.6" stroke-opacity="0.63" stroke-linecap="round"/>
<line x1="397.43" y1="295.38" x2="397.43" y2="304.24" stroke="#5d9e3a" stroke-width="1.6" stroke-opacity="0.63" stroke-linecap="round"/>
<line x1="381.09" y1="290.33" x2="381.09" y2="298.85" stroke="#8cc665" stroke-width="1.6" stroke-opacity="0.63" stroke-linecap="round"/>
<line x1="374.08" y1="293.2" x2="374.08" y2="301.7" stroke="#3d7d25" stroke-width="1.6" stroke-opacity="0.63" stroke-linecap="round"/>
<line x1="373.8" y1="305.86" x2="373.8" y2="314.2" stroke="#3d7d25" stroke-width="1.6" stroke-opacity="0.63" stroke-linecap="round"/>
<line x1="386.51" y1="301.66" x2="386.51" y2="308.66" stroke="#3d7d25" stroke-width="1.6" stroke-opacity="0.63" stroke-linecap="round"/>
<line x1="377.26" y1="301.22" x2="377.26" y2="307.91" stroke="#3d7d25" stroke-width="1.6" stroke-opacity="0.63" stroke-linecap="round"/>
<line x1="401.66" y1="305.08" x2="401.66" y2="312.29" stroke="#8cc665" stroke-width="1.6" stroke-opacity="0.63" stroke-linecap="round"/>
<line x1="380.31" y1="305" x2="380.31" y2="314.92" stroke="#3d7d25" stroke-width="1.6" stroke-opacity="0.63" stroke-linecap="round"/>
<line x1="380.02" y1="296.58" x2="380.02" y2="305.45" stroke="#4b8e2c" stroke-width="1.6" stroke-opacity="0.63" stroke-linecap="round"/>
<line x1="385.65" y1="296.75" x2="385.65" y2="305.6" stroke="#3d7d25" stroke-width="1.6" stroke-opacity="0.63" stroke-linecap="round"/>
<line x1="398.16" y1="295.03" x2="398.16" y2="301.73" stroke="#5d9e3a" stroke-width="1.6" stroke-opacity="0.63" stroke-linecap="round"/>
<line x1="384.51" y1="289.37" x2="384.51" y2="298.9" stroke="#75ae46" stroke-width="1.6" stroke-opacity="0.63" stroke-linecap="round"/>
<line x1="390.53" y1="292" x2="390.53" y2="300.14" stroke="#75ae46" stroke-width="1.6" stroke-opacity="0.63" stroke-linecap="round"/>
<line x1="383.08" y1="300.8" x2="383.08" y2="310.65" stroke="#75ae46" stroke-width="1.6" stroke-opacity="0.63" stroke-linecap="round"/>
<line x1="400.95" y1="336.68" x2="400.95" y2="342.66" stroke="#ff3030" stroke-width="1.6" stroke-opacity="0.63" stroke-linecap="round"/>
<line x1="390.54" y1="336.17" x2="390.54" y2="342.92" stroke="#f04040" stroke-width="1.6" stroke-opacity="0.63" stroke-linecap="round"/>
<line x1="396.26" y1="336.68" x2="396.26" y2="342.3" stroke="#f06070" stroke-width="1.6" stroke-opacity="0.63" stroke-linecap="round"/>
<line x1="380.77" y1="333.14" x2="380.77" y2="340.32" stroke="#ff3030" stroke-width="1.6" stroke-opacity="0.63" stroke-linecap="round"/>
<line x1="393.09" y1="337.78" x2="393.09" y2="345.96" stroke="#ff3030" stroke-width="1.6" stroke-opacity="0.63" stroke-linecap="round"/>
<line x1="381.62" y1="335.76" x2="381.62" y2="343.65" stroke="#e82020" stroke-width="1.6" stroke-opacity="0.63" stroke-linecap="round"/>
<line x1="395.25" y1="340.94" x2="395.25" y2="347.13" stroke="#e82020" stroke-width="1.6" stroke-opacity="0.63" stroke-linecap="round"/>
<line x1="391.64" y1="333.91" x2="391.64" y2="340.72" stroke="#ff3030" stroke-width="1.6" stroke-opacity="0.63" stroke-linecap="round"/>
<line x1="404.32" y1="348.27" x2="404.32" y2="355.65" stroke="#e82020" stroke-width="1.6" stroke-opacity="0.63" stroke-linecap="round"/>
<line x1="394.04" y1="337" x2="394.04" y2="342.98" stroke="#f08080" stroke-width="1.6" stroke-opacity="0.63" stroke-linecap="round"/>
<line x1="391.8" y1="331.38" x2="391.8" y2="339.39" stroke="#f06070" stroke-width="1.6" stroke-opacity="0.63" stroke-linecap="round"/>
<line x1="391.88" y1="340.27" x2="391.88" y2="346.35" stroke="#e82020" stroke-width="1.6" stroke-opacity="0.63" stroke-linecap="round"/>
<line x1="377.83" y1="343.86" x2="377.83" y2="349.44" stroke="#ff1a1a" stroke-width="1.6" stroke-opacity="0.63" stroke-linecap="round"/>
<line x1="388.31" y1="331.78" x2="388.31" y2="337.49" stroke="#ff3030" stroke-width="1.6" stroke-opacity="0.63" stroke-linecap="round"/>
<line x1="386.31" y1="342.87" x2="386.31" y2="348.31" stroke="#f08080" stroke-width="1.6" stroke-opacity="0.63" stroke-linecap="round"/>
<line x1="403.5" y1="344.28" x2="403.5" y2="352.32" stroke="#ff3030" stroke-width="1.6" stroke-opacity="0.63" stroke-linecap="round"/>
<line x1="378.91" y1="335.96" x2="378.91" y2="341.87" stroke="#ff3030" stroke-width="1.6" stroke-opacity="0.63" stroke-linecap="round"/>
<line x1="400.69" y1="337.37" x2="400.69" y2="343.79" stroke="#e82020" stroke-width="1.6" stroke-opacity="0.63" stroke-linecap="round"/>
<line x1="399.47" y1="345.55" x2="399.47" y2="353.99" stroke="#ff3030" stroke-width="1.6" stroke-opacity="0.63" stroke-linecap="round"/>
<line x1="404.17" y1="333.12" x2="404.17" y2="339.58" stroke="#f06070" stroke-width="1.6" stroke-opacity="0.63" stroke-linecap="round"/>
<line x1="397.04" y1="347.49" x2="397.04" y2="352.59" stroke="#f06070" stroke-width="1.6" stroke-opacity="0.63" stroke-linecap="round"/>
<line x1="397.28" y1="333.53" x2="397.28" y2="341.91" stroke="#f04040" stroke-width="1.6" stroke-opacity="0.63" stroke-linecap="round"/>
<line x1="403.28" y1="331.77" x2="403.28" y2="337.94" stroke="#f04040" stroke-width="1.6" stroke-opacity="0.63" stroke-linecap="round"/>
<line x1="403.47" y1="343.02" x2="403.47" y2="350.87" stroke="#ff1a1a" stroke-width="1.6" stroke-opacity="0.63" stroke-linecap="round"/>
<line x1="388.74" y1="341.2" x2="388.74" y2="347.92" stroke="#f04040" stroke-width="1.6" stroke-opacity="0.63" stroke-linecap="round"/>
<line x1="381.53" y1="343.42" x2="381.53" y2="350.63" stroke="#f06070" stroke-width="1.6" stroke-opacity="0.63" stroke-linecap="round"/>
<line x1="395.51" y1="332.23" x2="395.51" y2="340.59" stroke="#f08080" stroke-width="1.6" stroke-opacity="0.63" stroke-linecap="round"/>
<line x1="391.44" y1="338.54" x2="391.44" y2="347.25" stroke="#f06070" stroke-width="1.6" stroke-opacity="0.63" stroke-linecap="round"/>
<line x1="396.85" y1="337.13" x2="396.85" y2="342.13" stroke="#f06070" stroke-width="1.6" stroke-opacity="0.63" stroke-linecap="round"/>
<line x1="385.3" y1="329.61" x2="385.3" y2="338.02" stroke="#f08080" stroke-width="1.6" stroke-opacity="0.63" stroke-linecap="round"/>
<line x1="397.18" y1="347.65" x2="397.18" y2="355.37" stroke="#ff1a1a" stroke-width="1.6" stroke-opacity="0.63" stroke-linecap="round"/>
<line x1="399.95" y1="332.66" x2="399.95" y2="341.32" stroke="#f06070" stroke-width="1.6" stroke-opacity="0.63" stroke-linecap="round"/>
<line x1="403.5" y1="336.94" x2="403.5" y2="344.92" stroke="#f06070" stroke-width="1.6" stroke-opacity="0.63" stroke-linecap="round"/>
<line x1="394.84" y1="333.64" x2="394.84" y2="340.75" stroke="#f04040" stroke-width="1.6" stroke-opacity="0.63" stroke-linecap="round"/>
<line x1="404.44" y1="336.7" x2="404.44" y2="345.42" stroke="#f06070" stroke-width="1.6" stroke-opacity="0.63" stroke-linecap="round"/>
<line x1="391.59" y1="341.9" x2="391.59" y2="350.26" stroke="#f06070" stroke-width="1.6" stroke-opacity="0.63" stroke-linecap="round"/>
<line x1="390.13" y1="330.14" x2="390.13" y2="337.93" stroke="#e82020" stroke-width="1.6" stroke-opacity="0.63" stroke-linecap="round"/>
<line x1="396.52" y1="345.03" x2="396.52" y2="353.14" stroke="#e82020" stroke-width="1.6" stroke-opacity="0.63" stroke-linecap="round"/>
<line x1="399.1" y1="329.92" x2="399.1" y2="337.74" stroke="#f08080" stroke-width="1.6" stroke-opacity="0.63" stroke-linecap="round"/>
<line x1="384.57" y1="338.94" x2="384.57" y2="347.82" stroke="#f06070" stroke-width="1.6" stroke-opacity="0.63" stroke-linecap="round"/>
<line x1="383.84" y1="333.52" x2="383.84" y2="342.37" stroke="#ff3030" stroke-width="1.6" stroke-opacity="0.63" stroke-linecap="round"/>
<line x1="387.38" y1="337.92" x2="387.38" y2="343.72" stroke="#f04040" stroke-width="1.6" stroke-opacity="0.63" stroke-linecap="round"/>
<line x1="380.98" y1="342.57" x2="380.98" y2="349.51" stroke="#e82020" stroke-width="1.6" stroke-opacity="0.63" stroke-linecap="round"/>
<line x1="383.9" y1="334.06" x2="383.9" y2="341.12" stroke="#e82020" stroke-width="1.6" stroke-opacity="0.63" stroke-linecap="round"/>
<line x1="380.86" y1="341.28" x2="380.86" y2="349.07" stroke="#ff3030" stroke-width="1.6" stroke-opacity="0.63" stroke-linecap="round"/>
<line x1="402.66" y1="332.07" x2="402.66" y2="339.32" stroke="#f04040" stroke-width="1.6" stroke-opacity="0.63" stroke-linecap="round"/>
<line x1="395.25" y1="331.89" x2="395.25" y2="338.59" stroke="#ff3030" stroke-width="1.6" stroke-opacity="0.63" stroke-linecap="round"/>
<line x1="396.63" y1="331.48" x2="396.63" y2="340.4" stroke="#e82020" stroke-width="1.6" stroke-opacity="0.63" stroke-linecap="round"/>
<line x1="401.1" y1="332.1" x2="401.1" y2="338.25" stroke="#f04040" stroke-width="1.6" stroke-opacity="0.63" stroke-linecap="round"/>
<line x1="391.11" y1="329.53" x2="391.11" y2="338.12" stroke="#f04040" stroke-width="1.6" stroke-opacity="0.63" stroke-linecap="round"/>
<line x1="382.72" y1="342.93" x2="382.72" y2="349.73" stroke="#ff1a1a" stroke-width="1.6" stroke-opacity="0.63" stroke-linecap="round"/>
<line x1="381.68" y1="337.82" x2="381.68" y2="345.09" stroke="#f04040" stroke-width="1.6" stroke-opacity="0.63" stroke-linecap="round"/>
<line x1="381.87" y1="331.84" x2="381.87" y2="336.89" stroke="#e82020" stroke-width="1.6" stroke-opacity="0.63" stroke-linecap="round"/>
<line x1="379.44" y1="342.17" x2="379.44" y2="351.09" stroke="#f08080" stroke-width="1.6" stroke-opacity="0.63" stroke-linecap="round"/>
<line x1="384.67" y1="340.84" x2="384.67" y2="349.67" stroke="#e82020" stroke-width="1.6" stroke-opacity="0.63" stroke-linecap="round"/>
<line x1="382.5" y1="340.8" x2="382.5" y2="345.83" stroke="#ff1a1a" stroke-width="1.6" stroke-opacity="0.63" stroke-linecap="round"/>
<line x1="395.69" y1="340.56" x2="395.69" y2="349.3" stroke="#f06070" stroke-width="1.6" stroke-opacity="0.63" stroke-linecap="round"/>
<line x1="397.28" y1="342.75" x2="397.28" y2="348.06" stroke="#f06070" stroke-width="1.6" stroke-opacity="0.63" stroke-linecap="round"/>
<line x1="377.8" y1="343.54" x2="377.8" y2="351.89" stroke="#f04040" stroke-width="1.6" stroke-opacity="0.63" stroke-linecap="round"/>
<line x1="387.67" y1="347.73" x2="387.67" y2="354.83" stroke="#f06070" stroke-width="1.6" stroke-opacity="0.63" stroke-linecap="round"/>
<line x1="381.89" y1="343.75" x2="381.89" y2="352.07" stroke="#f06070" stroke-width="1.6" stroke-opacity="0.63" stroke-linecap="round"/>
<line x1="394.89" y1="336.41" x2="394.89" y2="344" stroke="#f04040" stroke-width="1.6" stroke-opacity="0.63" stroke-linecap="round"/>
<line x1="386.28" y1="336.4" x2="386.28" y2="343.6" stroke="#f04040" stroke-width="1.6" stroke-opacity="0.63" stroke-linecap="round"/>
<line x1="416.54" y1="352.19" x2="416.54" y2="358.43" stroke="#ff1a1a" stroke-width="1.6" stroke-opacity="0.6649999999999999" stroke-linecap="round"/>
<line x1="404.08" y1="357.04" x2="404.08" y2="366.32" stroke="#e82020" stroke-width="1.6" stroke-opacity="0.6649999999999999" stroke-linecap="round"/>
<line x1="419.64" y1="355.85" x2="419.64" y2="363.82" stroke="#e82020" stroke-width="1.6" stroke-opacity="0.6649999999999999" stroke-linecap="round"/>
<line x1="411.61" y1="359.62" x2="411.61" y2="368.03" stroke="#ff1a1a" stroke-width="1.6" stroke-opacity="0.6649999999999999" stroke-linecap="round"/>
<line x1="384.53" y1="351.59" x2="384.53" y2="358.14" stroke="#e82020" stroke-width="1.6" stroke-opacity="0.6649999999999999" stroke-linecap="round"/>
<line x1="382.12" y1="347.8" x2="382.12" y2="355.56" stroke="#ff3030" stroke-width="1.6" stroke-opacity="0.6649999999999999" stroke-linecap="round"/>
<line x1="388.04" y1="354.27" x2="388.04" y2="360.4" stroke="#e82020" stroke-width="1.6" stroke-opacity="0.6649999999999999" stroke-linecap="round"/>
<line x1="384.59" y1="349.11" x2="384.59" y2="355.33" stroke="#e82020" stroke-width="1.6" stroke-opacity="0.6649999999999999" stroke-linecap="round"/>
<line x1="418.97" y1="349.05" x2="418.97" y2="355.08" stroke="#ff3030" stroke-width="1.6" stroke-opacity="0.6649999999999999" stroke-linecap="round"/>
<line x1="419.58" y1="350.2" x2="419.58" y2="357.39" stroke="#e82020" stroke-width="1.6" stroke-opacity="0.6649999999999999" stroke-linecap="round"/>
<line x1="414.99" y1="357.99" x2="414.99" y2="366.26" stroke="#e82020" stroke-width="1.6" stroke-opacity="0.6649999999999999" stroke-linecap="round"/>
<line x1="381.91" y1="352.58" x2="381.91" y2="360.42" stroke="#ff3030" stroke-width="1.6" stroke-opacity="0.6649999999999999" stroke-linecap="round"/>
<line x1="422.82" y1="353.68" x2="422.82" y2="362.16" stroke="#ff1a1a" stroke-width="1.6" stroke-opacity="0.6649999999999999" stroke-linecap="round"/>
<line x1="411.25" y1="352.32" x2="411.25" y2="360.95" stroke="#e82020" stroke-width="1.6" stroke-opacity="0.6649999999999999" stroke-linecap="round"/>
<line x1="421.83" y1="354.09" x2="421.83" y2="362.68" stroke="#f04040" stroke-width="1.6" stroke-opacity="0.6649999999999999" stroke-linecap="round"/>
<line x1="417.8" y1="355.75" x2="417.8" y2="364.28" stroke="#ff3030" stroke-width="1.6" stroke-opacity="0.6649999999999999" stroke-linecap="round"/>
<line x1="388.23" y1="359.19" x2="388.23" y2="367.96" stroke="#ff3030" stroke-width="1.6" stroke-opacity="0.6649999999999999" stroke-linecap="round"/>
<line x1="408.38" y1="353.16" x2="408.38" y2="361.49" stroke="#e82020" stroke-width="1.6" stroke-opacity="0.6649999999999999" stroke-linecap="round"/>
<line x1="394.56" y1="351.2" x2="394.56" y2="358.97" stroke="#f04040" stroke-width="1.6" stroke-opacity="0.6649999999999999" stroke-linecap="round"/>
<line x1="383.26" y1="349.29" x2="383.26" y2="358.85" stroke="#ff1a1a" stroke-width="1.6" stroke-opacity="0.6649999999999999" stroke-linecap="round"/>
<line x1="388.18" y1="360.94" x2="388.18" y2="369.53" stroke="#ff3030" stroke-width="1.6" stroke-opacity="0.6649999999999999" stroke-linecap="round"/>
<line x1="402.42" y1="351.3" x2="402.42" y2="359.25" stroke="#e82020" stroke-width="1.6" stroke-opacity="0.6649999999999999" stroke-linecap="round"/>
<line x1="388.42" y1="357.51" x2="388.42" y2="363.96" stroke="#ff1a1a" stroke-width="1.6" stroke-opacity="0.6649999999999999" stroke-linecap="round"/>
<line x1="417.17" y1="355.92" x2="417.17" y2="365.12" stroke="#ff3030" stroke-width="1.6" stroke-opacity="0.6649999999999999" stroke-linecap="round"/>
<line x1="417.72" y1="355.93" x2="417.72" y2="364.79" stroke="#ff1a1a" stroke-width="1.6" stroke-opacity="0.6649999999999999" stroke-linecap="round"/>
<line x1="406.82" y1="362.49" x2="406.82" y2="370.55" stroke="#e82020" stroke-width="1.6" stroke-opacity="0.6649999999999999" stroke-linecap="round"/>
<line x1="416.19" y1="354.32" x2="416.19" y2="361.01" stroke="#ff3030" stroke-width="1.6" stroke-opacity="0.6649999999999999" stroke-linecap="round"/>
<line x1="403.9" y1="360.9" x2="403.9" y2="367.45" stroke="#ff1a1a" stroke-width="1.6" stroke-opacity="0.6649999999999999" stroke-linecap="round"/>
<line x1="396.6" y1="348.72" x2="396.6" y2="354.89" stroke="#ff3030" stroke-width="1.6" stroke-opacity="0.6649999999999999" stroke-linecap="round"/>
<line x1="399.15" y1="349.78" x2="399.15" y2="356.32" stroke="#ff1a1a" stroke-width="1.6" stroke-opacity="0.6649999999999999" stroke-linecap="round"/>
<line x1="406.57" y1="361.7" x2="406.57" y2="369.95" stroke="#f04040" stroke-width="1.6" stroke-opacity="0.6649999999999999" stroke-linecap="round"/>
<line x1="385.73" y1="359.99" x2="385.73" y2="367.36" stroke="#ff1a1a" stroke-width="1.6" stroke-opacity="0.6649999999999999" stroke-linecap="round"/>
<line x1="415.98" y1="349.34" x2="415.98" y2="356.83" stroke="#f04040" stroke-width="1.6" stroke-opacity="0.6649999999999999" stroke-linecap="round"/>
<line x1="411.2" y1="347.53" x2="411.2" y2="355.95" stroke="#ff1a1a" stroke-width="1.6" stroke-opacity="0.6649999999999999" stroke-linecap="round"/>
<line x1="394.36" y1="352.36" x2="394.36" y2="360.77" stroke="#ff1a1a" stroke-width="1.6" stroke-opacity="0.6649999999999999" stroke-linecap="round"/>
<line x1="420.57" y1="356.32" x2="420.57" y2="363.34" stroke="#ff3030" stroke-width="1.6" stroke-opacity="0.6649999999999999" stroke-linecap="round"/>
<line x1="409.92" y1="346.38" x2="409.92" y2="356.34" stroke="#e82020" stroke-width="1.6" stroke-opacity="0.6649999999999999" stroke-linecap="round"/>
<line x1="383.22" y1="348.14" x2="383.22" y2="354.58" stroke="#f04040" stroke-width="1.6" stroke-opacity="0.6649999999999999" stroke-linecap="round"/>
<line x1="386.52" y1="356.84" x2="386.52" y2="364" stroke="#e82020" stroke-width="1.6" stroke-opacity="0.6649999999999999" stroke-linecap="round"/>
<line x1="416.47" y1="357.5" x2="416.47" y2="364.5" stroke="#f04040" stroke-width="1.6" stroke-opacity="0.6649999999999999" stroke-linecap="round"/>
<line x1="421.64" y1="347.55" x2="421.64" y2="354.92" stroke="#ff3030" stroke-width="1.6" stroke-opacity="0.6649999999999999" stroke-linecap="round"/>
<line x1="400.41" y1="356.16" x2="400.41" y2="362.29" stroke="#ff1a1a" stroke-width="1.6" stroke-opacity="0.6649999999999999" stroke-linecap="round"/>
<line x1="381.43" y1="357.26" x2="381.43" y2="365.84" stroke="#e82020" stroke-width="1.6" stroke-opacity="0.6649999999999999" stroke-linecap="round"/>
<line x1="416.78" y1="356.55" x2="416.78" y2="365.33" stroke="#e82020" stroke-width="1.6" stroke-opacity="0.6649999999999999" stroke-linecap="round"/>
<line x1="396.1" y1="361.62" x2="396.1" y2="370.06" stroke="#ff1a1a" stroke-width="1.6" stroke-opacity="0.6649999999999999" stroke-linecap="round"/>
<line x1="394.6" y1="356.36" x2="394.6" y2="363.6" stroke="#ff3030" stroke-width="1.6" stroke-opacity="0.6649999999999999" stroke-linecap="round"/>
<line x1="405.1" y1="348.4" x2="405.1" y2="355.08" stroke="#f04040" stroke-width="1.6" stroke-opacity="0.6649999999999999" stroke-linecap="round"/>
<line x1="411.45" y1="352.7" x2="411.45" y2="360.57" stroke="#f04040" stroke-width="1.6" stroke-opacity="0.6649999999999999" stroke-linecap="round"/>
<line x1="392.46" y1="352.74" x2="392.46" y2="360.67" stroke="#ff3030" stroke-width="1.6" stroke-opacity="0.6649999999999999" stroke-linecap="round"/>
<line x1="378.94" y1="353.84" x2="378.94" y2="363.78" stroke="#ff1a1a" stroke-width="1.6" stroke-opacity="0.6649999999999999" stroke-linecap="round"/>
<line x1="407.02" y1="360.07" x2="407.02" y2="366.65" stroke="#e82020" stroke-width="1.6" stroke-opacity="0.6649999999999999" stroke-linecap="round"/>
<line x1="390.57" y1="355.98" x2="390.57" y2="363.02" stroke="#ff3030" stroke-width="1.6" stroke-opacity="0.6649999999999999" stroke-linecap="round"/>
<line x1="423.64" y1="347.46" x2="423.64" y2="355.7" stroke="#ff1a1a" stroke-width="1.6" stroke-opacity="0.6649999999999999" stroke-linecap="round"/>
<line x1="418.13" y1="356.08" x2="418.13" y2="364.62" stroke="#ff1a1a" stroke-width="1.6" stroke-opacity="0.6649999999999999" stroke-linecap="round"/>
<line x1="394.69" y1="351.2" x2="394.69" y2="360.38" stroke="#ff3030" stroke-width="1.6" stroke-opacity="0.6649999999999999" stroke-linecap="round"/>
<line x1="409.34" y1="351.64" x2="409.34" y2="360.69" stroke="#f04040" stroke-width="1.6" stroke-opacity="0.6649999999999999" stroke-linecap="round"/>
<line x1="401.41" y1="358.1" x2="401.41" y2="365.5" stroke="#e82020" stroke-width="1.6" stroke-opacity="0.6649999999999999" stroke-linecap="round"/>
<line x1="393.38" y1="358.63" x2="393.38" y2="367.32" stroke="#e82020" stroke-width="1.6" stroke-opacity="0.6649999999999999" stroke-linecap="round"/>
<line x1="401.17" y1="361.58" x2="401.17" y2="370.82" stroke="#f04040" stroke-width="1.6" stroke-opacity="0.6649999999999999" stroke-linecap="round"/>
<line x1="384.94" y1="349.71" x2="384.94" y2="359.27" stroke="#e82020" stroke-width="1.6" stroke-opacity="0.6649999999999999" stroke-linecap="round"/>
<line x1="396.63" y1="353.19" x2="396.63" y2="362.28" stroke="#ff3030" stroke-width="1.6" stroke-opacity="0.6649999999999999" stroke-linecap="round"/>
<line x1="404.99" y1="349.01" x2="404.99" y2="357.88" stroke="#f04040" stroke-width="1.6" stroke-opacity="0.6649999999999999" stroke-linecap="round"/>
<line x1="411.43" y1="355.5" x2="411.43" y2="365.25" stroke="#f04040" stroke-width="1.6" stroke-opacity="0.6649999999999999" stroke-linecap="round"/>
<line x1="381.38" y1="349.38" x2="381.38" y2="359.08" stroke="#ff3030" stroke-width="1.6" stroke-opacity="0.6649999999999999" stroke-linecap="round"/>
<line x1="391.99" y1="353.07" x2="391.99" y2="360.95" stroke="#e82020" stroke-width="1.6" stroke-opacity="0.6649999999999999" stroke-linecap="round"/>
<line x1="411.18" y1="358.91" x2="411.18" y2="368.26" stroke="#f04040" stroke-width="1.6" stroke-opacity="0.6649999999999999" stroke-linecap="round"/>
<line x1="419.36" y1="352.17" x2="419.36" y2="359.2" stroke="#ff1a1a" stroke-width="1.6" stroke-opacity="0.6649999999999999" stroke-linecap="round"/>
<line x1="412.89" y1="358.18" x2="412.89" y2="365.12" stroke="#ff1a1a" stroke-width="1.6" stroke-opacity="0.6649999999999999" stroke-linecap="round"/>
<line x1="388.04" y1="354.39" x2="388.04" y2="361.19" stroke="#f04040" stroke-width="1.6" stroke-opacity="0.6649999999999999" stroke-linecap="round"/>
<line x1="417.75" y1="358.03" x2="417.75" y2="364.82" stroke="#ff1a1a" stroke-width="1.6" stroke-opacity="0.6649999999999999" stroke-linecap="round"/>
<line x1="422.3" y1="356.11" x2="422.3" y2="362.43" stroke="#f04040" stroke-width="1.6" stroke-opacity="0.6649999999999999" stroke-linecap="round"/>
<line x1="411.07" y1="347.54" x2="411.07" y2="354.63" stroke="#ff1a1a" stroke-width="1.6" stroke-opacity="0.6649999999999999" stroke-linecap="round"/>
<line x1="407.44" y1="363.26" x2="407.44" y2="370.11" stroke="#f04040" stroke-width="1.6" stroke-opacity="0.6649999999999999" stroke-linecap="round"/>
<line x1="361.02" y1="337.84" x2="361.02" y2="344.78" stroke="#f04040" stroke-width="1.6" stroke-opacity="0.6649999999999999" stroke-linecap="round"/>
<line x1="352.22" y1="346.84" x2="352.22" y2="355.02" stroke="#ff1a1a" stroke-width="1.6" stroke-opacity="0.6649999999999999" stroke-linecap="round"/>
<line x1="357.95" y1="341.36" x2="357.95" y2="348.34" stroke="#e82020" stroke-width="1.6" stroke-opacity="0.6649999999999999" stroke-linecap="round"/>
<line x1="353.26" y1="343.8" x2="353.26" y2="348.86" stroke="#f04040" stroke-width="1.6" stroke-opacity="0.6649999999999999" stroke-linecap="round"/>
<line x1="357.16" y1="349.74" x2="357.16" y2="354.97" stroke="#f04040" stroke-width="1.6" stroke-opacity="0.6649999999999999" stroke-linecap="round"/>
<line x1="351.99" y1="338.29" x2="351.99" y2="344.13" stroke="#ff1a1a" stroke-width="1.6" stroke-opacity="0.6649999999999999" stroke-linecap="round"/>
<line x1="354.54" y1="341.97" x2="354.54" y2="348.35" stroke="#ff3030" stroke-width="1.6" stroke-opacity="0.6649999999999999" stroke-linecap="round"/>
<line x1="358.35" y1="344.76" x2="358.35" y2="351.08" stroke="#f04040" stroke-width="1.6" stroke-opacity="0.6649999999999999" stroke-linecap="round"/>
<line x1="360.33" y1="343.93" x2="360.33" y2="349.06" stroke="#f04040" stroke-width="1.6" stroke-opacity="0.6649999999999999" stroke-linecap="round"/>
<line x1="358.28" y1="343.41" x2="358.28" y2="351.23" stroke="#f04040" stroke-width="1.6" stroke-opacity="0.6649999999999999" stroke-linecap="round"/>
<line x1="354.59" y1="344.04" x2="354.59" y2="350.14" stroke="#f04040" stroke-width="1.6" stroke-opacity="0.6649999999999999" stroke-linecap="round"/>
<line x1="350.11" y1="342.66" x2="350.11" y2="350.28" stroke="#f04040" stroke-width="1.6" stroke-opacity="0.6649999999999999" stroke-linecap="round"/>
<line x1="427.2" y1="337.12" x2="427.2" y2="344.72" stroke="#f06060" stroke-width="1.6" stroke-opacity="0.63" stroke-linecap="round"/>
<line x1="433.5" y1="337.63" x2="433.5" y2="344.12" stroke="#e85050" stroke-width="1.6" stroke-opacity="0.63" stroke-linecap="round"/>
<line x1="430.01" y1="336.74" x2="430.01" y2="343.47" stroke="#e85050" stroke-width="1.6" stroke-opacity="0.63" stroke-linecap="round"/>
<line x1="428.92" y1="332.29" x2="428.92" y2="339" stroke="#e85050" stroke-width="1.6" stroke-opacity="0.63" stroke-linecap="round"/>
<line x1="432.85" y1="338.51" x2="432.85" y2="346.63" stroke="#f5a0a0" stroke-width="1.6" stroke-opacity="0.63" stroke-linecap="round"/>
<line x1="432.22" y1="331.7" x2="432.22" y2="341.63" stroke="#f5a0a0" stroke-width="1.6" stroke-opacity="0.63" stroke-linecap="round"/>
<line x1="427.71" y1="339.23" x2="427.71" y2="348.84" stroke="#f5a0a0" stroke-width="1.6" stroke-opacity="0.63" stroke-linecap="round"/>
<circle cx="384.8" cy="300.5" r="1.45" fill="#1a8cc4" stroke="none" stroke-width="1"/>
<circle cx="397" cy="300" r="1.45" fill="#1a8cc4" stroke="none" stroke-width="1"/>
<circle cx="379.5" cy="305.5" r="1.45" fill="#1a8cc4" stroke="none" stroke-width="1"/>
<circle cx="385" cy="311" r="1.45" fill="#1a8cc4" stroke="none" stroke-width="1"/>
<circle cx="389" cy="313.5" r="1.45" fill="#1a8cc4" stroke="none" stroke-width="1"/>
<circle cx="402.5" cy="317" r="1.45" fill="#1a8cc4" stroke="none" stroke-width="1"/>
<circle cx="380" cy="320" r="1.45" fill="#1a8cc4" stroke="none" stroke-width="1"/>
<circle cx="395" cy="320" r="1.45" fill="#1a8cc4" stroke="none" stroke-width="1"/>
<circle cx="384.8" cy="340" r="1.45" fill="#1a8cc4" stroke="none" stroke-width="1"/>
<circle cx="392" cy="342" r="1.45" fill="#1a8cc4" stroke="none" stroke-width="1"/>
<circle cx="380" cy="346" r="1.45" fill="#1a8cc4" stroke="none" stroke-width="1"/>
<circle cx="396" cy="346.5" r="1.45" fill="#1a8cc4" stroke="none" stroke-width="1"/>
<circle cx="357.7" cy="347.5" r="1.45" fill="#1a8cc4" stroke="none" stroke-width="1"/>
<circle cx="395" cy="352" r="1.45" fill="#1a8cc4" stroke="none" stroke-width="1"/>
<circle cx="407" cy="358.5" r="1.45" fill="#1a8cc4" stroke="none" stroke-width="1"/>
<circle cx="389.5" cy="364" r="1.45" fill="#1a8cc4" stroke="none" stroke-width="1"/>
<circle cx="397.5" cy="366.5" r="1.45" fill="#1a8cc4" stroke="none" stroke-width="1"/>
<circle cx="421" cy="365" r="1.45" fill="#1a8cc4" stroke="none" stroke-width="1"/>
<circle cx="431" cy="339" r="1.45" fill="#1a8cc4" stroke="none" stroke-width="1"/>
<circle cx="412" cy="358" r="1.45" fill="#1a8cc4" stroke="none" stroke-width="1"/>
<polyline points="338.7,305 384.8,281.7 439.7,304.6" stroke="#222" stroke-width="0.9" fill="none"/>
<line x1="338.7" y1="305" x2="338.7" y2="358.8" stroke="#222" stroke-width="0.9"/>
<line x1="439.7" y1="304.6" x2="439.7" y2="355.3" stroke="#222" stroke-width="0.9"/>
<polyline points="338.7,358.8 393,379.8 439.7,355.3" stroke="#222" stroke-width="0.9" fill="none"/>
<line x1="384.8" y1="281.7" x2="384.8" y2="299.7" stroke="#222" stroke-width="0.9"/>
<line x1="338.7" y1="358.8" x2="340" y2="358.2" stroke="#222" stroke-width="0.5"/>
<text x="336.5" y="360.8" font-size="5.6" text-anchor="end" fill="#262626">0</text>
<line x1="338.7" y1="331.9" x2="340" y2="331.3" stroke="#222" stroke-width="0.5"/>
<text x="336.5" y="333.9" font-size="5.6" text-anchor="end" fill="#262626">50</text>
<line x1="338.7" y1="305" x2="340" y2="304.4" stroke="#222" stroke-width="0.5"/>
<text x="336.5" y="307" font-size="5.6" text-anchor="end" fill="#262626">100</text>
<line x1="352.27" y1="364.05" x2="353.47" y2="363.45" stroke="#222" stroke-width="0.5"/>
<line x1="384.86" y1="376.65" x2="386.06" y2="376.05" stroke="#222" stroke-width="0.5"/>
<text x="349.2" y="374" font-size="5.6" text-anchor="middle" fill="#262626">100</text>
<text x="385.6" y="388.2" font-size="5.6" text-anchor="middle" fill="#262626">200</text>
<text x="403.6" y="387.2" font-size="5.6" text-anchor="middle" fill="#262626">150</text>
<text x="423.4" y="375" font-size="5.6" text-anchor="middle" fill="#262626">100</text>
<text x="445.8" y="363.4" font-size="5.6" text-anchor="middle" fill="#262626">50</text>
<text x="386.3" y="279.2" font-size="6.5" text-anchor="middle" fill="#1c1c1c">Pulse-20th</text>
<polygon points="338.7,332.6 384.8,308.6 439.7,328.4 393,353" stroke="#111" stroke-width="0.9" fill="none" stroke-dasharray="4,2.2"/>
<polyline points="439.7,329.4 465.6,329.4 465.6,261 499,261" stroke="#111" stroke-width="1" fill="none" stroke-dasharray="3,2"/>
<polygon points="497,259.6 500.4,261 497,262.4" stroke="none" stroke-width="1" fill="#111"/>
<text x="482" y="220.4" font-size="10.5" text-anchor="start" fill="#111">c</text>
<rect x="513.3" y="208.8" width="136.2" height="27.9" fill="#fff" stroke="#333" stroke-width="0.6"/>
<circle cx="521.8" cy="213.9" r="0.9" fill="#aaa" stroke="none" stroke-width="1"/>
<text x="528.7" y="216.3" font-size="7.3" text-anchor="start" fill="#1c1c1c">Accuracy point</text>
<line x1="518" y1="223.1" x2="525" y2="223.1" stroke="#111" stroke-width="1.4"/>
<text x="528.7" y="225.5" font-size="7.3" text-anchor="start" fill="#1c1c1c">Fitting curve</text>
<circle cx="521.8" cy="232" r="0.9" fill="#ff5050" stroke="none" stroke-width="1"/>
<text x="528.7" y="234.4" font-size="7.3" text-anchor="start" fill="#1c1c1c">Optimal point</text>
<line x1="580.4" y1="213.9" x2="593" y2="213.9" stroke="#111" stroke-width="1.1" stroke-dasharray="4.2,4.2"/>
<text x="594.8" y="216.3" font-size="7.3" text-anchor="start" fill="#1c1c1c">Threshold line</text>
<rect x="581.4" y="220.4" width="12" height="5.8" fill="#a8f0a8" stroke="#222" stroke-width="0.6"/>
<text x="594.8" y="225.5" font-size="7.3" text-anchor="start" fill="#1c1c1c">Healthy group</text>
<rect x="581.4" y="229.2" width="12" height="5.8" fill="#f4a8a8" stroke="#222" stroke-width="0.6"/>
<text x="594.8" y="234.4" font-size="7.3" text-anchor="start" fill="#1c1c1c">Abnormal group</text>
<rect x="538.69" y="365.4" width="7.08" height="6.1" fill="#b0f8b0" stroke="#222" stroke-width="0.7"/>
<rect x="581.03" y="353.2" width="16.26" height="18.3" fill="#b0f8b0" stroke="#222" stroke-width="0.7"/>
<rect x="597.29" y="353.2" width="15.78" height="18.3" fill="#b0f8b0" stroke="#222" stroke-width="0.7"/>
<rect x="613.07" y="341" width="16.58" height="30.5" fill="#b0f8b0" stroke="#222" stroke-width="0.7"/>
<rect x="629.66" y="359.3" width="15.78" height="12.2" fill="#b0f8b0" stroke="#222" stroke-width="0.7"/>
<rect x="645.43" y="359.3" width="16.42" height="12.2" fill="#b0f8b0" stroke="#222" stroke-width="0.7"/>
<rect x="501.5" y="280" width="6.76" height="91.5" fill="#ffb3b3" stroke="#222" stroke-width="0.7"/>
<rect x="508.26" y="353.2" width="7.89" height="18.3" fill="#ffb3b3" stroke="#222" stroke-width="0.7"/>
<rect x="516.15" y="359.3" width="7.25" height="12.2" fill="#ffb3b3" stroke="#222" stroke-width="0.7"/>
<rect x="523.4" y="353.2" width="7.57" height="18.3" fill="#ffb3b3" stroke="#222" stroke-width="0.7"/>
<rect x="545.77" y="365.4" width="7.73" height="6.1" fill="#ffb3b3" stroke="#222" stroke-width="0.7"/>
<rect x="576.2" y="365.4" width="5.15" height="6.1" fill="#ffb3b3" stroke="#222" stroke-width="0.7"/>
<rect x="516.15" y="365.4" width="7.25" height="6.1" fill="#cfb07c" stroke="#3a2a1a" stroke-width="0.7"/>
<rect x="523.4" y="365.4" width="7.57" height="6.1" fill="#cfb07c" stroke="#3a2a1a" stroke-width="0.7"/>
<rect x="531.61" y="365.4" width="7.08" height="6.1" fill="#cfb07c" stroke="#3a2a1a" stroke-width="0.7"/>
<rect x="545.77" y="365.4" width="2.09" height="6.1" fill="#cfb07c" stroke="#3a2a1a" stroke-width="0.7"/>
<rect x="581.36" y="365.4" width="9.66" height="6.1" fill="#cfb07c" stroke="#3a2a1a" stroke-width="0.7"/>
<rect x="598.42" y="365.4" width="7.57" height="6.1" fill="#cfb07c" stroke="#3a2a1a" stroke-width="0.7"/>
<rect x="628.53" y="365.4" width="7.08" height="6.1" fill="#cfb07c" stroke="#3a2a1a" stroke-width="0.7"/>
<rect x="643.02" y="365.4" width="7.08" height="6.1" fill="#cfb07c" stroke="#3a2a1a" stroke-width="0.7"/>
<circle cx="507.3" cy="316.3" r="1.7" fill="#acacac" stroke="none" stroke-width="1"/>
<circle cx="511.32" cy="309.59" r="1.7" fill="#acacac" stroke="none" stroke-width="1"/>
<circle cx="515.02" cy="296.77" r="1.7" fill="#acacac" stroke="none" stroke-width="1"/>
<circle cx="518.08" cy="290.37" r="1.7" fill="#acacac" stroke="none" stroke-width="1"/>
<circle cx="521.3" cy="290.37" r="1.7" fill="#acacac" stroke="none" stroke-width="1"/>
<circle cx="524.36" cy="290.37" r="1.7" fill="#acacac" stroke="none" stroke-width="1"/>
<circle cx="528.07" cy="283.96" r="1.7" fill="#acacac" stroke="none" stroke-width="1"/>
<circle cx="531.45" cy="271.15" r="1.7" fill="#acacac" stroke="none" stroke-width="1"/>
<circle cx="534.5" cy="271.15" r="1.7" fill="#acacac" stroke="none" stroke-width="1"/>
<circle cx="537.73" cy="264.45" r="1.7" fill="#acacac" stroke="none" stroke-width="1"/>
<circle cx="541.11" cy="271.15" r="1.7" fill="#acacac" stroke="none" stroke-width="1"/>
<circle cx="544.33" cy="271.15" r="1.7" fill="#acacac" stroke="none" stroke-width="1"/>
<circle cx="547.71" cy="264.45" r="1.7" fill="#acacac" stroke="none" stroke-width="1"/>
<circle cx="550.93" cy="264.45" r="1.7" fill="#acacac" stroke="none" stroke-width="1"/>
<circle cx="553.99" cy="264.45" r="1.7" fill="#acacac" stroke="none" stroke-width="1"/>
<circle cx="557.21" cy="264.45" r="1.7" fill="#acacac" stroke="none" stroke-width="1"/>
<circle cx="560.26" cy="264.45" r="1.7" fill="#acacac" stroke="none" stroke-width="1"/>
<circle cx="563.49" cy="264.45" r="1.7" fill="#acacac" stroke="none" stroke-width="1"/>
<circle cx="566.71" cy="264.45" r="1.7" fill="#acacac" stroke="none" stroke-width="1"/>
<circle cx="569.76" cy="264.45" r="1.7" fill="#acacac" stroke="none" stroke-width="1"/>
<circle cx="572.98" cy="264.45" r="1.7" fill="#acacac" stroke="none" stroke-width="1"/>
<circle cx="576.04" cy="264.45" r="1.7" fill="#acacac" stroke="none" stroke-width="1"/>
<circle cx="581.36" cy="258.04" r="1.7" fill="#acacac" stroke="none" stroke-width="1"/>
<circle cx="584.41" cy="258.04" r="1.7" fill="#acacac" stroke="none" stroke-width="1"/>
<circle cx="587.31" cy="264.45" r="1.7" fill="#acacac" stroke="none" stroke-width="1"/>
<circle cx="590.53" cy="264.45" r="1.7" fill="#acacac" stroke="none" stroke-width="1"/>
<circle cx="593.91" cy="264.45" r="1.7" fill="#acacac" stroke="none" stroke-width="1"/>
<circle cx="597.13" cy="270.85" r="1.7" fill="#acacac" stroke="none" stroke-width="1"/>
<circle cx="600.51" cy="283.96" r="1.7" fill="#acacac" stroke="none" stroke-width="1"/>
<circle cx="603.74" cy="283.96" r="1.7" fill="#acacac" stroke="none" stroke-width="1"/>
<circle cx="606.96" cy="277.56" r="1.7" fill="#acacac" stroke="none" stroke-width="1"/>
<circle cx="610.34" cy="283.96" r="1.7" fill="#acacac" stroke="none" stroke-width="1"/>
<circle cx="613.56" cy="283.96" r="1.7" fill="#acacac" stroke="none" stroke-width="1"/>
<circle cx="616.94" cy="283.96" r="1.7" fill="#acacac" stroke="none" stroke-width="1"/>
<circle cx="620.16" cy="290.68" r="1.7" fill="#acacac" stroke="none" stroke-width="1"/>
<circle cx="623.54" cy="297.08" r="1.7" fill="#acacac" stroke="none" stroke-width="1"/>
<circle cx="627.08" cy="316.3" r="1.7" fill="#acacac" stroke="none" stroke-width="1"/>
<circle cx="629.98" cy="316.3" r="1.7" fill="#acacac" stroke="none" stroke-width="1"/>
<circle cx="633.2" cy="309.59" r="1.7" fill="#acacac" stroke="none" stroke-width="1"/>
<circle cx="639.96" cy="316.3" r="1.7" fill="#acacac" stroke="none" stroke-width="1"/>
<circle cx="643.18" cy="323" r="1.7" fill="#acacac" stroke="none" stroke-width="1"/>
<circle cx="647.04" cy="323" r="1.7" fill="#acacac" stroke="none" stroke-width="1"/>
<circle cx="649.78" cy="316.3" r="1.7" fill="#acacac" stroke="none" stroke-width="1"/>
<circle cx="653.16" cy="323" r="1.7" fill="#acacac" stroke="none" stroke-width="1"/>
<circle cx="656.54" cy="329.11" r="1.7" fill="#acacac" stroke="none" stroke-width="1"/>
<circle cx="659.76" cy="329.11" r="1.7" fill="#acacac" stroke="none" stroke-width="1"/>
<polyline points="501.5,326.97 502.31,325.83 503.11,324.68 503.92,323.54 504.72,322.4 505.52,321.25 506.33,320.11 507.13,318.96 507.94,317.82 508.75,316.7 509.55,315.65 510.36,314.6 511.16,313.56 511.96,312.51 512.77,311.46 513.58,310.42 514.38,309.37 515.18,308.32 515.99,307.28 516.79,306.23 517.6,305.14 518.4,304.05 519.21,302.96 520.01,301.87 520.82,300.8 521.62,299.74 522.43,298.67 523.24,297.61 524.04,296.54 524.85,295.48 525.65,294.41 526.46,293.34 527.26,292.28 528.07,291.21 528.87,290.15 529.67,289.08 530.48,288.02 531.28,286.95 532.09,285.94 532.89,285.15 533.7,284.36 534.5,283.57 535.31,282.78 536.12,281.98 536.92,281.19 537.73,280.4 538.53,279.61 539.34,278.82 540.14,278.03 540.95,277.24 541.75,276.44 542.55,275.65 543.36,274.86 544.16,274.07 544.97,273.37 545.77,272.8 546.58,272.23 547.38,271.67 548.19,271.1 549,270.53 549.8,269.97 550.61,269.4 551.41,268.83 552.22,268.27 553.02,267.7 553.83,267.13 554.63,266.56 555.43,266 556.24,265.43 557.04,264.86 557.85,264.58 558.65,264.36 559.46,264.15 560.26,263.93 561.07,263.72 561.88,263.5 562.68,263.29 563.49,263.07 564.29,262.86 565.1,262.64 565.9,262.43 566.71,262.21 567.51,262 568.32,261.78 569.12,261.57 569.92,261.38 570.73,261.32 571.53,261.27 572.34,261.21 573.14,261.15 573.95,261.09 574.75,261.03 575.56,260.97 576.37,260.95 577.17,260.97 577.98,260.99 578.78,261.02 579.59,261.04 580.39,261.06 581.19,261.09 582,261.3 582.81,261.57 583.61,261.84 584.41,262.11 585.22,262.37 586.02,262.64 586.83,262.91 587.63,263.18 588.44,263.44 589.25,263.71 590.05,263.98 590.86,264.34 591.66,264.85 592.47,265.36 593.27,265.87 594.08,266.38 594.88,266.88 595.68,267.39 596.49,267.9 597.29,268.41 598.1,268.92 598.9,269.43 599.71,269.94 600.51,270.44 601.32,270.95 602.12,271.46 602.93,271.97 603.74,272.6 604.54,273.25 605.35,273.91 606.15,274.57 606.96,275.22 607.76,275.88 608.57,276.54 609.37,277.19 610.17,277.85 610.98,278.51 611.78,279.16 612.59,279.82 613.39,280.48 614.2,281.28 615,282.12 615.81,282.96 616.62,283.8 617.42,284.64 618.23,285.48 619.03,286.32 619.84,287.16 620.64,288 621.44,288.85 622.25,289.83 623.06,290.82 623.86,291.81 624.66,292.8 625.47,293.79 626.27,294.78 627.08,295.77 627.88,296.76 628.69,297.75 629.5,298.74 630.3,299.73 631.11,300.72 631.91,301.69 632.72,302.67 633.52,303.64 634.33,304.62 635.13,305.6 635.93,306.57 636.74,307.55 637.54,308.52 638.35,309.5 639.15,310.71 639.96,312.09 640.76,313.46 641.57,314.83 642.38,316.2 643.18,317.58 643.99,318.95 644.79,320.32 645.6,321.63 646.4,322.89 647.21,324.16 648.01,325.42 648.82,326.69 649.62,327.95 650.42,329.22 651.23,330.48 652.03,331.74 652.84,332.99 653.64,334.23 654.45,335.48 655.25,336.73 656.06,337.98 656.87,339.23 657.67,340.47 658.48,341.72 659.28,343.02 660.09,344.34 660.89,345.67 661.69,346.99 662.5,348.32" stroke="#111" stroke-width="1.5" fill="none" stroke-dasharray="5.2,3.2"/>
<line x1="501.5" y1="260.94" x2="576.04" y2="260.94" stroke="#111" stroke-width="1" stroke-dasharray="3.2,2"/>
<line x1="576.04" y1="260.94" x2="576.04" y2="371.5" stroke="#111" stroke-width="1" stroke-dasharray="3.2,2"/>
<circle cx="576.04" cy="260.94" r="1.6" fill="#ff4a4a" stroke="none" stroke-width="1"/>
<rect x="501.5" y="249.5" width="161" height="122" fill="none" stroke="#222" stroke-width="1"/>
<line x1="501.5" y1="341" x2="503" y2="341" stroke="#222" stroke-width="0.6"/>
<line x1="501.5" y1="310.5" x2="503" y2="310.5" stroke="#222" stroke-width="0.6"/>
<line x1="501.5" y1="280" x2="503" y2="280" stroke="#222" stroke-width="0.6"/>
<line x1="662.5" y1="341" x2="661" y2="341" stroke="#222" stroke-width="0.6"/>
<line x1="662.5" y1="310.5" x2="661" y2="310.5" stroke="#222" stroke-width="0.6"/>
<line x1="662.5" y1="280" x2="661" y2="280" stroke="#222" stroke-width="0.6"/>
<line x1="533.7" y1="371.5" x2="533.7" y2="370" stroke="#222" stroke-width="0.6"/>
<line x1="533.7" y1="249.5" x2="533.7" y2="251" stroke="#222" stroke-width="0.6"/>
<line x1="565.9" y1="371.5" x2="565.9" y2="370" stroke="#222" stroke-width="0.6"/>
<line x1="565.9" y1="249.5" x2="565.9" y2="251" stroke="#222" stroke-width="0.6"/>
<line x1="598.1" y1="371.5" x2="598.1" y2="370" stroke="#222" stroke-width="0.6"/>
<line x1="598.1" y1="249.5" x2="598.1" y2="251" stroke="#222" stroke-width="0.6"/>
<line x1="630.3" y1="371.5" x2="630.3" y2="370" stroke="#222" stroke-width="0.6"/>
<line x1="630.3" y1="249.5" x2="630.3" y2="251" stroke="#222" stroke-width="0.6"/>
<text x="498.9" y="374.5" font-size="7.8" text-anchor="end" fill="#262626">50</text>
<text x="498.9" y="344" font-size="7.8" text-anchor="end" fill="#262626">60</text>
<text x="498.9" y="313.5" font-size="7.8" text-anchor="end" fill="#262626">70</text>
<text x="498.9" y="283" font-size="7.8" text-anchor="end" fill="#262626">80</text>
<text x="498.9" y="252.5" font-size="7.8" text-anchor="end" fill="#262626">90</text>
<text x="665.3" y="374.5" font-size="7.8" text-anchor="start" fill="#262626">0</text>
<text x="665.3" y="344" font-size="7.8" text-anchor="start" fill="#262626">5</text>
<text x="665.3" y="313.5" font-size="7.8" text-anchor="start" fill="#262626">10</text>
<text x="665.3" y="283" font-size="7.8" text-anchor="start" fill="#262626">15</text>
<text x="665.3" y="252.5" font-size="7.8" text-anchor="start" fill="#262626">20</text>
<text x="501.5" y="382.7" font-size="7.8" text-anchor="middle" fill="#262626">0</text>
<text x="533.7" y="382.7" font-size="7.8" text-anchor="middle" fill="#262626">20</text>
<text x="565.9" y="382.7" font-size="7.8" text-anchor="middle" fill="#262626">40</text>
<text x="598.1" y="382.7" font-size="7.8" text-anchor="middle" fill="#262626">60</text>
<text x="630.3" y="382.7" font-size="7.8" text-anchor="middle" fill="#262626">80</text>
<text x="662.5" y="382.7" font-size="7.8" text-anchor="middle" fill="#262626">100</text>
<text x="581.5" y="394.6" font-size="8.7" text-anchor="middle" fill="#262626">Conductance (arb. units)</text>
<text x="486.4" y="311" font-size="8.7" text-anchor="middle" fill="#262626" transform="rotate(-90 486.4 311)">Accuracy (%)</text>
<text x="685.2" y="310.8" font-size="8.9" text-anchor="middle" fill="#1c1c1c" transform="rotate(-90 685.2 310.8)">Counts</text>
<text x="10" y="417" font-size="11" text-anchor="start" fill="#111">d</text>
<g transform="matrix(1 0.15 0 1 30.8 436.4)">
<g clip-path="url(#hc1)">
<rect x="0" y="0" width="74.3" height="87" fill="#25a4ec" stroke="none" stroke-width="1"/>
<g filter="url(#hb)">
<ellipse cx="33.6" cy="47" rx="10.12" ry="4.5" fill="#3a78f4" fill-opacity="1"/>
<ellipse cx="33.6" cy="47" rx="7.5" ry="3.15" fill="#4444e6" fill-opacity="1"/>
<ellipse cx="33.6" cy="47" rx="4.5" ry="1.8" fill="#35229e" fill-opacity="1"/>
<ellipse cx="36.6" cy="32.7" rx="6.75" ry="4.5" fill="#3a78f4" fill-opacity="1"/>
<ellipse cx="36.6" cy="32.7" rx="5" ry="3.15" fill="#4444e6" fill-opacity="0.75"/>
<ellipse cx="36.5" cy="10" rx="5.4" ry="3.75" fill="#3a78f4" fill-opacity="0.56"/>
<ellipse cx="49.4" cy="66.4" rx="5.4" ry="3.75" fill="#3a78f4" fill-opacity="0.96"/>
<ellipse cx="49.4" cy="66.4" rx="4" ry="2.62" fill="#4444e6" fill-opacity="0.6"/>
<ellipse cx="59.9" cy="50.8" rx="6.08" ry="4.5" fill="#3a78f4" fill-opacity="0.56"/>
<ellipse cx="69.2" cy="32.4" rx="6.75" ry="4.5" fill="#3a78f4" fill-opacity="0.48"/>
<ellipse cx="6.2" cy="82.3" rx="5.4" ry="4.5" fill="#3a78f4" fill-opacity="0.48"/>
<ellipse cx="4.2" cy="20.5" rx="5.4" ry="4.5" fill="#3a78f4" fill-opacity="0.56"/>
<ellipse cx="61.5" cy="26" rx="5.4" ry="4.5" fill="#3a78f4" fill-opacity="0.48"/>
<ellipse cx="22" cy="86" rx="6.75" ry="4.5" fill="#3a78f4" fill-opacity="0.4"/>
</g>
<g filter="url(#hb2)">
<ellipse cx="29.6" cy="60" rx="21" ry="9" fill="#30bfae" fill-opacity="1"/>
<ellipse cx="29.6" cy="60.2" rx="17" ry="6.8" fill="#8ccc6c" fill-opacity="1"/>
<ellipse cx="29.6" cy="60.3" rx="14" ry="5.3" fill="#f4c43c" fill-opacity="1"/>
<ellipse cx="27" cy="60" rx="9" ry="3.7" fill="#fde226" fill-opacity="1"/>
<ellipse cx="35" cy="60.8" rx="6.5" ry="3.2" fill="#fee41c" fill-opacity="1"/>
</g>
</g>
<rect x="9.7" y="54.5" width="37.4" height="16.7" fill="none" stroke="#f2ee30" stroke-width="1"/>
</g>
<g transform="matrix(1 0.15 0 1 107.4 437.6)">
<g clip-path="url(#hc2)">
<rect x="0" y="0" width="72.7" height="87.9" fill="#25a4ec" stroke="none" stroke-width="1"/>
<g filter="url(#hb)">
<ellipse cx="32.5" cy="46.2" rx="10.12" ry="4.5" fill="#3a78f4" fill-opacity="1"/>
<ellipse cx="32.5" cy="46.2" rx="7.5" ry="3.15" fill="#4444e6" fill-opacity="1"/>
<ellipse cx="32.5" cy="46.2" rx="4.5" ry="1.8" fill="#35229e" fill-opacity="1"/>
<ellipse cx="34.6" cy="30" rx="6.75" ry="4.5" fill="#3a78f4" fill-opacity="1"/>
<ellipse cx="34.6" cy="30" rx="5" ry="3.15" fill="#4444e6" fill-opacity="0.75"/>
<ellipse cx="59.6" cy="27.5" rx="6.08" ry="4.5" fill="#3a78f4" fill-opacity="0.56"/>
<ellipse cx="3.1" cy="21" rx="5.4" ry="4.5" fill="#3a78f4" fill-opacity="0.56"/>
<ellipse cx="36" cy="8" rx="5.4" ry="3.75" fill="#3a78f4" fill-opacity="0.48"/>
<ellipse cx="52" cy="70.5" rx="4.73" ry="3.75" fill="#3a78f4" fill-opacity="0.56"/>
<ellipse cx="62" cy="48" rx="5.4" ry="4.5" fill="#3a78f4" fill-opacity="0.48"/>
<ellipse cx="20" cy="84" rx="6.75" ry="4.5" fill="#3a78f4" fill-opacity="0.4"/>
</g>
<g filter="url(#hb2)">
<ellipse cx="33" cy="60" rx="22" ry="9" fill="#30bfae" fill-opacity="1"/>
<ellipse cx="30.5" cy="59.8" rx="17" ry="6.6" fill="#8ccc6c" fill-opacity="1"/>
<ellipse cx="30" cy="59.5" rx="13.5" ry="5" fill="#f4c43c" fill-opacity="1"/>
<ellipse cx="27.5" cy="59" rx="8.5" ry="3.4" fill="#fde226" fill-opacity="1"/>
<ellipse cx="34" cy="60" rx="6" ry="3" fill="#fee41c" fill-opacity="1"/>
<ellipse cx="47.5" cy="64.8" rx="7.5" ry="4" fill="#5cc888" fill-opacity="1"/>
<ellipse cx="47" cy="64.5" rx="5" ry="2.6" fill="#c8d448" fill-opacity="1"/>
</g>
</g>
<rect x="7.6" y="56.5" width="37.5" height="17.1" fill="none" stroke="#f2ee30" stroke-width="1"/>
</g>
<text x="0" y="0" font-size="7.5" fill="#111" text-anchor="start" transform="translate(49 434.8) skewY(8.6)">Reference</text>
<text x="0" y="0" font-size="7.5" fill="#111" text-anchor="start" transform="translate(110.5 435.6) skewY(8.6)">Device-based result</text>
<text x="28.8" y="449.3" font-size="5.6" text-anchor="end" fill="#262626">200</text>
<text x="28.8" y="476.5" font-size="5.6" text-anchor="end" fill="#262626">150</text>
<text x="28.8" y="503.3" font-size="5.6" text-anchor="end" fill="#262626">100</text>
<text x="15.2" y="477" font-size="7.2" font-style="italic" fill="#333" text-anchor="middle" transform="rotate(-90 15.2 477)">Systolic blood pressure (mmHg)</text>
<text x="0" y="0" font-size="5.7" fill="#262626" text-anchor="middle" transform="translate(39.3 533.09) skewY(8.6)">60</text>
<text x="0" y="0" font-size="5.7" fill="#262626" text-anchor="middle" transform="translate(57.3 535.83) skewY(8.6)">80</text>
<text x="0" y="0" font-size="5.7" fill="#262626" text-anchor="middle" transform="translate(75.3 538.56) skewY(8.6)">100</text>
<text x="0" y="0" font-size="5.7" fill="#262626" text-anchor="middle" transform="translate(94.3 541.45) skewY(8.6)">120</text>
<text x="0" y="0" font-size="5.7" fill="#262626" text-anchor="middle" transform="translate(115.9 534.29) skewY(8.6)">60</text>
<text x="0" y="0" font-size="5.7" fill="#262626" text-anchor="middle" transform="translate(133.9 537.03) skewY(8.6)">80</text>
<text x="0" y="0" font-size="5.7" fill="#262626" text-anchor="middle" transform="translate(151.9 539.76) skewY(8.6)">100</text>
<text x="0" y="0" font-size="5.7" fill="#262626" text-anchor="middle" transform="translate(170.9 542.65) skewY(8.6)">120</text>
<text x="0" y="0" font-size="6.8" fill="#262626" text-anchor="start" transform="translate(38 540.8) skewY(8.6)">Heart rate (BPM)</text>
<text x="0" y="0" font-size="6.8" fill="#262626" text-anchor="start" transform="translate(114.5 542.1) skewY(8.6)">Heart rate (BPM)</text>
<rect x="192.4" y="443.4" width="6.3" height="96" fill="url(#parula)" stroke="#222" stroke-width="0.5"/>
<line x1="197.2" y1="461.7" x2="198.7" y2="461.7" stroke="#222" stroke-width="0.5"/>
<text x="199.6" y="463.9" font-size="6.3" text-anchor="start" fill="#262626">6</text>
<line x1="197.2" y1="483.4" x2="198.7" y2="483.4" stroke="#222" stroke-width="0.5"/>
<text x="199.6" y="485.6" font-size="6.3" text-anchor="start" fill="#262626">5</text>
<line x1="197.2" y1="504.6" x2="198.7" y2="504.6" stroke="#222" stroke-width="0.5"/>
<text x="199.6" y="506.8" font-size="6.3" text-anchor="start" fill="#262626">4</text>
<line x1="197.2" y1="525.4" x2="198.7" y2="525.4" stroke="#222" stroke-width="0.5"/>
<text x="199.6" y="527.6" font-size="6.3" text-anchor="start" fill="#262626">3</text>
<text x="189.6" y="491.3" font-size="6.4" text-anchor="middle" fill="#1c1c1c" transform="rotate(-90 189.6 491.3)">Normalized density</text>
<text x="222.6" y="430.5" font-size="11" text-anchor="start" fill="#111">e</text>
<polygon points="263.19,465.1 264.28,465.43 265.36,466 266.44,466.92 267.52,467.85 268.61,468.77 269.69,469.53 270.77,470.17 271.86,470.81 272.94,471.46 274.02,472.1 275.1,472.75 276.19,473.42 277.27,474.36 278.35,475.29 279.43,476.22 280.51,477.15 281.6,478.08 282.68,479.02 283.76,479.87 284.84,480.67 285.93,481.47 287.01,482.27 288.09,483.07 289.18,483.87 290.26,484.64 291.34,485.29 292.42,485.95 293.5,486.6 294.59,487.25 295.67,487.9 296.75,488.55 297.83,489.02 298.92,489.44 300,489.86 301.08,490.29 302.17,490.71 303.25,491.13 304.33,491.55 305.41,491.97 306.5,492.39 307.58,492.81 308.66,493.24 309.74,493.66 310.82,494.08 311.91,494.51 312.99,494.94 314.07,495.38 315.16,495.81 316.24,496.25 317.32,496.68 318.4,497.12 319.49,497.55 320.57,497.99 321.65,498.42 322.73,498.85 323.81,499.29 324.9,499.72 325.98,500.08 327.06,500.41 328.14,500.74 329.23,501.07 330.31,501.4 331.39,501.73 332.48,501.96 333.56,502.02 334.64,502.09 335.72,502.15 336.81,502.21 337.89,502.28 338.97,502.34 340.05,502.4 341.13,502.47 342.22,502.53 343.3,502.59 343.3,523.53 342.22,523.4 341.13,523.27 340.05,523.15 338.97,523.02 337.89,522.9 336.81,522.77 335.72,522.64 334.64,522.52 333.56,522.39 332.48,522.26 331.39,522.14 330.31,522.01 329.23,521.88 328.14,521.76 327.06,521.63 325.98,521.51 324.9,521.37 323.81,521.21 322.73,521.05 321.65,520.89 320.57,520.73 319.49,520.57 318.4,520.41 317.32,520.25 316.24,520.09 315.16,519.93 314.07,519.77 312.99,519.61 311.91,519.45 310.82,519.27 309.74,519.06 308.66,518.85 307.58,518.64 306.5,518.43 305.41,518.22 304.33,518.01 303.25,517.8 302.17,517.59 301.08,517.37 300,517.16 298.92,516.95 297.83,516.74 296.75,516.51 295.67,516.18 294.59,515.84 293.5,515.51 292.42,515.18 291.34,514.85 290.26,514.52 289.18,514.01 288.09,513.46 287.01,512.91 285.93,512.36 284.84,511.82 283.76,511.27 282.68,510.6 281.6,509.74 280.51,508.89 279.43,508.04 278.35,507.18 277.27,506.33 276.19,505.48 275.1,504.43 274.02,503.36 272.94,502.28 271.86,501.21 270.77,500.14 269.69,499.06 268.61,497.98 267.52,496.88 266.44,495.78 265.36,494.69 264.28,494.18 263.19,494.07" stroke="none" stroke-width="1" fill="#e9c2ca" fill-opacity="0.9"/>
<polygon points="264.28,474.52 265.36,473.96 266.44,473.76 267.52,473.55 268.61,473.34 269.69,473.14 270.77,472.93 271.86,472.72 272.94,472.52 274.02,472.31 275.1,472.1 276.19,471.94 277.27,472.05 278.35,472.16 279.43,472.27 280.51,472.38 281.6,472.5 282.68,472.61 283.76,472.62 284.84,472.56 285.93,472.5 287.01,472.45 288.09,472.39 289.18,472.33 290.26,472.28 291.34,472.22 292.42,472.16 293.5,472.1 294.59,472.05 295.67,471.99 296.75,471.93 297.83,471.88 298.92,471.83 300,471.78 301.08,471.73 302.17,471.68 303.25,471.63 304.33,471.58 305.41,471.53 306.5,471.48 307.58,471.43 308.66,471.38 309.74,471.33 310.82,471.28 311.91,471.23 312.99,471.18 314.07,471.13 315.16,471.08 316.24,471.03 317.32,470.97 318.4,470.92 319.49,470.87 320.57,470.82 321.65,470.77 322.73,470.72 323.81,470.67 324.9,470.61 325.98,470.6 327.06,470.6 328.14,470.6 329.23,470.6 330.31,470.6 331.39,470.6 332.48,470.6 333.56,470.6 334.64,470.6 335.72,470.94 336.81,471.28 337.89,471.62 338.97,471.96 340.05,472.3 341.13,472.64 342.22,472.97 343.3,473.31 343.3,490.73 342.22,490.92 341.13,491.1 340.05,491.28 338.97,491.47 337.89,491.19 336.81,490.92 335.72,490.64 334.64,490.37 333.56,490.09 332.48,489.82 331.39,489.54 330.31,489.27 329.23,489 328.14,488.72 327.06,488.45 325.98,488.17 324.9,487.93 323.81,487.82 322.73,487.71 321.65,487.6 320.57,487.5 319.49,487.39 318.4,487.28 317.32,487.17 316.24,487.06 315.16,486.95 314.07,486.84 312.99,486.74 311.91,486.63 310.82,486.52 309.74,486.41 308.66,486.31 307.58,486.2 306.5,486.1 305.41,485.99 304.33,485.89 303.25,485.78 302.17,485.68 301.08,485.57 300,485.47 298.92,485.36 297.83,485.26 296.75,485.13 295.67,484.91 294.59,484.69 293.5,484.48 292.42,484.26 291.34,484.04 290.26,483.82 289.18,483.61 288.09,483.39 287.01,483.17 285.93,482.95 284.84,482.74 283.76,482.52 282.68,482.26 281.6,481.93 280.51,481.61 279.43,481.28 278.35,480.96 277.27,480.63 276.19,480.31 275.1,480.15 274.02,480.01 272.94,479.88 271.86,479.74 270.77,479.61 269.69,479.47 268.61,479.34 267.52,479.2 266.44,479.07 265.36,478.93 264.28,478.77" stroke="none" stroke-width="1" fill="#d3e8bd" fill-opacity="0.75"/>
<polyline points="256.7,526.24 261.03,526.24 263.71,476.46 269.04,476.09 274.45,475.14 280.08,476.83 283.11,475.8 296.97,477.92 311.26,478.66 325.11,478.66 330.74,478.22 335.07,479.61 338.97,481 343.3,482.39" stroke="#6aab2a" stroke-width="1.8" fill="none" stroke-linejoin="round"/>
<polyline points="256.7,527.7 261.03,527.7 263.71,476.46 269.04,484.51 276.06,491.47 283.11,497.03 290.04,501.2 296.97,504.72 303.9,507.5 311.26,509.55 318.19,511.67 325.11,513.06 332.04,513.79 336.81,514.74 339.84,513.06 343.3,511.67" stroke="#a3152f" stroke-width="1.8" fill="none" stroke-linejoin="round"/>
<rect x="256.7" y="454.5" width="86.6" height="73.2" fill="none" stroke="#222" stroke-width="1"/>
<line x1="256.7" y1="491.1" x2="258.2" y2="491.1" stroke="#222" stroke-width="0.6"/>
<line x1="343.3" y1="491.1" x2="341.8" y2="491.1" stroke="#222" stroke-width="0.6"/>
<line x1="300" y1="527.7" x2="300" y2="526.2" stroke="#222" stroke-width="0.6"/>
<line x1="300" y1="454.5" x2="300" y2="456" stroke="#222" stroke-width="0.6"/>
<text x="254.1" y="530.9" font-size="7.7" text-anchor="end" fill="#262626">0</text>
<text x="254.1" y="494.3" font-size="7.7" text-anchor="end" fill="#262626">50</text>
<text x="254.1" y="457.7" font-size="7.7" text-anchor="end" fill="#262626">100</text>
<text x="256.7" y="538.1" font-size="7.9" text-anchor="middle" fill="#262626">0</text>
<text x="300" y="538.1" font-size="7.9" text-anchor="middle" fill="#262626">10</text>
<text x="343.3" y="538.1" font-size="7.9" text-anchor="middle" fill="#262626">20</text>
<text x="301" y="550.2" font-size="9.1" text-anchor="middle" fill="#262626">Pulse number #</text>
<text x="236.9" y="490.6" font-size="8.9" text-anchor="middle" fill="#262626" transform="rotate(-90 236.9 490.6)">Conductance (arb. units)</text>
<text x="299.2" y="448.1" font-size="8.4" text-anchor="middle" fill="#111">Elderly</text>
<text x="306" y="437.8" font-size="7.5" text-anchor="end" fill="#111">Normal group</text>
<rect x="311" y="431.6" width="13.7" height="6.8" fill="#dfe6cc" stroke="#9ac070" stroke-width="0.8" rx="0.8"/>
<rect x="328.1" y="431.6" width="13.9" height="6.8" fill="#daf5ca" stroke="#82dd62" stroke-width="0.8" rx="0.8"/>
<text x="316.4" y="448.1" font-size="8.4" text-anchor="start" fill="#111">,</text>
<text x="318.1" y="470" font-size="6.6" text-anchor="middle" fill="#111">Normal</text>
<text x="309.7" y="517.5" font-size="6.6" text-anchor="middle" fill="#111">Abnormal</text>
<ellipse cx="336.6" cy="479.8" rx="5.2" ry="10.2" fill="none" stroke="#2a3a50" stroke-width="0.7" stroke-dasharray="2,1.3"/>
<ellipse cx="335.9" cy="514.4" rx="5.2" ry="10.8" fill="none" stroke="#2a3a50" stroke-width="0.7" stroke-dasharray="2,1.3"/>
<line x1="328.6" y1="470.9" x2="331.3" y2="472.7" stroke="#111" stroke-width="0.6"/>
<polygon points="332.8,473.7 330.75,473.53 331.86,471.87" stroke="none" stroke-width="1" fill="#111"/>
<line x1="325.8" y1="523.5" x2="329.24" y2="521.05" stroke="#111" stroke-width="0.6"/>
<polygon points="330.7,520 329.82,521.86 328.65,520.23" stroke="none" stroke-width="1" fill="#111"/>
<polygon points="395.35,480.56 396.4,480.52 397.46,480.47 398.52,480.43 399.57,480.39 400.63,480.35 401.69,480.31 402.75,480.27 403.81,480.23 404.86,480.46 405.92,480.69 406.98,480.92 408.04,481.15 409.09,481.38 410.15,481.61 411.21,481.84 412.26,482.07 413.32,482.16 414.38,482.25 415.44,482.34 416.5,482.44 417.55,482.53 418.61,482.62 419.67,482.71 420.73,482.8 421.78,485.17 422.84,487.53 423.9,489.67 424.95,491.67 426.01,493.67 427.07,494.55 428.13,495.16 429.19,495.77 430.24,496.38 431.3,496.98 432.36,497.59 433.42,498.2 434.47,498.81 435.53,499.42 436.59,500.15 437.65,500.97 438.7,501.8 439.76,502.62 440.82,503.44 441.88,504.26 442.93,505.09 443.99,505.6 445.05,506.04 446.11,506.48 447.16,506.91 448.22,507.35 449.28,507.79 450.34,508.21 451.39,508.62 452.45,509.04 453.51,509.45 454.57,509.86 455.62,510.27 456.68,510.68 457.74,510.95 458.8,511.13 459.85,511.3 460.91,511.47 461.97,511.65 463.03,511.82 464.08,512 465.14,512.17 466.2,512.36 467.25,512.55 468.31,512.75 469.37,512.94 470.43,513.13 471.49,513.33 472.54,513.52 473.6,513.72 473.6,522.11 472.54,522.02 471.49,521.93 470.43,521.84 469.37,521.75 468.31,521.66 467.25,521.57 466.2,521.48 465.14,521.39 464.08,521.3 463.03,521.21 461.97,521.12 460.91,521.03 459.85,520.94 458.8,520.85 457.74,520.76 456.68,520.67 455.62,520.56 454.57,520.45 453.51,520.35 452.45,520.24 451.39,520.14 450.34,520.03 449.28,519.92 448.22,519.82 447.16,519.71 446.11,519.61 445.05,519.5 443.99,519.39 442.93,519.28 441.88,519.15 440.82,519.02 439.76,518.9 438.7,518.77 437.65,518.64 436.59,518.51 435.53,518.38 434.47,518.25 433.42,518.12 432.36,517.99 431.3,517.8 430.24,517.53 429.19,517.27 428.13,517 427.07,516.73 426.01,516.31 424.95,515.31 423.9,514.32 422.84,513.39 421.78,512.57 420.73,511.75 419.67,510.92 418.61,510.1 417.55,509.31 416.5,508.61 415.44,507.91 414.38,507.21 413.32,505.95 412.26,502.46 411.21,498.96 410.15,496.66 409.09,494.66 408.04,492.67 406.98,490.67 405.92,488.67 404.86,486.66 403.81,484.57 402.75,482.49 401.69,482.07 400.63,482.07 399.57,482.07 398.52,482.07 397.46,482.07 396.4,482.07 395.35,482.07" stroke="none" stroke-width="1" fill="#ffc2c2" fill-opacity="0.9"/>
<polygon points="395.35,478.13 396.4,478.35 397.46,478.58 398.52,478.8 399.57,479.03 400.63,479.25 401.69,479.28 402.75,479.18 403.81,479.07 404.86,478.97 405.92,478.86 406.98,478.76 408.04,478.66 409.09,478.55 410.15,478.45 411.21,478.34 412.26,478.24 413.32,478.13 414.38,478.03 415.44,477.94 416.5,477.88 417.55,477.82 418.61,477.77 419.67,477.71 420.73,477.66 421.78,477.6 422.84,477.54 423.9,477.49 424.95,477.43 426.01,477.38 427.07,477.32 428.13,477.27 429.19,477.21 430.24,477.1 431.3,477 432.36,476.89 433.42,476.79 434.47,476.68 435.53,476.57 436.59,476.47 437.65,476.36 438.7,476.26 439.76,476.15 440.82,476.05 441.88,475.94 442.93,475.83 443.99,475.73 445.05,475.62 446.11,475.52 447.16,475.41 448.22,475.3 449.28,475.2 450.34,475.09 451.39,474.99 452.45,474.88 453.51,474.77 454.57,474.67 455.62,474.56 456.68,474.46 457.74,474.41 458.8,474.41 459.85,474.41 460.91,474.41 461.97,474.41 463.03,474.41 464.08,474.41 465.14,474.41 466.2,474.8 467.25,475.45 468.31,476.1 469.37,476.75 470.43,477.4 471.49,478.05 472.54,478.7 473.6,479.34 473.6,484.28 472.54,484.08 471.49,483.89 470.43,483.69 469.37,483.5 468.31,483.31 467.25,483.11 466.2,482.92 465.14,482.84 464.08,482.93 463.03,483.02 461.97,483.12 460.91,483.21 459.85,483.3 458.8,483.39 457.74,483.48 456.68,483.62 455.62,483.84 454.57,484.05 453.51,484.26 452.45,484.47 451.39,484.68 450.34,484.9 449.28,485.11 448.22,485.32 447.16,485.53 446.11,485.74 445.05,485.96 443.99,486.17 442.93,486.33 441.88,486.28 440.82,486.23 439.76,486.18 438.7,486.13 437.65,486.08 436.59,486.03 435.53,485.98 434.47,485.93 433.42,485.88 432.36,485.82 431.3,485.77 430.24,485.72 429.19,485.67 428.13,485.62 427.07,485.56 426.01,485.51 424.95,485.45 423.9,485.4 422.84,485.34 421.78,485.28 420.73,485.23 419.67,485.17 418.61,485.12 417.55,485.06 416.5,485.01 415.44,484.95 414.38,484.99 413.32,485.06 412.26,485.13 411.21,485.2 410.15,485.27 409.09,485.33 408.04,485.4 406.98,485.47 405.92,485.54 404.86,485.61 403.81,485.67 402.75,486.21 401.69,486.75 400.63,487.29 399.57,487.83 398.52,488.36 397.46,489.71 396.4,491.27 395.35,492.82" stroke="none" stroke-width="1" fill="#c6f0ad" fill-opacity="0.75"/>
<polyline points="389,527.7 393.23,527.7 394.75,492.67 396.83,485.75 399.57,482.8 403.81,481.85 415.23,480.74 429.19,480.01 443.14,479.34 457.1,478.61 465.56,478.39 469.79,479.34 473.6,482.8" stroke="#54c41c" stroke-width="1.8" fill="none" stroke-linejoin="round"/>
<polyline points="389,527.7 392.64,527.7 394.33,481.18 402.54,480.74 405.07,485.01 409.3,491.27 413.53,495.46 417.34,496.86 420.73,496.86 424.11,499.73 427.49,505.99 431.72,509.45 435.95,511.58 440.18,514.38 444.41,516.51 448.64,515.78 452.87,517.91 457.1,518.57 461.33,519.02 465.56,519.97 469.79,520.71 473.6,520.41" stroke="#ff1414" stroke-width="1.8" fill="none" stroke-linejoin="round"/>
<rect x="389" y="454.1" width="84.6" height="73.6" fill="none" stroke="#222" stroke-width="1"/>
<line x1="389" y1="490.9" x2="390.5" y2="490.9" stroke="#222" stroke-width="0.6"/>
<line x1="473.6" y1="490.9" x2="472.1" y2="490.9" stroke="#222" stroke-width="0.6"/>
<line x1="431.3" y1="527.7" x2="431.3" y2="526.2" stroke="#222" stroke-width="0.6"/>
<line x1="431.3" y1="454.1" x2="431.3" y2="455.6" stroke="#222" stroke-width="0.6"/>
<text x="386.4" y="530.9" font-size="7.7" text-anchor="end" fill="#262626">0</text>
<text x="386.4" y="494.1" font-size="7.7" text-anchor="end" fill="#262626">50</text>
<text x="386.4" y="457.3" font-size="7.7" text-anchor="end" fill="#262626">100</text>
<text x="389" y="538.1" font-size="7.9" text-anchor="middle" fill="#262626">0</text>
<text x="431.3" y="538.1" font-size="7.9" text-anchor="middle" fill="#262626">10</text>
<text x="473.6" y="538.1" font-size="7.9" text-anchor="middle" fill="#262626">20</text>
<text x="432.3" y="550.2" font-size="9.1" text-anchor="middle" fill="#262626">Pulse number #</text>
<text x="369.2" y="490.4" font-size="8.9" text-anchor="middle" fill="#262626" transform="rotate(-90 369.2 490.4)">Conductance (arb. units)</text>
<text x="431.3" y="448.1" font-size="8.4" text-anchor="middle" fill="#111">Young</text>
<text x="441.5" y="437.8" font-size="7.5" text-anchor="end" fill="#111">Abnormal group</text>
<rect x="442.4" y="431.6" width="14" height="6.8" fill="#e4c4cc" stroke="#b06e80" stroke-width="0.8" rx="0.8"/>
<rect x="460" y="431.6" width="13.5" height="6.8" fill="#ffc8c8" stroke="#f08a8a" stroke-width="0.8" rx="0.8"/>
<text x="448.4" y="471.6" font-size="6.6" text-anchor="middle" fill="#111">Normal</text>
<text x="436" y="526.3" font-size="6.6" text-anchor="middle" fill="#111">Abnormal</text>
<ellipse cx="468.3" cy="477.9" rx="3.5" ry="5.6" fill="none" stroke="#2a3a50" stroke-width="0.7" stroke-dasharray="2,1.3"/>
<ellipse cx="466.2" cy="520.0" rx="4.6" ry="5.6" fill="none" stroke="#2a3a50" stroke-width="0.7" stroke-dasharray="2,1.3"/>
<line x1="459.2" y1="471.6" x2="462.64" y2="474.05" stroke="#111" stroke-width="0.6"/>
<polygon points="464.1,475.1 462.05,474.87 463.22,473.24" stroke="none" stroke-width="1" fill="#111"/>
<line x1="452.9" y1="524.9" x2="458.91" y2="522.72" stroke="#111" stroke-width="0.6"/>
<polygon points="460.6,522.1 459.25,523.65 458.57,521.78" stroke="none" stroke-width="1" fill="#111"/>
<text x="494.8" y="422" font-size="10.5" text-anchor="start" fill="#111">f</text>
<line x1="518.5" y1="439.25" x2="661.5" y2="439.25" stroke="#111" stroke-width="0.9" stroke-dasharray="3.2,2"/>
<line x1="518.5" y1="446.52" x2="661.5" y2="446.52" stroke="#111" stroke-width="0.9" stroke-dasharray="3.2,2"/>
<polyline points="518.5,519.96 526.03,506.7 533.55,496.75 541.08,493.31 548.61,486.81 556.13,486.81 563.66,473.29 571.18,476.61 578.71,469.85 586.24,469.85 593.76,463.35 601.29,449.96 608.82,446.9 616.34,443.46 623.87,440.4 631.39,440.4 638.92,440.4 646.45,436.44 653.97,433 661.5,433" stroke="#d9541a" stroke-width="0.9" fill="none"/>
<circle cx="518.5" cy="519.96" r="0.9" fill="#d9541a" stroke="none" stroke-width="1"/>
<circle cx="526.03" cy="506.7" r="0.9" fill="#d9541a" stroke="none" stroke-width="1"/>
<circle cx="533.55" cy="496.75" r="0.9" fill="#d9541a" stroke="none" stroke-width="1"/>
<circle cx="541.08" cy="493.31" r="0.9" fill="#d9541a" stroke="none" stroke-width="1"/>
<circle cx="548.61" cy="486.81" r="0.9" fill="#d9541a" stroke="none" stroke-width="1"/>
<circle cx="556.13" cy="486.81" r="0.9" fill="#d9541a" stroke="none" stroke-width="1"/>
<circle cx="563.66" cy="473.29" r="0.9" fill="#d9541a" stroke="none" stroke-width="1"/>
<circle cx="571.18" cy="476.61" r="0.9" fill="#d9541a" stroke="none" stroke-width="1"/>
<circle cx="578.71" cy="469.85" r="0.9" fill="#d9541a" stroke="none" stroke-width="1"/>
<circle cx="586.24" cy="469.85" r="0.9" fill="#d9541a" stroke="none" stroke-width="1"/>
<circle cx="593.76" cy="463.35" r="0.9" fill="#d9541a" stroke="none" stroke-width="1"/>
<circle cx="601.29" cy="449.96" r="0.9" fill="#d9541a" stroke="none" stroke-width="1"/>
<circle cx="608.82" cy="446.9" r="0.9" fill="#d9541a" stroke="none" stroke-width="1"/>
<circle cx="616.34" cy="443.46" r="0.9" fill="#d9541a" stroke="none" stroke-width="1"/>
<circle cx="623.87" cy="440.4" r="0.9" fill="#d9541a" stroke="none" stroke-width="1"/>
<circle cx="631.39" cy="440.4" r="0.9" fill="#d9541a" stroke="none" stroke-width="1"/>
<circle cx="638.92" cy="440.4" r="0.9" fill="#d9541a" stroke="none" stroke-width="1"/>
<circle cx="646.45" cy="436.44" r="0.9" fill="#d9541a" stroke="none" stroke-width="1"/>
<circle cx="653.97" cy="433" r="0.9" fill="#d9541a" stroke="none" stroke-width="1"/>
<circle cx="661.5" cy="433" r="0.9" fill="#d9541a" stroke="none" stroke-width="1"/>
<polyline points="518.5,496.75 526.03,480.31 533.55,478.01 541.08,461.94 548.61,461.94 556.13,461.94 563.66,450.85 571.18,448.05 578.71,445.5 586.24,445.5 593.76,444.86 601.29,440.65 608.82,442.95 616.34,445.5 623.87,448.3 631.39,445.5 638.92,442.31 646.45,442.31 653.97,442.31 661.5,445.5" stroke="#0a72bd" stroke-width="0.9" fill="none"/>
<circle cx="518.5" cy="496.75" r="1.35" fill="#0a72bd" stroke="none" stroke-width="1"/>
<circle cx="526.03" cy="480.31" r="1.35" fill="#0a72bd" stroke="none" stroke-width="1"/>
<circle cx="533.55" cy="478.01" r="1.35" fill="#0a72bd" stroke="none" stroke-width="1"/>
<circle cx="541.08" cy="461.94" r="1.35" fill="#0a72bd" stroke="none" stroke-width="1"/>
<circle cx="548.61" cy="461.94" r="1.35" fill="#0a72bd" stroke="none" stroke-width="1"/>
<circle cx="556.13" cy="461.94" r="1.35" fill="#0a72bd" stroke="none" stroke-width="1"/>
<circle cx="563.66" cy="450.85" r="1.35" fill="#0a72bd" stroke="none" stroke-width="1"/>
<circle cx="571.18" cy="448.05" r="1.35" fill="#0a72bd" stroke="none" stroke-width="1"/>
<circle cx="578.71" cy="445.5" r="1.35" fill="#0a72bd" stroke="none" stroke-width="1"/>
<circle cx="586.24" cy="445.5" r="1.35" fill="#0a72bd" stroke="none" stroke-width="1"/>
<circle cx="593.76" cy="444.86" r="1.35" fill="#0a72bd" stroke="none" stroke-width="1"/>
<circle cx="601.29" cy="440.65" r="1.35" fill="#0a72bd" stroke="none" stroke-width="1"/>
<circle cx="608.82" cy="442.95" r="1.35" fill="#0a72bd" stroke="none" stroke-width="1"/>
<circle cx="616.34" cy="445.5" r="1.35" fill="#0a72bd" stroke="none" stroke-width="1"/>
<circle cx="623.87" cy="448.3" r="1.35" fill="#0a72bd" stroke="none" stroke-width="1"/>
<circle cx="631.39" cy="445.5" r="1.35" fill="#0a72bd" stroke="none" stroke-width="1"/>
<circle cx="638.92" cy="442.31" r="1.35" fill="#0a72bd" stroke="none" stroke-width="1"/>
<circle cx="646.45" cy="442.31" r="1.35" fill="#0a72bd" stroke="none" stroke-width="1"/>
<circle cx="653.97" cy="442.31" r="1.35" fill="#0a72bd" stroke="none" stroke-width="1"/>
<circle cx="661.5" cy="445.5" r="1.35" fill="#0a72bd" stroke="none" stroke-width="1"/>
<polyline points="518.5,476.1 526.03,454.29 533.55,442.95 541.08,442.95 548.61,437.21 556.13,432.11 563.66,432.11 571.18,432.11 578.71,432.11 586.24,426.5 593.76,426.5 601.29,426.5 608.82,426.5 616.34,426.5 623.87,426.5 631.39,426.5 638.92,426.5 646.45,426.5 653.97,426.5 661.5,426.5" stroke="#edb120" stroke-width="0.9" fill="none"/>
<polygon points="516.9,477.38 520.1,477.38 518.5,474.5" stroke="none" stroke-width="1" fill="#edb120"/>
<polygon points="524.43,455.57 527.63,455.57 526.03,452.69" stroke="none" stroke-width="1" fill="#edb120"/>
<polygon points="531.95,444.23 535.15,444.23 533.55,441.35" stroke="none" stroke-width="1" fill="#edb120"/>
<polygon points="539.48,444.23 542.68,444.23 541.08,441.35" stroke="none" stroke-width="1" fill="#edb120"/>
<polygon points="547.01,438.49 550.21,438.49 548.61,435.61" stroke="none" stroke-width="1" fill="#edb120"/>
<polygon points="554.53,433.39 557.73,433.39 556.13,430.51" stroke="none" stroke-width="1" fill="#edb120"/>
<polygon points="562.06,433.39 565.26,433.39 563.66,430.51" stroke="none" stroke-width="1" fill="#edb120"/>
<polygon points="569.58,433.39 572.78,433.39 571.18,430.51" stroke="none" stroke-width="1" fill="#edb120"/>
<polygon points="577.11,433.39 580.31,433.39 578.71,430.51" stroke="none" stroke-width="1" fill="#edb120"/>
<polygon points="584.64,427.78 587.84,427.78 586.24,424.9" stroke="none" stroke-width="1" fill="#edb120"/>
<polygon points="592.16,427.78 595.36,427.78 593.76,424.9" stroke="none" stroke-width="1" fill="#edb120"/>
<polygon points="599.69,427.78 602.89,427.78 601.29,424.9" stroke="none" stroke-width="1" fill="#edb120"/>
<polygon points="607.22,427.78 610.42,427.78 608.82,424.9" stroke="none" stroke-width="1" fill="#edb120"/>
<polygon points="614.74,427.78 617.94,427.78 616.34,424.9" stroke="none" stroke-width="1" fill="#edb120"/>
<polygon points="622.27,427.78 625.47,427.78 623.87,424.9" stroke="none" stroke-width="1" fill="#edb120"/>
<polygon points="629.79,427.78 632.99,427.78 631.39,424.9" stroke="none" stroke-width="1" fill="#edb120"/>
<polygon points="637.32,427.78 640.52,427.78 638.92,424.9" stroke="none" stroke-width="1" fill="#edb120"/>
<polygon points="644.85,427.78 648.05,427.78 646.45,424.9" stroke="none" stroke-width="1" fill="#edb120"/>
<polygon points="652.37,427.78 655.57,427.78 653.97,424.9" stroke="none" stroke-width="1" fill="#edb120"/>
<polygon points="659.9,427.78 663.1,427.78 661.5,424.9" stroke="none" stroke-width="1" fill="#edb120"/>
<rect x="518.5" y="426.5" width="143" height="102" fill="none" stroke="#222" stroke-width="1"/>
<line x1="518.5" y1="503" x2="520" y2="503" stroke="#222" stroke-width="0.6"/>
<line x1="661.5" y1="503" x2="660" y2="503" stroke="#222" stroke-width="0.6"/>
<line x1="518.5" y1="477.5" x2="520" y2="477.5" stroke="#222" stroke-width="0.6"/>
<line x1="661.5" y1="477.5" x2="660" y2="477.5" stroke="#222" stroke-width="0.6"/>
<line x1="518.5" y1="452" x2="520" y2="452" stroke="#222" stroke-width="0.6"/>
<line x1="661.5" y1="452" x2="660" y2="452" stroke="#222" stroke-width="0.6"/>
<line x1="526.03" y1="528.5" x2="526.03" y2="527" stroke="#222" stroke-width="0.6"/>
<line x1="526.03" y1="426.5" x2="526.03" y2="428" stroke="#222" stroke-width="0.6"/>
<line x1="541.08" y1="528.5" x2="541.08" y2="527" stroke="#222" stroke-width="0.6"/>
<line x1="541.08" y1="426.5" x2="541.08" y2="428" stroke="#222" stroke-width="0.6"/>
<line x1="556.13" y1="528.5" x2="556.13" y2="527" stroke="#222" stroke-width="0.6"/>
<line x1="556.13" y1="426.5" x2="556.13" y2="428" stroke="#222" stroke-width="0.6"/>
<line x1="571.18" y1="528.5" x2="571.18" y2="527" stroke="#222" stroke-width="0.6"/>
<line x1="571.18" y1="426.5" x2="571.18" y2="428" stroke="#222" stroke-width="0.6"/>
<line x1="586.24" y1="528.5" x2="586.24" y2="527" stroke="#222" stroke-width="0.6"/>
<line x1="586.24" y1="426.5" x2="586.24" y2="428" stroke="#222" stroke-width="0.6"/>
<line x1="601.29" y1="528.5" x2="601.29" y2="527" stroke="#222" stroke-width="0.6"/>
<line x1="601.29" y1="426.5" x2="601.29" y2="428" stroke="#222" stroke-width="0.6"/>
<line x1="616.34" y1="528.5" x2="616.34" y2="527" stroke="#222" stroke-width="0.6"/>
<line x1="616.34" y1="426.5" x2="616.34" y2="428" stroke="#222" stroke-width="0.6"/>
<line x1="631.39" y1="528.5" x2="631.39" y2="527" stroke="#222" stroke-width="0.6"/>
<line x1="631.39" y1="426.5" x2="631.39" y2="428" stroke="#222" stroke-width="0.6"/>
<line x1="646.45" y1="528.5" x2="646.45" y2="527" stroke="#222" stroke-width="0.6"/>
<line x1="646.45" y1="426.5" x2="646.45" y2="428" stroke="#222" stroke-width="0.6"/>
<text x="516.1" y="531.8" font-size="7.6" text-anchor="end" fill="#262626">20</text>
<text x="516.1" y="506.3" font-size="7.6" text-anchor="end" fill="#262626">40</text>
<text x="516.1" y="480.8" font-size="7.6" text-anchor="end" fill="#262626">60</text>
<text x="516.1" y="455.3" font-size="7.6" text-anchor="end" fill="#262626">80</text>
<text x="516.1" y="429.8" font-size="7.6" text-anchor="end" fill="#262626">100</text>
<text x="518.5" y="539.3" font-size="7.6" text-anchor="middle" fill="#262626">1</text>
<text x="526.03" y="539.3" font-size="7.6" text-anchor="middle" fill="#262626">2</text>
<text x="541.08" y="539.3" font-size="7.6" text-anchor="middle" fill="#262626">4</text>
<text x="556.13" y="539.3" font-size="7.6" text-anchor="middle" fill="#262626">6</text>
<text x="571.18" y="539.3" font-size="7.6" text-anchor="middle" fill="#262626">8</text>
<text x="586.24" y="539.3" font-size="7.6" text-anchor="middle" fill="#262626">10</text>
<text x="601.29" y="539.3" font-size="7.6" text-anchor="middle" fill="#262626">12</text>
<text x="616.34" y="539.3" font-size="7.6" text-anchor="middle" fill="#262626">14</text>
<text x="631.39" y="539.3" font-size="7.6" text-anchor="middle" fill="#262626">16</text>
<text x="646.45" y="539.3" font-size="7.6" text-anchor="middle" fill="#262626">18</text>
<text x="661.5" y="539.3" font-size="7.6" text-anchor="middle" fill="#262626">20</text>
<text x="589.6" y="549" font-size="8.5" text-anchor="middle" fill="#262626">Pulse number #</text>
<text x="501.6" y="477.6" font-size="8.4" text-anchor="middle" fill="#262626" transform="rotate(-90 501.6 477.6)">Accuracy (%)</text>
<text x="663" y="441.6" font-size="7.2" text-anchor="start" fill="#262626">90%</text>
<text x="663" y="449.6" font-size="7.2" text-anchor="start" fill="#262626">85%</text>
<rect x="616.3" y="467.6" width="37.5" height="26.9" fill="#fff" stroke="#222" stroke-width="0.7"/>
<line x1="618" y1="472.4" x2="629.7" y2="472.4" stroke="#0a72bd" stroke-width="0.9"/>
<circle cx="623.8" cy="472.4" r="1.35" fill="#0a72bd" stroke="none" stroke-width="1"/>
<text x="630.7" y="475.4" font-size="7" text-anchor="start" fill="#111">MIMIC</text>
<line x1="618" y1="480.9" x2="629.7" y2="480.9" stroke="#d9541a" stroke-width="0.9"/>
<circle cx="623.8" cy="480.9" r="0.9" fill="#d9541a" stroke="none" stroke-width="1"/>
<text x="630.7" y="483.9" font-size="7" text-anchor="start" fill="#111">Elderly</text>
<line x1="618" y1="489.4" x2="629.7" y2="489.4" stroke="#edb120" stroke-width="0.9"/>
<polygon points="622.3,490.6 625.3,490.6 623.8,487.9" stroke="none" stroke-width="1" fill="#edb120"/>
<text x="630.7" y="492.4" font-size="7" text-anchor="start" fill="#111">Young</text>
</svg>
</body></html>
